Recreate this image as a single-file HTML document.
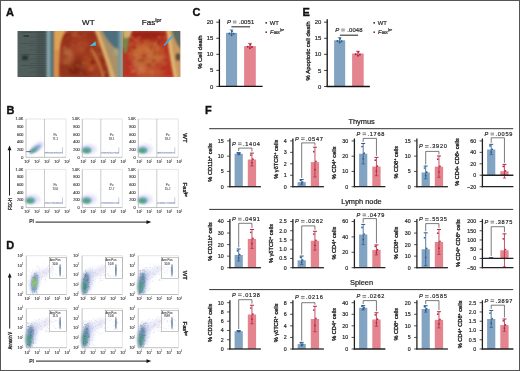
<!DOCTYPE html>
<html><head><meta charset="utf-8"><style>
html,body{margin:0;padding:0;background:#fff;}
body{width:520px;height:371px;overflow:hidden;position:relative;font-family:"Liberation Sans",sans-serif;}
svg{display:block;position:absolute;left:0;top:0;will-change:transform;}
.frame{position:absolute;left:0;top:0;width:518px;height:369px;border:1px solid #555;pointer-events:none;}
</style></head><body>
<svg width="520" height="371" viewBox="0 0 520 371" font-family="Liberation Sans, sans-serif">
<defs>
<filter id="b1" x="-50%" y="-50%" width="200%" height="200%"><feGaussianBlur stdDeviation="0.8"/></filter>
<filter id="b2" x="-50%" y="-50%" width="200%" height="200%"><feGaussianBlur stdDeviation="1.6"/></filter>
<filter id="bp" x="-20%" y="-20%" width="140%" height="140%"><feGaussianBlur stdDeviation="1.2"/></filter>
<filter id="bph" filterUnits="userSpaceOnUse" x="0" y="20" width="200" height="70"><feGaussianBlur stdDeviation="1.3"/></filter>
<filter id="bqq" filterUnits="userSpaceOnUse" x="0" y="20" width="200" height="70"><feGaussianBlur stdDeviation="2.6"/></filter>
<filter id="b1q" filterUnits="userSpaceOnUse" x="0" y="20" width="200" height="70"><feGaussianBlur stdDeviation="0.8"/></filter>
<filter id="b05" x="-50%" y="-50%" width="200%" height="200%"><feGaussianBlur stdDeviation="0.4"/></filter>
<filter id="bq" x="-20%" y="-20%" width="140%" height="140%"><feGaussianBlur stdDeviation="2.5"/></filter>
<clipPath id="ph1"><rect x="17.5" y="31" width="103.7" height="46"/></clipPath>
<clipPath id="ph2"><rect x="122.6" y="31" width="57.6" height="46"/></clipPath>
</defs>
<rect x="0" y="0" width="520" height="371" fill="#fff" />
<text x="6" y="15.6" font-size="11" text-anchor="start" fill="#111" font-weight="bold" stroke="#111" stroke-width="0.35">A</text>
<text x="6.6" y="113.9" font-size="11" text-anchor="start" fill="#111" font-weight="bold" stroke="#111" stroke-width="0.35">B</text>
<text x="192.6" y="15.8" font-size="11" text-anchor="start" fill="#111" font-weight="bold" stroke="#111" stroke-width="0.35">C</text>
<text x="6.3" y="248.9" font-size="11" text-anchor="start" fill="#111" font-weight="bold" stroke="#111" stroke-width="0.35">D</text>
<text x="302.4" y="15.9" font-size="11" text-anchor="start" fill="#111" font-weight="bold" stroke="#111" stroke-width="0.35">E</text>
<text x="205.1" y="113.9" font-size="11" text-anchor="start" fill="#111" font-weight="bold" stroke="#111" stroke-width="0.35">F</text>
<text x="88.3" y="25.2" font-size="8" text-anchor="middle" fill="#111" stroke="#111" stroke-width="0.2">WT</text>
<text x="141.8" y="25.2" font-size="8" fill="#111" stroke="#111" stroke-width="0.2">Fas<tspan font-size="5.6" dy="-3">lpr</tspan></text>
<g clip-path="url(#ph1)">
<g filter="url(#bph)">
<rect x="14" y="28" width="36" height="52" fill="#515e5c" />
<rect x="37" y="28" width="10" height="52" fill="#4a5654" />
<rect x="46.5" y="28" width="3.5" height="52" fill="#86a4aa" />
<rect x="50" y="28" width="5" height="52" fill="#527e88" />
</g><g filter="url(#bqq)">
<rect x="55" y="28" width="70" height="52" fill="#96301a" />
<ellipse cx="76" cy="68" rx="12" ry="7" fill="#7a2010"/>
<ellipse cx="80" cy="45" rx="10" ry="9" fill="#a43c20"/>
<ellipse cx="90" cy="62" rx="7" ry="9" fill="#ac4622"/>
<ellipse cx="67.1" cy="52.6" rx="3.7" ry="2.6" fill="#dca068" opacity="0.67"/>
<ellipse cx="81.7" cy="46.7" rx="3.6" ry="2.0" fill="#c87848" opacity="0.41"/>
<ellipse cx="67.9" cy="50.4" rx="2.9" ry="2.0" fill="#c87848" opacity="0.36"/>
<ellipse cx="62.8" cy="60.7" rx="2.4" ry="1.7" fill="#dca068" opacity="0.47"/>
<ellipse cx="70.3" cy="55.3" rx="3.1" ry="3.0" fill="#d08850" opacity="0.60"/>
<ellipse cx="74.3" cy="33.9" rx="2.5" ry="2.8" fill="#b86038" opacity="0.47"/>
<ellipse cx="91.8" cy="56.6" rx="3.2" ry="1.7" fill="#b86038" opacity="0.54"/>
<ellipse cx="81.6" cy="66.9" rx="1.7" ry="2.5" fill="#dca068" opacity="0.44"/>
<ellipse cx="96.0" cy="64.9" rx="2.5" ry="1.5" fill="#d08850" opacity="0.36"/>
<ellipse cx="95.9" cy="72.9" rx="2.1" ry="2.8" fill="#b86038" opacity="0.53"/>
<ellipse cx="97.8" cy="43.2" rx="1.8" ry="2.1" fill="#c87848" opacity="0.52"/>
<ellipse cx="67.8" cy="69.9" rx="2.2" ry="1.3" fill="#d08850" opacity="0.63"/>
<ellipse cx="99.8" cy="53.6" rx="3.0" ry="1.8" fill="#dca068" opacity="0.46"/>
<ellipse cx="69.2" cy="61.7" rx="3.7" ry="2.9" fill="#d08850" opacity="0.65"/>
<ellipse cx="74.4" cy="45.1" rx="2.1" ry="2.4" fill="#c87848" opacity="0.46"/>
<ellipse cx="81.0" cy="45.7" rx="2.5" ry="1.2" fill="#b86038" opacity="0.67"/>
<ellipse cx="97.5" cy="44.4" rx="3.2" ry="1.3" fill="#dca068" opacity="0.37"/>
<ellipse cx="79.8" cy="51.6" rx="3.5" ry="2.4" fill="#b86038" opacity="0.47"/>
</g><g filter="url(#b1q)">
<ellipse cx="73.3" cy="70.6" rx="2.4" ry="1.0" fill="#942a16" opacity="0.37"/>
<ellipse cx="98.2" cy="73.9" rx="1.2" ry="1.0" fill="#a8502a" opacity="0.49"/>
<ellipse cx="82.5" cy="46.3" rx="1.5" ry="0.8" fill="#8a2614" opacity="0.55"/>
<ellipse cx="79.7" cy="36.6" rx="1.6" ry="0.9" fill="#c88050" opacity="0.37"/>
<ellipse cx="105.4" cy="47.1" rx="2.2" ry="1.1" fill="#a45030" opacity="0.47"/>
<ellipse cx="89.3" cy="43.5" rx="2.0" ry="1.8" fill="#b0341f" opacity="0.57"/>
<ellipse cx="109.9" cy="48.7" rx="1.5" ry="1.2" fill="#b0482a" opacity="0.32"/>
<ellipse cx="62.2" cy="42.8" rx="2.3" ry="1.5" fill="#b0341f" opacity="0.44"/>
<ellipse cx="72.3" cy="52.9" rx="2.3" ry="1.7" fill="#a8502a" opacity="0.39"/>
<ellipse cx="66.3" cy="56.0" rx="2.3" ry="1.0" fill="#741c10" opacity="0.33"/>
<ellipse cx="64.5" cy="48.1" rx="1.6" ry="2.0" fill="#b86a3a" opacity="0.59"/>
<ellipse cx="72.6" cy="31.1" rx="1.6" ry="1.8" fill="#b0341f" opacity="0.60"/>
<ellipse cx="106.1" cy="75.9" rx="1.3" ry="1.8" fill="#681a0e" opacity="0.53"/>
<ellipse cx="85.5" cy="44.0" rx="1.7" ry="1.8" fill="#a45030" opacity="0.31"/>
<ellipse cx="105.8" cy="35.3" rx="2.2" ry="1.3" fill="#c88050" opacity="0.35"/>
<ellipse cx="104.7" cy="72.3" rx="1.0" ry="1.6" fill="#c88050" opacity="0.62"/>
<ellipse cx="95.9" cy="60.2" rx="0.9" ry="1.0" fill="#8a2614" opacity="0.51"/>
<ellipse cx="81.1" cy="73.2" rx="1.0" ry="1.2" fill="#c88050" opacity="0.47"/>
<ellipse cx="107.9" cy="46.5" rx="1.5" ry="1.5" fill="#942a16" opacity="0.44"/>
<ellipse cx="67.1" cy="53.0" rx="0.9" ry="1.5" fill="#a45030" opacity="0.50"/>
<ellipse cx="98.2" cy="38.4" rx="2.1" ry="0.9" fill="#8a2614" opacity="0.52"/>
<ellipse cx="73.8" cy="70.9" rx="1.8" ry="0.9" fill="#8a2614" opacity="0.46"/>
<ellipse cx="90.6" cy="68.6" rx="1.7" ry="1.2" fill="#c88050" opacity="0.51"/>
<ellipse cx="108.4" cy="54.3" rx="1.9" ry="1.1" fill="#b0482a" opacity="0.56"/>
<ellipse cx="102.3" cy="43.9" rx="1.3" ry="1.4" fill="#741c10" opacity="0.49"/>
<ellipse cx="64.7" cy="61.5" rx="0.9" ry="1.1" fill="#a45030" opacity="0.37"/>
<ellipse cx="72.9" cy="67.7" rx="1.8" ry="1.4" fill="#b0341f" opacity="0.69"/>
<ellipse cx="91.2" cy="63.2" rx="1.4" ry="1.5" fill="#b0341f" opacity="0.43"/>
<ellipse cx="77.6" cy="35.5" rx="1.6" ry="0.8" fill="#a8502a" opacity="0.51"/>
<ellipse cx="85.6" cy="61.0" rx="1.4" ry="1.8" fill="#942a16" opacity="0.45"/>
<ellipse cx="103.8" cy="57.1" rx="1.5" ry="1.8" fill="#b0341f" opacity="0.48"/>
<ellipse cx="91.2" cy="57.8" rx="1.5" ry="1.8" fill="#681a0e" opacity="0.52"/>
<ellipse cx="65.1" cy="62.6" rx="1.0" ry="1.6" fill="#b86a3a" opacity="0.70"/>
<ellipse cx="76.1" cy="47.2" rx="1.7" ry="1.2" fill="#942a16" opacity="0.37"/>
<ellipse cx="104.8" cy="65.1" rx="2.3" ry="0.9" fill="#a45030" opacity="0.55"/>
<ellipse cx="74.5" cy="34.9" rx="2.4" ry="1.3" fill="#c88050" opacity="0.42"/>
<ellipse cx="91.2" cy="33.4" rx="1.8" ry="1.9" fill="#942a16" opacity="0.59"/>
<ellipse cx="107.5" cy="41.9" rx="2.0" ry="2.0" fill="#b86a3a" opacity="0.63"/>
<ellipse cx="76.3" cy="44.0" rx="1.4" ry="1.2" fill="#9a3420" opacity="0.47"/>
<ellipse cx="82.9" cy="52.8" rx="1.9" ry="1.1" fill="#b0482a" opacity="0.36"/>
<ellipse cx="106.6" cy="54.9" rx="2.3" ry="1.8" fill="#8a2614" opacity="0.32"/>
<ellipse cx="109.3" cy="41.9" rx="1.9" ry="1.6" fill="#741c10" opacity="0.66"/>
<ellipse cx="72.0" cy="61.7" rx="1.5" ry="1.1" fill="#a8502a" opacity="0.44"/>
<ellipse cx="86.2" cy="75.0" rx="2.1" ry="0.8" fill="#741c10" opacity="0.33"/>
<ellipse cx="93.2" cy="62.7" rx="1.0" ry="1.8" fill="#b0341f" opacity="0.68"/>
<ellipse cx="70.7" cy="70.6" rx="1.2" ry="1.5" fill="#681a0e" opacity="0.65"/>
<ellipse cx="98.7" cy="32.7" rx="1.1" ry="1.2" fill="#741c10" opacity="0.30"/>
<ellipse cx="81.8" cy="49.8" rx="1.2" ry="1.6" fill="#a8502a" opacity="0.56"/>
<ellipse cx="94.8" cy="66.5" rx="1.6" ry="1.0" fill="#a8502a" opacity="0.37"/>
<ellipse cx="70.4" cy="41.0" rx="1.3" ry="0.9" fill="#942a16" opacity="0.66"/>
<ellipse cx="63.3" cy="31.4" rx="1.1" ry="1.8" fill="#b0341f" opacity="0.45"/>
<ellipse cx="76.2" cy="31.5" rx="1.4" ry="1.1" fill="#b86a3a" opacity="0.67"/>
<ellipse cx="67.7" cy="37.6" rx="1.4" ry="0.9" fill="#a45030" opacity="0.62"/>
<ellipse cx="91.4" cy="49.6" rx="1.3" ry="2.0" fill="#c88050" opacity="0.49"/>
<ellipse cx="89.0" cy="58.3" rx="2.3" ry="1.2" fill="#b0482a" opacity="0.54"/>
<ellipse cx="93.0" cy="62.4" rx="2.3" ry="1.6" fill="#681a0e" opacity="0.59"/>
<ellipse cx="66.2" cy="36.2" rx="2.0" ry="1.2" fill="#681a0e" opacity="0.39"/>
<ellipse cx="104.5" cy="60.5" rx="1.0" ry="1.0" fill="#741c10" opacity="0.61"/>
<ellipse cx="103.8" cy="45.2" rx="1.2" ry="1.9" fill="#a45030" opacity="0.70"/>
<ellipse cx="92.0" cy="61.1" rx="1.9" ry="1.8" fill="#681a0e" opacity="0.40"/>
<ellipse cx="107.1" cy="37.1" rx="1.5" ry="1.8" fill="#9a3420" opacity="0.55"/>
<ellipse cx="67.7" cy="75.7" rx="1.0" ry="1.5" fill="#9a3420" opacity="0.32"/>
<ellipse cx="84.2" cy="57.1" rx="1.5" ry="0.8" fill="#b0482a" opacity="0.51"/>
<ellipse cx="101.3" cy="50.9" rx="2.4" ry="1.4" fill="#741c10" opacity="0.37"/>
<ellipse cx="105.9" cy="44.7" rx="1.4" ry="1.8" fill="#b0482a" opacity="0.38"/>
<ellipse cx="68.8" cy="45.1" rx="1.1" ry="1.7" fill="#8a2614" opacity="0.33"/>
<ellipse cx="85.0" cy="35.3" rx="1.7" ry="0.9" fill="#b0482a" opacity="0.65"/>
<ellipse cx="61.3" cy="31.3" rx="1.6" ry="1.6" fill="#a8502a" opacity="0.35"/>
<ellipse cx="83.8" cy="62.8" rx="1.0" ry="0.9" fill="#c88050" opacity="0.68"/>
<ellipse cx="105.8" cy="74.9" rx="1.1" ry="1.9" fill="#741c10" opacity="0.44"/>
<ellipse cx="104.6" cy="44.4" rx="1.6" ry="1.5" fill="#b0341f" opacity="0.57"/>
<ellipse cx="91.6" cy="69.3" rx="2.2" ry="1.7" fill="#c88050" opacity="0.37"/>
<ellipse cx="72.7" cy="61.9" rx="2.0" ry="1.0" fill="#8a2614" opacity="0.45"/>
<ellipse cx="107.5" cy="55.9" rx="1.8" ry="1.4" fill="#741c10" opacity="0.55"/>
<ellipse cx="91.7" cy="45.2" rx="2.3" ry="1.4" fill="#681a0e" opacity="0.31"/>
<ellipse cx="98.1" cy="61.7" rx="2.3" ry="1.2" fill="#9a3420" opacity="0.36"/>
<ellipse cx="91.2" cy="45.4" rx="0.9" ry="1.5" fill="#a45030" opacity="0.48"/>
<ellipse cx="91.1" cy="69.8" rx="2.0" ry="1.6" fill="#a8502a" opacity="0.56"/>
<ellipse cx="75.4" cy="42.8" rx="0.8" ry="1.9" fill="#8a2614" opacity="0.64"/>
<ellipse cx="102.0" cy="58.5" rx="1.0" ry="1.4" fill="#8a2614" opacity="0.59"/>
<ellipse cx="77.4" cy="65.5" rx="2.1" ry="1.7" fill="#a8502a" opacity="0.54"/>
<ellipse cx="87.8" cy="55.6" rx="0.9" ry="1.9" fill="#681a0e" opacity="0.34"/>
<ellipse cx="69.7" cy="63.9" rx="0.8" ry="1.0" fill="#9a3420" opacity="0.37"/>
<ellipse cx="87.7" cy="58.3" rx="1.6" ry="1.3" fill="#b0341f" opacity="0.46"/>
<ellipse cx="97.1" cy="67.9" rx="0.8" ry="1.1" fill="#a8502a" opacity="0.50"/>
<ellipse cx="84.6" cy="34.5" rx="2.1" ry="1.2" fill="#a45030" opacity="0.46"/>
<ellipse cx="85.0" cy="53.6" rx="1.6" ry="1.4" fill="#9a3420" opacity="0.55"/>
<ellipse cx="88.1" cy="47.9" rx="1.8" ry="2.0" fill="#8a2614" opacity="0.68"/>
<ellipse cx="87.8" cy="47.1" rx="1.4" ry="1.7" fill="#a45030" opacity="0.51"/>
<ellipse cx="77.6" cy="38.4" rx="1.9" ry="1.1" fill="#9a3420" opacity="0.64"/>
</g><g filter="url(#bph)">
<path d="M54 28 L70 28 Q61 34 60 50 Q58.5 65 59 80 L54 80 Z" fill="#d49048"/>
<path d="M55 28 L66 28 Q60 36 59 50 L55 50 Z" fill="#dca458"/>
<path d="M94 28 L128 28 L128 80 L110 80 Q106 55 94 28 Z" fill="#a89068"/>
<path d="M99 28 L128 28 L128 54 Q110 50 101 28 Z" fill="#4e6e7e"/>
<path d="M96 28 Q104 50 114 80" stroke="#dcae68" stroke-width="4" fill="none"/>
<path d="M92 50 Q100 62 104 80" stroke="#c87a40" stroke-width="3" fill="none" opacity="0.8"/>
<ellipse cx="116" cy="52" rx="3" ry="4" fill="#a8a880" opacity="0.7"/>
<rect x="118.5" y="28" width="4" height="52" fill="#6f9aa2" />
</g>
<line x1="21" y1="32.5" x2="46.5" y2="32.5" stroke="#3a4543" stroke-width="0.55"/>
<line x1="35" y1="34.7" x2="46.5" y2="34.7" stroke="#414c4a" stroke-width="0.5"/>
<line x1="30" y1="36.9" x2="46.5" y2="36.9" stroke="#3e4947" stroke-width="0.5"/>
<line x1="35" y1="39.1" x2="46.5" y2="39.1" stroke="#414c4a" stroke-width="0.5"/>
<line x1="30" y1="41.3" x2="46.5" y2="41.3" stroke="#3e4947" stroke-width="0.5"/>
<line x1="21" y1="43.5" x2="46.5" y2="43.5" stroke="#3a4543" stroke-width="0.55"/>
<line x1="30" y1="45.7" x2="46.5" y2="45.7" stroke="#3e4947" stroke-width="0.5"/>
<line x1="35" y1="47.9" x2="46.5" y2="47.9" stroke="#414c4a" stroke-width="0.5"/>
<line x1="30" y1="50.1" x2="46.5" y2="50.1" stroke="#3e4947" stroke-width="0.5"/>
<line x1="35" y1="52.3" x2="46.5" y2="52.3" stroke="#414c4a" stroke-width="0.5"/>
<line x1="21" y1="54.5" x2="46.5" y2="54.5" stroke="#3a4543" stroke-width="0.55"/>
<line x1="35" y1="56.7" x2="46.5" y2="56.7" stroke="#414c4a" stroke-width="0.5"/>
<line x1="30" y1="58.9" x2="46.5" y2="58.9" stroke="#3e4947" stroke-width="0.5"/>
<line x1="35" y1="61.1" x2="46.5" y2="61.1" stroke="#414c4a" stroke-width="0.5"/>
<line x1="30" y1="63.3" x2="46.5" y2="63.3" stroke="#3e4947" stroke-width="0.5"/>
<line x1="21" y1="65.5" x2="46.5" y2="65.5" stroke="#3a4543" stroke-width="0.55"/>
<line x1="30" y1="67.7" x2="46.5" y2="67.7" stroke="#3e4947" stroke-width="0.5"/>
<line x1="35" y1="69.9" x2="46.5" y2="69.9" stroke="#414c4a" stroke-width="0.5"/>
<line x1="30" y1="72.1" x2="46.5" y2="72.1" stroke="#3e4947" stroke-width="0.5"/>
<line x1="35" y1="74.3" x2="46.5" y2="74.3" stroke="#414c4a" stroke-width="0.5"/>
<line x1="21" y1="76.5" x2="46.5" y2="76.5" stroke="#3a4543" stroke-width="0.55"/>
<rect x="23.5" y="35.2" width="5.5" height="1.6" fill="#303838" filter="url(#b05)"/>
<rect x="22" y="55.5" width="6" height="4.5" fill="#283032" filter="url(#b1)"/>
<path d="M89.5 46 L95.5 41.5 L96 45.5 Z" fill="#3fc6e6" filter="url(#b05)"/>
</g>
<rect x="120.2" y="31" width="2" height="46" fill="#8aa09c" />
<g clip-path="url(#ph2)">
<g filter="url(#bph)">
</g><g filter="url(#bqq)">
<rect x="118" y="28" width="66" height="52" fill="#b83222" />
<ellipse cx="146" cy="35" rx="20" ry="6" fill="#9a2418"/>
<ellipse cx="147" cy="54" rx="16" ry="13" fill="#bc5c2c"/>
<ellipse cx="141" cy="50" rx="8" ry="6" fill="#c46a34"/>
<ellipse cx="150" cy="72" rx="14" ry="4" fill="#c05a30"/>
<ellipse cx="150.3" cy="62.4" rx="1.5" ry="2.6" fill="#dca068" opacity="0.63"/>
<ellipse cx="147.0" cy="59.8" rx="3.0" ry="1.7" fill="#b86038" opacity="0.55"/>
<ellipse cx="148.7" cy="55.8" rx="2.9" ry="2.7" fill="#b86038" opacity="0.53"/>
<ellipse cx="141.2" cy="69.5" rx="3.3" ry="2.8" fill="#dca068" opacity="0.68"/>
<ellipse cx="136.3" cy="64.9" rx="3.8" ry="2.4" fill="#dca068" opacity="0.57"/>
<ellipse cx="138.7" cy="66.7" rx="2.1" ry="1.6" fill="#b86038" opacity="0.61"/>
<ellipse cx="159.2" cy="62.1" rx="3.9" ry="2.1" fill="#c87848" opacity="0.44"/>
<ellipse cx="137.6" cy="60.0" rx="2.2" ry="1.2" fill="#c87848" opacity="0.67"/>
<ellipse cx="154.0" cy="57.0" rx="4.0" ry="1.5" fill="#dca068" opacity="0.43"/>
<ellipse cx="135.8" cy="57.5" rx="3.0" ry="2.3" fill="#dca068" opacity="0.48"/>
<ellipse cx="155.4" cy="63.7" rx="1.9" ry="2.6" fill="#b86038" opacity="0.51"/>
<ellipse cx="144.1" cy="64.5" rx="3.8" ry="1.7" fill="#dca068" opacity="0.39"/>
<ellipse cx="162.2" cy="58.5" rx="3.6" ry="2.2" fill="#dca068" opacity="0.56"/>
<ellipse cx="138.3" cy="56.6" rx="1.6" ry="1.4" fill="#dca068" opacity="0.36"/>
</g><g filter="url(#b1q)">
<ellipse cx="145.3" cy="54.5" rx="2.1" ry="1.5" fill="#c87040" opacity="0.50"/>
<ellipse cx="151.0" cy="36.2" rx="0.8" ry="1.2" fill="#b03a22" opacity="0.67"/>
<ellipse cx="146.5" cy="49.4" rx="0.9" ry="1.6" fill="#d89060" opacity="0.43"/>
<ellipse cx="128.9" cy="45.3" rx="1.2" ry="1.9" fill="#c8502e" opacity="0.52"/>
<ellipse cx="149.6" cy="65.0" rx="1.9" ry="1.8" fill="#741c10" opacity="0.57"/>
<ellipse cx="131.0" cy="44.6" rx="1.9" ry="1.4" fill="#b85c34" opacity="0.66"/>
<ellipse cx="142.3" cy="41.8" rx="0.9" ry="1.8" fill="#862012" opacity="0.63"/>
<ellipse cx="134.1" cy="38.9" rx="1.9" ry="1.7" fill="#c87040" opacity="0.30"/>
<ellipse cx="129.2" cy="58.1" rx="0.8" ry="2.0" fill="#c87040" opacity="0.34"/>
<ellipse cx="162.1" cy="64.5" rx="0.9" ry="1.9" fill="#c87040" opacity="0.53"/>
<ellipse cx="139.0" cy="37.5" rx="2.1" ry="1.5" fill="#c87040" opacity="0.48"/>
<ellipse cx="128.9" cy="53.7" rx="1.9" ry="0.8" fill="#d89060" opacity="0.43"/>
<ellipse cx="142.7" cy="60.1" rx="1.8" ry="1.7" fill="#741c10" opacity="0.34"/>
<ellipse cx="132.6" cy="71.2" rx="2.1" ry="1.7" fill="#d89060" opacity="0.42"/>
<ellipse cx="136.5" cy="54.8" rx="1.0" ry="0.9" fill="#c87040" opacity="0.47"/>
<ellipse cx="145.7" cy="58.9" rx="1.1" ry="0.8" fill="#b85c34" opacity="0.36"/>
<ellipse cx="136.7" cy="40.4" rx="2.3" ry="1.6" fill="#d89060" opacity="0.37"/>
<ellipse cx="162.4" cy="63.5" rx="2.4" ry="1.7" fill="#c05a30" opacity="0.41"/>
<ellipse cx="160.6" cy="52.2" rx="1.9" ry="1.5" fill="#c8502e" opacity="0.49"/>
<ellipse cx="152.4" cy="71.3" rx="0.9" ry="1.1" fill="#d89060" opacity="0.62"/>
<ellipse cx="149.0" cy="55.8" rx="1.7" ry="0.9" fill="#d89060" opacity="0.70"/>
<ellipse cx="130.8" cy="37.0" rx="2.3" ry="1.1" fill="#b85c34" opacity="0.47"/>
<ellipse cx="153.2" cy="52.3" rx="1.0" ry="1.3" fill="#b85c34" opacity="0.49"/>
<ellipse cx="153.4" cy="40.0" rx="1.2" ry="1.1" fill="#9a2a16" opacity="0.47"/>
<ellipse cx="156.9" cy="43.1" rx="0.8" ry="1.8" fill="#b85c34" opacity="0.58"/>
<ellipse cx="139.0" cy="56.4" rx="2.1" ry="0.9" fill="#b85c34" opacity="0.65"/>
<ellipse cx="159.4" cy="36.8" rx="2.3" ry="1.5" fill="#9a2a16" opacity="0.66"/>
<ellipse cx="159.3" cy="52.9" rx="0.9" ry="2.0" fill="#b03a22" opacity="0.57"/>
<ellipse cx="165.4" cy="63.9" rx="1.3" ry="1.9" fill="#c87040" opacity="0.33"/>
<ellipse cx="138.8" cy="60.0" rx="1.0" ry="1.1" fill="#9a2a16" opacity="0.35"/>
<ellipse cx="151.8" cy="73.5" rx="2.2" ry="1.3" fill="#c87040" opacity="0.62"/>
<ellipse cx="150.8" cy="58.5" rx="1.2" ry="1.3" fill="#b85c34" opacity="0.44"/>
<ellipse cx="155.4" cy="40.5" rx="1.6" ry="2.0" fill="#b03a22" opacity="0.52"/>
<ellipse cx="140.5" cy="43.9" rx="2.3" ry="1.2" fill="#c83a24" opacity="0.53"/>
<ellipse cx="162.6" cy="68.9" rx="1.4" ry="1.3" fill="#862012" opacity="0.43"/>
<ellipse cx="129.0" cy="63.9" rx="2.0" ry="1.2" fill="#9a2a16" opacity="0.50"/>
<ellipse cx="131.8" cy="37.2" rx="2.0" ry="1.9" fill="#b85c34" opacity="0.56"/>
<ellipse cx="138.1" cy="46.7" rx="1.9" ry="1.2" fill="#c83a24" opacity="0.32"/>
<ellipse cx="146.8" cy="59.4" rx="1.3" ry="0.9" fill="#c83a24" opacity="0.45"/>
<ellipse cx="162.7" cy="49.2" rx="0.9" ry="1.0" fill="#c87040" opacity="0.46"/>
<ellipse cx="161.7" cy="72.9" rx="1.1" ry="1.9" fill="#c8502e" opacity="0.35"/>
<ellipse cx="161.4" cy="59.9" rx="1.2" ry="1.2" fill="#c83a24" opacity="0.62"/>
<ellipse cx="134.3" cy="47.4" rx="1.7" ry="1.8" fill="#862012" opacity="0.60"/>
<ellipse cx="146.4" cy="41.8" rx="2.3" ry="1.6" fill="#c87040" opacity="0.57"/>
<ellipse cx="143.1" cy="42.0" rx="2.0" ry="1.3" fill="#c83a24" opacity="0.55"/>
<ellipse cx="129.1" cy="42.2" rx="2.0" ry="1.2" fill="#a83018" opacity="0.32"/>
<ellipse cx="138.4" cy="73.4" rx="0.8" ry="1.5" fill="#d89060" opacity="0.56"/>
<ellipse cx="151.8" cy="64.3" rx="2.1" ry="1.2" fill="#c05a30" opacity="0.65"/>
<ellipse cx="139.4" cy="60.8" rx="2.2" ry="1.3" fill="#9a2a16" opacity="0.41"/>
<ellipse cx="160.6" cy="37.4" rx="0.9" ry="1.3" fill="#c87040" opacity="0.35"/>
<ellipse cx="141.5" cy="55.5" rx="1.0" ry="1.7" fill="#c83a24" opacity="0.31"/>
<ellipse cx="146.8" cy="41.9" rx="1.1" ry="1.1" fill="#a83018" opacity="0.67"/>
<ellipse cx="165.4" cy="42.3" rx="1.4" ry="1.0" fill="#c83a24" opacity="0.49"/>
<ellipse cx="131.2" cy="42.8" rx="1.7" ry="0.9" fill="#c87040" opacity="0.59"/>
<ellipse cx="149.8" cy="44.9" rx="2.4" ry="1.0" fill="#b85c34" opacity="0.48"/>
<ellipse cx="148.6" cy="51.3" rx="1.3" ry="1.9" fill="#d89060" opacity="0.39"/>
<ellipse cx="155.8" cy="43.8" rx="1.3" ry="1.6" fill="#d89060" opacity="0.63"/>
<ellipse cx="134.0" cy="38.1" rx="1.2" ry="1.8" fill="#c83a24" opacity="0.33"/>
<ellipse cx="130.3" cy="67.2" rx="1.2" ry="1.6" fill="#c87040" opacity="0.39"/>
<ellipse cx="137.8" cy="73.2" rx="2.0" ry="1.1" fill="#b85c34" opacity="0.44"/>
<ellipse cx="144.1" cy="55.2" rx="2.2" ry="1.2" fill="#9a2a16" opacity="0.58"/>
<ellipse cx="144.4" cy="56.0" rx="1.7" ry="2.0" fill="#9a2a16" opacity="0.33"/>
<ellipse cx="134.1" cy="57.7" rx="1.9" ry="0.8" fill="#862012" opacity="0.61"/>
<ellipse cx="134.6" cy="70.6" rx="1.4" ry="1.0" fill="#d89060" opacity="0.47"/>
<ellipse cx="148.9" cy="64.5" rx="1.3" ry="1.6" fill="#b03a22" opacity="0.45"/>
<ellipse cx="132.4" cy="42.2" rx="1.5" ry="1.8" fill="#b03a22" opacity="0.33"/>
<ellipse cx="149.3" cy="72.2" rx="1.2" ry="0.9" fill="#c87040" opacity="0.63"/>
<ellipse cx="159.0" cy="37.3" rx="1.6" ry="1.4" fill="#c87040" opacity="0.61"/>
<ellipse cx="143.4" cy="51.5" rx="1.4" ry="1.5" fill="#c8502e" opacity="0.37"/>
<ellipse cx="147.8" cy="66.2" rx="1.4" ry="0.9" fill="#c83a24" opacity="0.37"/>
<ellipse cx="163.4" cy="53.2" rx="1.8" ry="0.8" fill="#c05a30" opacity="0.30"/>
<ellipse cx="146.5" cy="65.8" rx="1.3" ry="1.4" fill="#c8502e" opacity="0.37"/>
<ellipse cx="141.3" cy="62.6" rx="1.8" ry="1.9" fill="#b85c34" opacity="0.36"/>
<ellipse cx="130.8" cy="73.9" rx="1.8" ry="0.9" fill="#c83a24" opacity="0.56"/>
<ellipse cx="147.5" cy="53.9" rx="1.1" ry="1.3" fill="#c8502e" opacity="0.41"/>
<ellipse cx="157.6" cy="43.4" rx="1.3" ry="1.1" fill="#741c10" opacity="0.59"/>
<ellipse cx="143.4" cy="54.8" rx="1.0" ry="1.8" fill="#c05a30" opacity="0.54"/>
<ellipse cx="159.5" cy="53.4" rx="1.2" ry="1.4" fill="#c83a24" opacity="0.61"/>
<ellipse cx="161.4" cy="64.5" rx="1.6" ry="0.9" fill="#a83018" opacity="0.49"/>
<ellipse cx="153.4" cy="61.0" rx="1.6" ry="1.8" fill="#9a2a16" opacity="0.61"/>
<ellipse cx="157.9" cy="47.8" rx="1.4" ry="1.1" fill="#d89060" opacity="0.42"/>
<ellipse cx="151.2" cy="47.0" rx="1.6" ry="2.0" fill="#b03a22" opacity="0.61"/>
<ellipse cx="146.2" cy="64.7" rx="1.1" ry="1.4" fill="#a83018" opacity="0.35"/>
<ellipse cx="154.6" cy="53.1" rx="1.2" ry="1.4" fill="#862012" opacity="0.54"/>
<ellipse cx="164.7" cy="37.5" rx="1.5" ry="1.9" fill="#c05a30" opacity="0.58"/>
<ellipse cx="164.8" cy="60.0" rx="1.8" ry="1.3" fill="#9a2a16" opacity="0.56"/>
<ellipse cx="158.5" cy="43.1" rx="1.0" ry="1.8" fill="#862012" opacity="0.56"/>
<ellipse cx="157.6" cy="64.3" rx="1.1" ry="0.8" fill="#9a2a16" opacity="0.52"/>
<ellipse cx="151.6" cy="52.7" rx="1.4" ry="1.6" fill="#d89060" opacity="0.40"/>
<ellipse cx="163.1" cy="71.6" rx="1.6" ry="0.9" fill="#b85c34" opacity="0.43"/>
</g><g filter="url(#bph)">
<path d="M118 28 L131 28 L129 40 L127 52 L118 56 Z" fill="#7a8448"/>
<path d="M123 28 L133 28 L130 37 L124 38 Z" fill="#d4b070"/>
<rect x="118" y="48" width="6" height="32" fill="#8a5030" />
<path d="M166 28 L186 28 L186 80 L176 80 Q173 55 166 28 Z" fill="#c89860"/>
<path d="M170 28 L186 28 L186 54 Q176 48 171 28 Z" fill="#5a6c64"/>
<path d="M168 28 Q170 50 176 80" stroke="#e0b870" stroke-width="3.5" fill="none"/>
<ellipse cx="178" cy="57" rx="2.5" ry="4" fill="#3a3a30" opacity="0.8"/>
</g>
<path d="M172.5 36 L164 45.5" stroke="#3fa8e8" stroke-width="1.8" filter="url(#b05)"/>
</g>
<ellipse cx="37" cy="147.3" rx="8" ry="3.6" fill="#c8c4ee" opacity="0.65" transform="rotate(-35 37 147.3)" filter="url(#b2)"/>
<ellipse cx="35" cy="149.3" rx="7" ry="2.5" fill="#6f9fcc" opacity="0.85" transform="rotate(-35 35 149.3)" filter="url(#b1)"/>
<ellipse cx="33.5" cy="150.5" rx="3.6" ry="1.2" fill="#4f9f5f" opacity="0.95" transform="rotate(-25 33.5 150.5)" filter="url(#b1)"/>
<line x1="26" y1="151.6" x2="31" y2="151.6" stroke="#555" stroke-width="0.8"/>
<g fill="#8090c8" opacity="0.55"><circle cx="50.7" cy="152.2" r="0.35"/><circle cx="56.4" cy="152.1" r="0.35"/><circle cx="54.4" cy="152.5" r="0.35"/><circle cx="46.0" cy="152.8" r="0.35"/><circle cx="45.7" cy="152.7" r="0.35"/><circle cx="46.2" cy="152.1" r="0.35"/><circle cx="52.4" cy="153.2" r="0.35"/><circle cx="47.2" cy="152.3" r="0.35"/><circle cx="56.0" cy="153.4" r="0.35"/><circle cx="55.1" cy="152.6" r="0.35"/><circle cx="62.1" cy="152.1" r="0.35"/><circle cx="60.0" cy="152.4" r="0.35"/><circle cx="47.5" cy="152.2" r="0.35"/><circle cx="50.4" cy="153.2" r="0.35"/><circle cx="48.2" cy="152.9" r="0.35"/><circle cx="56.2" cy="152.6" r="0.35"/><circle cx="54.6" cy="152.1" r="0.35"/><circle cx="46.0" cy="152.3" r="0.35"/><circle cx="56.9" cy="152.6" r="0.35"/><circle cx="50.5" cy="152.9" r="0.35"/><circle cx="52.9" cy="152.4" r="0.35"/><circle cx="58.9" cy="153.0" r="0.35"/><circle cx="49.3" cy="152.9" r="0.35"/><circle cx="54.2" cy="153.3" r="0.35"/><circle cx="57.8" cy="152.4" r="0.35"/><circle cx="62.2" cy="152.2" r="0.35"/><circle cx="52.3" cy="153.1" r="0.35"/><circle cx="47.7" cy="152.7" r="0.35"/><circle cx="45.7" cy="153.0" r="0.35"/><circle cx="58.4" cy="152.9" r="0.35"/><circle cx="60.3" cy="152.5" r="0.35"/><circle cx="57.2" cy="152.9" r="0.35"/><circle cx="55.1" cy="152.7" r="0.35"/><circle cx="59.7" cy="153.4" r="0.35"/><circle cx="53.3" cy="153.0" r="0.35"/><circle cx="46.1" cy="153.1" r="0.35"/><circle cx="56.3" cy="153.5" r="0.35"/><circle cx="59.4" cy="152.4" r="0.35"/><circle cx="51.8" cy="153.0" r="0.35"/><circle cx="45.4" cy="152.7" r="0.35"/><circle cx="47.9" cy="152.2" r="0.35"/><circle cx="46.0" cy="153.2" r="0.35"/><circle cx="47.3" cy="152.4" r="0.35"/><circle cx="51.8" cy="153.3" r="0.35"/><circle cx="46.4" cy="152.7" r="0.35"/><circle cx="54.6" cy="153.3" r="0.35"/><circle cx="59.3" cy="153.3" r="0.35"/><circle cx="49.9" cy="152.6" r="0.35"/><circle cx="51.3" cy="153.3" r="0.35"/><circle cx="61.8" cy="152.2" r="0.35"/><circle cx="48.1" cy="152.3" r="0.35"/><circle cx="49.1" cy="152.7" r="0.35"/><circle cx="55.3" cy="152.4" r="0.35"/><circle cx="45.1" cy="152.6" r="0.35"/><circle cx="51.5" cy="152.8" r="0.35"/></g>
<g fill="#b0b8e8" opacity="0.35"><circle cx="61.4" cy="148.4" r="0.35"/><circle cx="46.5" cy="147.0" r="0.35"/><circle cx="52.0" cy="136.3" r="0.35"/><circle cx="59.6" cy="150.1" r="0.35"/><circle cx="58.7" cy="150.5" r="0.35"/><circle cx="42.3" cy="142.9" r="0.35"/><circle cx="32.5" cy="147.4" r="0.35"/><circle cx="31.1" cy="136.6" r="0.35"/><circle cx="36.1" cy="138.4" r="0.35"/><circle cx="40.6" cy="136.3" r="0.35"/><circle cx="29.0" cy="138.2" r="0.35"/><circle cx="32.4" cy="142.2" r="0.35"/><circle cx="29.9" cy="151.9" r="0.35"/><circle cx="49.9" cy="138.1" r="0.35"/><circle cx="37.6" cy="141.9" r="0.35"/><circle cx="41.4" cy="137.6" r="0.35"/><circle cx="57.9" cy="154.2" r="0.35"/><circle cx="44.8" cy="144.5" r="0.35"/></g>
<line x1="44.5" y1="152.8" x2="62.5" y2="152.8" stroke="#7884a8" stroke-width="0.6"/>
<line x1="62.5" y1="147.3" x2="62.5" y2="153.8" stroke="#8a98c8" stroke-width="0.5"/>
<path d="M26 119 H66 V157.3" fill="none" stroke="#d4d4d4" stroke-width="0.6"/>
<path d="M26 119 V157.3 H66" fill="none" stroke="#a6a6a6" stroke-width="0.7"/>
<text x="23.4" y="120.35" font-size="3.8" text-anchor="end" fill="#383838"  stroke="#383838" stroke-width="0.12">1.0K</text>
<text x="23.4" y="128.01" font-size="3.8" text-anchor="end" fill="#383838"  stroke="#383838" stroke-width="0.12">800</text>
<text x="23.4" y="135.67" font-size="3.8" text-anchor="end" fill="#383838"  stroke="#383838" stroke-width="0.12">600</text>
<text x="23.4" y="143.33" font-size="3.8" text-anchor="end" fill="#383838"  stroke="#383838" stroke-width="0.12">400</text>
<text x="23.4" y="150.99" font-size="3.8" text-anchor="end" fill="#383838"  stroke="#383838" stroke-width="0.12">200</text>
<text x="23.4" y="158.65" font-size="3.8" text-anchor="end" fill="#383838"  stroke="#383838" stroke-width="0.12">0</text>
<text x="26.4" y="163.1" font-size="3.9" fill="#383838" text-anchor="middle" stroke="#383838" stroke-width="0.12">10</text>
<text x="28.5" y="161.6" font-size="2.6" fill="#383838">0</text>
<text x="36.4" y="163.1" font-size="3.9" fill="#383838" text-anchor="middle" stroke="#383838" stroke-width="0.12">10</text>
<text x="38.5" y="161.6" font-size="2.6" fill="#383838">1</text>
<text x="46.4" y="163.1" font-size="3.9" fill="#383838" text-anchor="middle" stroke="#383838" stroke-width="0.12">10</text>
<text x="48.5" y="161.6" font-size="2.6" fill="#383838">2</text>
<text x="56.4" y="163.1" font-size="3.9" fill="#383838" text-anchor="middle" stroke="#383838" stroke-width="0.12">10</text>
<text x="58.5" y="161.6" font-size="2.6" fill="#383838">3</text>
<text x="66.4" y="163.1" font-size="3.9" fill="#383838" text-anchor="middle" stroke="#383838" stroke-width="0.12">10</text>
<text x="68.5" y="161.6" font-size="2.6" fill="#383838">4</text>
<line x1="44.5" y1="119" x2="44.5" y2="157.3" stroke="#a8a8a8" stroke-width="0.6"/>
<text x="55.3" y="135.9" font-size="3.0" text-anchor="middle" fill="#666"  stroke="#666" stroke-width="0.12">Pu</text>
<text x="55.3" y="139.8" font-size="3.0" text-anchor="middle" fill="#666"  stroke="#666" stroke-width="0.12">71.1</text>
<ellipse cx="88.8" cy="149.3" rx="8" ry="5" fill="#cfd0f2" opacity="0.6" transform="rotate(0 88.8 149.3)" filter="url(#b2)"/>
<ellipse cx="86.8" cy="150.1" rx="4.8" ry="3.4" fill="#6f9fcc" opacity="0.9" transform="rotate(0 86.8 150.1)" filter="url(#b1)"/>
<ellipse cx="86.3" cy="150.7" rx="3.8" ry="1.6" fill="#40a850" opacity="0.95" transform="rotate(0 86.3 150.7)" filter="url(#b1)"/>
<g fill="#8090c8" opacity="0.55"><circle cx="102.8" cy="152.2" r="0.35"/><circle cx="107.3" cy="152.4" r="0.35"/><circle cx="115.8" cy="152.2" r="0.35"/><circle cx="101.7" cy="153.4" r="0.35"/><circle cx="110.5" cy="152.2" r="0.35"/><circle cx="110.8" cy="152.0" r="0.35"/><circle cx="110.5" cy="153.5" r="0.35"/><circle cx="116.4" cy="153.0" r="0.35"/><circle cx="105.9" cy="152.6" r="0.35"/><circle cx="104.2" cy="153.2" r="0.35"/><circle cx="110.6" cy="153.2" r="0.35"/><circle cx="107.1" cy="152.3" r="0.35"/><circle cx="115.5" cy="153.5" r="0.35"/><circle cx="116.2" cy="153.2" r="0.35"/><circle cx="115.6" cy="153.1" r="0.35"/><circle cx="105.3" cy="152.8" r="0.35"/><circle cx="107.5" cy="152.0" r="0.35"/><circle cx="101.8" cy="152.4" r="0.35"/><circle cx="105.8" cy="153.0" r="0.35"/><circle cx="118.0" cy="152.7" r="0.35"/><circle cx="117.7" cy="153.5" r="0.35"/><circle cx="118.0" cy="152.5" r="0.35"/><circle cx="105.2" cy="152.3" r="0.35"/><circle cx="104.7" cy="152.3" r="0.35"/><circle cx="112.2" cy="153.4" r="0.35"/><circle cx="116.0" cy="152.7" r="0.35"/><circle cx="112.7" cy="153.2" r="0.35"/><circle cx="102.8" cy="153.0" r="0.35"/><circle cx="117.2" cy="153.2" r="0.35"/><circle cx="114.4" cy="152.7" r="0.35"/><circle cx="104.4" cy="153.2" r="0.35"/><circle cx="107.1" cy="153.2" r="0.35"/><circle cx="118.3" cy="152.6" r="0.35"/><circle cx="108.3" cy="153.4" r="0.35"/><circle cx="114.0" cy="152.3" r="0.35"/><circle cx="103.5" cy="152.2" r="0.35"/><circle cx="117.1" cy="153.2" r="0.35"/><circle cx="103.9" cy="153.2" r="0.35"/><circle cx="118.5" cy="153.0" r="0.35"/><circle cx="107.4" cy="152.8" r="0.35"/><circle cx="103.6" cy="152.0" r="0.35"/><circle cx="118.3" cy="153.0" r="0.35"/><circle cx="110.5" cy="153.4" r="0.35"/><circle cx="108.9" cy="153.3" r="0.35"/><circle cx="115.8" cy="152.3" r="0.35"/><circle cx="105.7" cy="152.4" r="0.35"/><circle cx="105.5" cy="152.9" r="0.35"/><circle cx="105.8" cy="152.6" r="0.35"/><circle cx="103.6" cy="153.4" r="0.35"/><circle cx="107.5" cy="152.7" r="0.35"/><circle cx="111.5" cy="153.4" r="0.35"/><circle cx="108.7" cy="153.4" r="0.35"/><circle cx="110.1" cy="152.8" r="0.35"/><circle cx="110.5" cy="152.0" r="0.35"/><circle cx="109.0" cy="152.3" r="0.35"/></g>
<g fill="#b0b8e8" opacity="0.35"><circle cx="85.4" cy="150.5" r="0.35"/><circle cx="91.2" cy="144.3" r="0.35"/><circle cx="110.0" cy="145.9" r="0.35"/><circle cx="96.4" cy="145.1" r="0.35"/><circle cx="104.2" cy="150.2" r="0.35"/><circle cx="88.9" cy="145.9" r="0.35"/><circle cx="93.7" cy="140.6" r="0.35"/><circle cx="111.6" cy="144.9" r="0.35"/><circle cx="104.4" cy="149.7" r="0.35"/><circle cx="116.3" cy="143.7" r="0.35"/><circle cx="106.1" cy="144.9" r="0.35"/><circle cx="102.7" cy="148.5" r="0.35"/><circle cx="100.7" cy="145.4" r="0.35"/><circle cx="101.6" cy="153.2" r="0.35"/><circle cx="109.1" cy="152.0" r="0.35"/><circle cx="117.3" cy="140.2" r="0.35"/><circle cx="104.3" cy="153.2" r="0.35"/><circle cx="113.9" cy="137.9" r="0.35"/></g>
<line x1="100.8" y1="152.8" x2="118.8" y2="152.8" stroke="#7884a8" stroke-width="0.6"/>
<line x1="118.8" y1="147.3" x2="118.8" y2="153.8" stroke="#8a98c8" stroke-width="0.5"/>
<path d="M82.3 119 H122.3 V157.3" fill="none" stroke="#d4d4d4" stroke-width="0.6"/>
<path d="M82.3 119 V157.3 H122.3" fill="none" stroke="#a6a6a6" stroke-width="0.7"/>
<text x="79.7" y="120.35" font-size="3.8" text-anchor="end" fill="#383838"  stroke="#383838" stroke-width="0.12">1.0K</text>
<text x="79.7" y="128.01" font-size="3.8" text-anchor="end" fill="#383838"  stroke="#383838" stroke-width="0.12">800</text>
<text x="79.7" y="135.67" font-size="3.8" text-anchor="end" fill="#383838"  stroke="#383838" stroke-width="0.12">600</text>
<text x="79.7" y="143.33" font-size="3.8" text-anchor="end" fill="#383838"  stroke="#383838" stroke-width="0.12">400</text>
<text x="79.7" y="150.99" font-size="3.8" text-anchor="end" fill="#383838"  stroke="#383838" stroke-width="0.12">200</text>
<text x="79.7" y="158.65" font-size="3.8" text-anchor="end" fill="#383838"  stroke="#383838" stroke-width="0.12">0</text>
<text x="82.7" y="163.1" font-size="3.9" fill="#383838" text-anchor="middle" stroke="#383838" stroke-width="0.12">10</text>
<text x="84.8" y="161.6" font-size="2.6" fill="#383838">0</text>
<text x="92.7" y="163.1" font-size="3.9" fill="#383838" text-anchor="middle" stroke="#383838" stroke-width="0.12">10</text>
<text x="94.8" y="161.6" font-size="2.6" fill="#383838">1</text>
<text x="102.7" y="163.1" font-size="3.9" fill="#383838" text-anchor="middle" stroke="#383838" stroke-width="0.12">10</text>
<text x="104.8" y="161.6" font-size="2.6" fill="#383838">2</text>
<text x="112.7" y="163.1" font-size="3.9" fill="#383838" text-anchor="middle" stroke="#383838" stroke-width="0.12">10</text>
<text x="114.8" y="161.6" font-size="2.6" fill="#383838">3</text>
<text x="122.7" y="163.1" font-size="3.9" fill="#383838" text-anchor="middle" stroke="#383838" stroke-width="0.12">10</text>
<text x="124.8" y="161.6" font-size="2.6" fill="#383838">4</text>
<line x1="100.8" y1="119" x2="100.8" y2="157.3" stroke="#a8a8a8" stroke-width="0.6"/>
<text x="111.6" y="135.9" font-size="3.0" text-anchor="middle" fill="#666"  stroke="#666" stroke-width="0.12">Pu</text>
<text x="111.6" y="139.8" font-size="3.0" text-anchor="middle" fill="#666"  stroke="#666" stroke-width="0.12">19.1</text>
<ellipse cx="144.8" cy="149.3" rx="8" ry="5" fill="#cfd0f2" opacity="0.6" transform="rotate(0 144.8 149.3)" filter="url(#b2)"/>
<ellipse cx="142.8" cy="150.1" rx="4.8" ry="3.4" fill="#6f9fcc" opacity="0.9" transform="rotate(0 142.8 150.1)" filter="url(#b1)"/>
<ellipse cx="142.3" cy="150.7" rx="3.8" ry="1.6" fill="#40a850" opacity="0.95" transform="rotate(0 142.3 150.7)" filter="url(#b1)"/>
<g fill="#8090c8" opacity="0.55"><circle cx="159.4" cy="152.7" r="0.35"/><circle cx="158.6" cy="152.4" r="0.35"/><circle cx="158.6" cy="153.0" r="0.35"/><circle cx="171.0" cy="153.3" r="0.35"/><circle cx="160.0" cy="153.1" r="0.35"/><circle cx="168.9" cy="152.2" r="0.35"/><circle cx="172.7" cy="153.5" r="0.35"/><circle cx="161.1" cy="153.4" r="0.35"/><circle cx="164.3" cy="152.7" r="0.35"/><circle cx="174.6" cy="153.2" r="0.35"/><circle cx="160.1" cy="152.6" r="0.35"/><circle cx="166.3" cy="152.5" r="0.35"/><circle cx="160.7" cy="152.5" r="0.35"/><circle cx="169.9" cy="152.0" r="0.35"/><circle cx="167.0" cy="152.7" r="0.35"/><circle cx="157.6" cy="152.5" r="0.35"/><circle cx="168.2" cy="152.8" r="0.35"/><circle cx="158.4" cy="153.5" r="0.35"/><circle cx="171.1" cy="153.5" r="0.35"/><circle cx="159.1" cy="152.4" r="0.35"/><circle cx="158.0" cy="153.2" r="0.35"/><circle cx="162.0" cy="152.2" r="0.35"/><circle cx="164.7" cy="153.4" r="0.35"/><circle cx="171.6" cy="152.4" r="0.35"/><circle cx="159.9" cy="153.4" r="0.35"/><circle cx="167.3" cy="153.1" r="0.35"/><circle cx="158.9" cy="152.1" r="0.35"/><circle cx="169.3" cy="152.6" r="0.35"/><circle cx="158.6" cy="153.4" r="0.35"/><circle cx="168.4" cy="153.2" r="0.35"/><circle cx="158.8" cy="153.3" r="0.35"/><circle cx="158.5" cy="153.3" r="0.35"/><circle cx="165.2" cy="152.5" r="0.35"/><circle cx="167.0" cy="153.4" r="0.35"/><circle cx="162.0" cy="152.2" r="0.35"/><circle cx="166.5" cy="152.4" r="0.35"/><circle cx="159.2" cy="152.2" r="0.35"/><circle cx="158.2" cy="152.3" r="0.35"/><circle cx="162.8" cy="152.5" r="0.35"/><circle cx="170.6" cy="152.4" r="0.35"/><circle cx="166.1" cy="152.3" r="0.35"/><circle cx="163.4" cy="152.0" r="0.35"/><circle cx="161.7" cy="152.0" r="0.35"/><circle cx="170.1" cy="152.8" r="0.35"/><circle cx="160.6" cy="152.7" r="0.35"/><circle cx="173.7" cy="152.2" r="0.35"/><circle cx="171.6" cy="152.6" r="0.35"/><circle cx="166.0" cy="153.3" r="0.35"/><circle cx="164.2" cy="152.8" r="0.35"/><circle cx="169.3" cy="153.5" r="0.35"/><circle cx="163.3" cy="153.2" r="0.35"/><circle cx="169.7" cy="153.0" r="0.35"/><circle cx="164.4" cy="152.5" r="0.35"/><circle cx="158.3" cy="152.2" r="0.35"/><circle cx="158.5" cy="153.1" r="0.35"/></g>
<g fill="#b0b8e8" opacity="0.35"><circle cx="150.0" cy="138.4" r="0.35"/><circle cx="144.2" cy="151.3" r="0.35"/><circle cx="170.9" cy="148.0" r="0.35"/><circle cx="150.9" cy="139.9" r="0.35"/><circle cx="151.3" cy="144.0" r="0.35"/><circle cx="146.7" cy="143.8" r="0.35"/><circle cx="150.3" cy="153.6" r="0.35"/><circle cx="174.4" cy="145.7" r="0.35"/><circle cx="149.6" cy="153.6" r="0.35"/><circle cx="151.8" cy="142.1" r="0.35"/><circle cx="141.3" cy="142.6" r="0.35"/><circle cx="157.4" cy="144.9" r="0.35"/><circle cx="148.1" cy="144.9" r="0.35"/><circle cx="141.5" cy="140.3" r="0.35"/><circle cx="144.4" cy="142.9" r="0.35"/><circle cx="142.7" cy="135.7" r="0.35"/><circle cx="151.6" cy="139.7" r="0.35"/><circle cx="161.2" cy="145.4" r="0.35"/></g>
<line x1="156.8" y1="152.8" x2="174.8" y2="152.8" stroke="#7884a8" stroke-width="0.6"/>
<line x1="174.8" y1="147.3" x2="174.8" y2="153.8" stroke="#8a98c8" stroke-width="0.5"/>
<path d="M138.3 119 H178.3 V157.3" fill="none" stroke="#d4d4d4" stroke-width="0.6"/>
<path d="M138.3 119 V157.3 H178.3" fill="none" stroke="#a6a6a6" stroke-width="0.7"/>
<text x="135.7" y="120.35" font-size="3.8" text-anchor="end" fill="#383838"  stroke="#383838" stroke-width="0.12">1.0K</text>
<text x="135.7" y="128.01" font-size="3.8" text-anchor="end" fill="#383838"  stroke="#383838" stroke-width="0.12">800</text>
<text x="135.7" y="135.67" font-size="3.8" text-anchor="end" fill="#383838"  stroke="#383838" stroke-width="0.12">600</text>
<text x="135.7" y="143.33" font-size="3.8" text-anchor="end" fill="#383838"  stroke="#383838" stroke-width="0.12">400</text>
<text x="135.7" y="150.99" font-size="3.8" text-anchor="end" fill="#383838"  stroke="#383838" stroke-width="0.12">200</text>
<text x="135.7" y="158.65" font-size="3.8" text-anchor="end" fill="#383838"  stroke="#383838" stroke-width="0.12">0</text>
<text x="138.7" y="163.1" font-size="3.9" fill="#383838" text-anchor="middle" stroke="#383838" stroke-width="0.12">10</text>
<text x="140.8" y="161.6" font-size="2.6" fill="#383838">0</text>
<text x="148.7" y="163.1" font-size="3.9" fill="#383838" text-anchor="middle" stroke="#383838" stroke-width="0.12">10</text>
<text x="150.8" y="161.6" font-size="2.6" fill="#383838">1</text>
<text x="158.7" y="163.1" font-size="3.9" fill="#383838" text-anchor="middle" stroke="#383838" stroke-width="0.12">10</text>
<text x="160.8" y="161.6" font-size="2.6" fill="#383838">2</text>
<text x="168.7" y="163.1" font-size="3.9" fill="#383838" text-anchor="middle" stroke="#383838" stroke-width="0.12">10</text>
<text x="170.8" y="161.6" font-size="2.6" fill="#383838">3</text>
<text x="178.7" y="163.1" font-size="3.9" fill="#383838" text-anchor="middle" stroke="#383838" stroke-width="0.12">10</text>
<text x="180.8" y="161.6" font-size="2.6" fill="#383838">4</text>
<line x1="156.8" y1="119" x2="156.8" y2="157.3" stroke="#a8a8a8" stroke-width="0.6"/>
<text x="167.6" y="135.9" font-size="3.0" text-anchor="middle" fill="#666"  stroke="#666" stroke-width="0.12">Pu</text>
<text x="167.6" y="139.8" font-size="3.0" text-anchor="middle" fill="#666"  stroke="#666" stroke-width="0.12">19.2</text>
<ellipse cx="32.5" cy="199.5" rx="8" ry="5" fill="#cfd0f2" opacity="0.6" transform="rotate(0 32.5 199.5)" filter="url(#b2)"/>
<ellipse cx="30.5" cy="200.3" rx="4.8" ry="3.4" fill="#6f9fcc" opacity="0.9" transform="rotate(0 30.5 200.3)" filter="url(#b1)"/>
<ellipse cx="30" cy="200.9" rx="3.8" ry="1.6" fill="#40a850" opacity="0.95" transform="rotate(0 30 200.9)" filter="url(#b1)"/>
<g fill="#8090c8" opacity="0.55"><circle cx="58.1" cy="203.2" r="0.35"/><circle cx="57.5" cy="203.5" r="0.35"/><circle cx="51.8" cy="202.7" r="0.35"/><circle cx="62.2" cy="202.4" r="0.35"/><circle cx="57.7" cy="203.2" r="0.35"/><circle cx="45.8" cy="203.5" r="0.35"/><circle cx="60.6" cy="203.1" r="0.35"/><circle cx="57.8" cy="203.4" r="0.35"/><circle cx="47.4" cy="203.0" r="0.35"/><circle cx="53.8" cy="203.5" r="0.35"/><circle cx="59.1" cy="203.4" r="0.35"/><circle cx="55.2" cy="203.5" r="0.35"/><circle cx="57.0" cy="203.2" r="0.35"/><circle cx="49.0" cy="202.2" r="0.35"/><circle cx="47.3" cy="202.7" r="0.35"/><circle cx="46.8" cy="203.5" r="0.35"/><circle cx="54.8" cy="203.1" r="0.35"/><circle cx="56.0" cy="203.2" r="0.35"/><circle cx="53.6" cy="202.2" r="0.35"/><circle cx="59.0" cy="203.3" r="0.35"/><circle cx="53.8" cy="203.0" r="0.35"/><circle cx="56.5" cy="202.3" r="0.35"/><circle cx="57.9" cy="202.6" r="0.35"/><circle cx="46.3" cy="202.6" r="0.35"/><circle cx="57.8" cy="202.5" r="0.35"/><circle cx="57.9" cy="203.7" r="0.35"/><circle cx="53.6" cy="202.8" r="0.35"/><circle cx="53.4" cy="203.2" r="0.35"/><circle cx="58.4" cy="203.1" r="0.35"/><circle cx="56.2" cy="202.3" r="0.35"/><circle cx="47.6" cy="202.6" r="0.35"/><circle cx="58.0" cy="202.7" r="0.35"/><circle cx="54.9" cy="202.2" r="0.35"/><circle cx="46.1" cy="202.6" r="0.35"/><circle cx="56.8" cy="203.2" r="0.35"/><circle cx="56.8" cy="202.6" r="0.35"/><circle cx="54.0" cy="202.9" r="0.35"/><circle cx="53.2" cy="202.4" r="0.35"/><circle cx="60.6" cy="202.5" r="0.35"/><circle cx="62.1" cy="203.6" r="0.35"/><circle cx="45.3" cy="202.9" r="0.35"/><circle cx="59.3" cy="203.7" r="0.35"/><circle cx="52.9" cy="202.6" r="0.35"/><circle cx="48.7" cy="203.6" r="0.35"/><circle cx="48.7" cy="203.1" r="0.35"/><circle cx="47.5" cy="203.0" r="0.35"/><circle cx="61.7" cy="202.4" r="0.35"/><circle cx="59.4" cy="203.0" r="0.35"/><circle cx="60.5" cy="203.3" r="0.35"/><circle cx="49.0" cy="203.5" r="0.35"/><circle cx="53.5" cy="202.2" r="0.35"/><circle cx="45.1" cy="202.9" r="0.35"/><circle cx="52.9" cy="202.7" r="0.35"/><circle cx="47.5" cy="202.7" r="0.35"/><circle cx="50.5" cy="203.5" r="0.35"/></g>
<g fill="#b0b8e8" opacity="0.35"><circle cx="29.1" cy="199.8" r="0.35"/><circle cx="57.5" cy="187.8" r="0.35"/><circle cx="60.5" cy="199.0" r="0.35"/><circle cx="59.7" cy="191.0" r="0.35"/><circle cx="41.7" cy="193.0" r="0.35"/><circle cx="63.0" cy="196.7" r="0.35"/><circle cx="41.3" cy="193.6" r="0.35"/><circle cx="38.4" cy="186.4" r="0.35"/><circle cx="32.5" cy="201.4" r="0.35"/><circle cx="38.7" cy="203.3" r="0.35"/><circle cx="37.5" cy="190.5" r="0.35"/><circle cx="46.4" cy="189.1" r="0.35"/><circle cx="41.7" cy="203.7" r="0.35"/><circle cx="59.1" cy="200.9" r="0.35"/><circle cx="50.5" cy="202.9" r="0.35"/><circle cx="61.0" cy="195.9" r="0.35"/><circle cx="53.5" cy="186.4" r="0.35"/><circle cx="53.9" cy="194.1" r="0.35"/></g>
<line x1="44.5" y1="203" x2="62.5" y2="203" stroke="#7884a8" stroke-width="0.6"/>
<line x1="62.5" y1="197.5" x2="62.5" y2="204" stroke="#8a98c8" stroke-width="0.5"/>
<path d="M26 169.4 H66 V207.5" fill="none" stroke="#d4d4d4" stroke-width="0.6"/>
<path d="M26 169.4 V207.5 H66" fill="none" stroke="#a6a6a6" stroke-width="0.7"/>
<text x="23.4" y="170.75" font-size="3.8" text-anchor="end" fill="#383838"  stroke="#383838" stroke-width="0.12">1.0K</text>
<text x="23.4" y="178.37" font-size="3.8" text-anchor="end" fill="#383838"  stroke="#383838" stroke-width="0.12">800</text>
<text x="23.4" y="185.99" font-size="3.8" text-anchor="end" fill="#383838"  stroke="#383838" stroke-width="0.12">600</text>
<text x="23.4" y="193.61" font-size="3.8" text-anchor="end" fill="#383838"  stroke="#383838" stroke-width="0.12">400</text>
<text x="23.4" y="201.23" font-size="3.8" text-anchor="end" fill="#383838"  stroke="#383838" stroke-width="0.12">200</text>
<text x="23.4" y="208.85" font-size="3.8" text-anchor="end" fill="#383838"  stroke="#383838" stroke-width="0.12">0</text>
<text x="26.4" y="213.3" font-size="3.9" fill="#383838" text-anchor="middle" stroke="#383838" stroke-width="0.12">10</text>
<text x="28.5" y="211.8" font-size="2.6" fill="#383838">0</text>
<text x="36.4" y="213.3" font-size="3.9" fill="#383838" text-anchor="middle" stroke="#383838" stroke-width="0.12">10</text>
<text x="38.5" y="211.8" font-size="2.6" fill="#383838">1</text>
<text x="46.4" y="213.3" font-size="3.9" fill="#383838" text-anchor="middle" stroke="#383838" stroke-width="0.12">10</text>
<text x="48.5" y="211.8" font-size="2.6" fill="#383838">2</text>
<text x="56.4" y="213.3" font-size="3.9" fill="#383838" text-anchor="middle" stroke="#383838" stroke-width="0.12">10</text>
<text x="58.5" y="211.8" font-size="2.6" fill="#383838">3</text>
<text x="66.4" y="213.3" font-size="3.9" fill="#383838" text-anchor="middle" stroke="#383838" stroke-width="0.12">10</text>
<text x="68.5" y="211.8" font-size="2.6" fill="#383838">4</text>
<line x1="44.5" y1="169.4" x2="44.5" y2="207.5" stroke="#a8a8a8" stroke-width="0.6"/>
<text x="55.3" y="186.3" font-size="3.0" text-anchor="middle" fill="#666"  stroke="#666" stroke-width="0.12">Pu</text>
<text x="55.3" y="190.2" font-size="3.0" text-anchor="middle" fill="#666"  stroke="#666" stroke-width="0.12">13.0</text>
<ellipse cx="88.8" cy="199.5" rx="8" ry="5" fill="#cfd0f2" opacity="0.6" transform="rotate(0 88.8 199.5)" filter="url(#b2)"/>
<ellipse cx="86.8" cy="200.3" rx="4.8" ry="3.4" fill="#6f9fcc" opacity="0.9" transform="rotate(0 86.8 200.3)" filter="url(#b1)"/>
<ellipse cx="86.3" cy="200.9" rx="3.8" ry="1.6" fill="#40a850" opacity="0.95" transform="rotate(0 86.3 200.9)" filter="url(#b1)"/>
<g fill="#8090c8" opacity="0.55"><circle cx="114.5" cy="203.2" r="0.35"/><circle cx="106.3" cy="202.3" r="0.35"/><circle cx="117.5" cy="202.4" r="0.35"/><circle cx="109.6" cy="202.7" r="0.35"/><circle cx="106.5" cy="203.3" r="0.35"/><circle cx="118.4" cy="202.6" r="0.35"/><circle cx="112.8" cy="202.7" r="0.35"/><circle cx="111.1" cy="202.8" r="0.35"/><circle cx="104.2" cy="202.4" r="0.35"/><circle cx="104.9" cy="203.6" r="0.35"/><circle cx="110.0" cy="202.5" r="0.35"/><circle cx="117.2" cy="203.7" r="0.35"/><circle cx="109.2" cy="202.4" r="0.35"/><circle cx="104.7" cy="202.3" r="0.35"/><circle cx="107.3" cy="202.3" r="0.35"/><circle cx="105.5" cy="202.6" r="0.35"/><circle cx="111.3" cy="203.5" r="0.35"/><circle cx="114.4" cy="202.8" r="0.35"/><circle cx="108.5" cy="203.0" r="0.35"/><circle cx="107.9" cy="202.7" r="0.35"/><circle cx="102.4" cy="202.6" r="0.35"/><circle cx="118.2" cy="202.4" r="0.35"/><circle cx="110.1" cy="203.1" r="0.35"/><circle cx="116.4" cy="202.5" r="0.35"/><circle cx="106.0" cy="202.6" r="0.35"/><circle cx="108.3" cy="202.9" r="0.35"/><circle cx="118.0" cy="203.5" r="0.35"/><circle cx="116.6" cy="202.2" r="0.35"/><circle cx="101.9" cy="203.3" r="0.35"/><circle cx="117.0" cy="202.9" r="0.35"/><circle cx="111.6" cy="202.2" r="0.35"/><circle cx="108.2" cy="203.6" r="0.35"/><circle cx="115.7" cy="203.5" r="0.35"/><circle cx="118.3" cy="202.6" r="0.35"/><circle cx="103.2" cy="202.4" r="0.35"/><circle cx="110.4" cy="203.2" r="0.35"/><circle cx="117.8" cy="203.3" r="0.35"/><circle cx="112.6" cy="203.3" r="0.35"/><circle cx="109.3" cy="203.0" r="0.35"/><circle cx="102.0" cy="203.4" r="0.35"/><circle cx="105.4" cy="203.6" r="0.35"/><circle cx="112.6" cy="202.7" r="0.35"/><circle cx="103.5" cy="202.6" r="0.35"/><circle cx="112.4" cy="203.2" r="0.35"/><circle cx="103.3" cy="202.3" r="0.35"/><circle cx="110.5" cy="203.1" r="0.35"/><circle cx="108.1" cy="202.5" r="0.35"/><circle cx="111.8" cy="202.2" r="0.35"/><circle cx="106.6" cy="202.9" r="0.35"/><circle cx="118.1" cy="203.2" r="0.35"/><circle cx="116.8" cy="202.9" r="0.35"/><circle cx="105.4" cy="202.6" r="0.35"/><circle cx="118.1" cy="203.3" r="0.35"/><circle cx="106.7" cy="202.2" r="0.35"/><circle cx="110.0" cy="203.2" r="0.35"/></g>
<g fill="#b0b8e8" opacity="0.35"><circle cx="99.6" cy="190.4" r="0.35"/><circle cx="108.0" cy="203.1" r="0.35"/><circle cx="93.0" cy="186.1" r="0.35"/><circle cx="96.8" cy="193.5" r="0.35"/><circle cx="108.5" cy="189.3" r="0.35"/><circle cx="112.4" cy="199.5" r="0.35"/><circle cx="102.5" cy="189.4" r="0.35"/><circle cx="118.3" cy="191.4" r="0.35"/><circle cx="113.2" cy="189.9" r="0.35"/><circle cx="92.8" cy="199.9" r="0.35"/><circle cx="95.3" cy="203.6" r="0.35"/><circle cx="102.2" cy="189.1" r="0.35"/><circle cx="92.9" cy="193.4" r="0.35"/><circle cx="107.9" cy="203.5" r="0.35"/><circle cx="90.3" cy="193.0" r="0.35"/><circle cx="92.5" cy="204.0" r="0.35"/><circle cx="90.1" cy="186.5" r="0.35"/><circle cx="87.3" cy="193.0" r="0.35"/></g>
<line x1="100.8" y1="203" x2="118.8" y2="203" stroke="#7884a8" stroke-width="0.6"/>
<line x1="118.8" y1="197.5" x2="118.8" y2="204" stroke="#8a98c8" stroke-width="0.5"/>
<path d="M82.3 169.4 H122.3 V207.5" fill="none" stroke="#d4d4d4" stroke-width="0.6"/>
<path d="M82.3 169.4 V207.5 H122.3" fill="none" stroke="#a6a6a6" stroke-width="0.7"/>
<text x="79.7" y="170.75" font-size="3.8" text-anchor="end" fill="#383838"  stroke="#383838" stroke-width="0.12">1.0K</text>
<text x="79.7" y="178.37" font-size="3.8" text-anchor="end" fill="#383838"  stroke="#383838" stroke-width="0.12">800</text>
<text x="79.7" y="185.99" font-size="3.8" text-anchor="end" fill="#383838"  stroke="#383838" stroke-width="0.12">600</text>
<text x="79.7" y="193.61" font-size="3.8" text-anchor="end" fill="#383838"  stroke="#383838" stroke-width="0.12">400</text>
<text x="79.7" y="201.23" font-size="3.8" text-anchor="end" fill="#383838"  stroke="#383838" stroke-width="0.12">200</text>
<text x="79.7" y="208.85" font-size="3.8" text-anchor="end" fill="#383838"  stroke="#383838" stroke-width="0.12">0</text>
<text x="82.7" y="213.3" font-size="3.9" fill="#383838" text-anchor="middle" stroke="#383838" stroke-width="0.12">10</text>
<text x="84.8" y="211.8" font-size="2.6" fill="#383838">0</text>
<text x="92.7" y="213.3" font-size="3.9" fill="#383838" text-anchor="middle" stroke="#383838" stroke-width="0.12">10</text>
<text x="94.8" y="211.8" font-size="2.6" fill="#383838">1</text>
<text x="102.7" y="213.3" font-size="3.9" fill="#383838" text-anchor="middle" stroke="#383838" stroke-width="0.12">10</text>
<text x="104.8" y="211.8" font-size="2.6" fill="#383838">2</text>
<text x="112.7" y="213.3" font-size="3.9" fill="#383838" text-anchor="middle" stroke="#383838" stroke-width="0.12">10</text>
<text x="114.8" y="211.8" font-size="2.6" fill="#383838">3</text>
<text x="122.7" y="213.3" font-size="3.9" fill="#383838" text-anchor="middle" stroke="#383838" stroke-width="0.12">10</text>
<text x="124.8" y="211.8" font-size="2.6" fill="#383838">4</text>
<line x1="100.8" y1="169.4" x2="100.8" y2="207.5" stroke="#a8a8a8" stroke-width="0.6"/>
<text x="111.6" y="186.3" font-size="3.0" text-anchor="middle" fill="#666"  stroke="#666" stroke-width="0.12">Pu</text>
<text x="111.6" y="190.2" font-size="3.0" text-anchor="middle" fill="#666"  stroke="#666" stroke-width="0.12">12.7</text>
<ellipse cx="144.8" cy="199.5" rx="8" ry="5" fill="#cfd0f2" opacity="0.6" transform="rotate(0 144.8 199.5)" filter="url(#b2)"/>
<ellipse cx="142.8" cy="200.3" rx="4.8" ry="3.4" fill="#6f9fcc" opacity="0.9" transform="rotate(0 142.8 200.3)" filter="url(#b1)"/>
<ellipse cx="142.3" cy="200.9" rx="3.8" ry="1.6" fill="#40a850" opacity="0.95" transform="rotate(0 142.3 200.9)" filter="url(#b1)"/>
<g fill="#8090c8" opacity="0.55"><circle cx="173.0" cy="203.5" r="0.35"/><circle cx="170.1" cy="203.7" r="0.35"/><circle cx="173.6" cy="202.7" r="0.35"/><circle cx="160.5" cy="203.6" r="0.35"/><circle cx="170.4" cy="202.2" r="0.35"/><circle cx="168.9" cy="202.8" r="0.35"/><circle cx="163.8" cy="202.7" r="0.35"/><circle cx="160.3" cy="202.2" r="0.35"/><circle cx="162.2" cy="202.7" r="0.35"/><circle cx="174.0" cy="202.4" r="0.35"/><circle cx="174.2" cy="202.5" r="0.35"/><circle cx="163.5" cy="203.4" r="0.35"/><circle cx="171.7" cy="202.8" r="0.35"/><circle cx="158.2" cy="202.9" r="0.35"/><circle cx="163.8" cy="203.6" r="0.35"/><circle cx="160.7" cy="202.7" r="0.35"/><circle cx="173.0" cy="202.2" r="0.35"/><circle cx="164.5" cy="203.4" r="0.35"/><circle cx="170.7" cy="202.3" r="0.35"/><circle cx="157.9" cy="202.3" r="0.35"/><circle cx="173.4" cy="202.6" r="0.35"/><circle cx="170.4" cy="203.5" r="0.35"/><circle cx="163.2" cy="202.6" r="0.35"/><circle cx="174.1" cy="203.1" r="0.35"/><circle cx="161.9" cy="203.3" r="0.35"/><circle cx="162.8" cy="202.6" r="0.35"/><circle cx="157.4" cy="203.3" r="0.35"/><circle cx="173.3" cy="203.2" r="0.35"/><circle cx="173.8" cy="202.2" r="0.35"/><circle cx="161.4" cy="202.9" r="0.35"/><circle cx="174.0" cy="203.6" r="0.35"/><circle cx="164.1" cy="202.6" r="0.35"/><circle cx="164.8" cy="202.9" r="0.35"/><circle cx="173.5" cy="202.5" r="0.35"/><circle cx="171.3" cy="203.3" r="0.35"/><circle cx="171.7" cy="203.4" r="0.35"/><circle cx="167.9" cy="202.7" r="0.35"/><circle cx="162.9" cy="202.7" r="0.35"/><circle cx="171.0" cy="202.3" r="0.35"/><circle cx="160.8" cy="203.3" r="0.35"/><circle cx="161.6" cy="202.3" r="0.35"/><circle cx="157.9" cy="203.0" r="0.35"/><circle cx="163.0" cy="203.7" r="0.35"/><circle cx="172.8" cy="203.7" r="0.35"/><circle cx="161.9" cy="202.3" r="0.35"/><circle cx="159.0" cy="202.9" r="0.35"/><circle cx="169.7" cy="202.9" r="0.35"/><circle cx="161.4" cy="202.8" r="0.35"/><circle cx="168.2" cy="203.2" r="0.35"/><circle cx="170.4" cy="203.5" r="0.35"/><circle cx="168.9" cy="202.4" r="0.35"/><circle cx="172.0" cy="202.6" r="0.35"/><circle cx="167.2" cy="202.8" r="0.35"/><circle cx="170.2" cy="202.5" r="0.35"/><circle cx="161.6" cy="202.6" r="0.35"/></g>
<g fill="#b0b8e8" opacity="0.35"><circle cx="146.5" cy="202.3" r="0.35"/><circle cx="161.0" cy="191.7" r="0.35"/><circle cx="154.8" cy="204.4" r="0.35"/><circle cx="158.5" cy="189.9" r="0.35"/><circle cx="168.8" cy="197.9" r="0.35"/><circle cx="175.0" cy="187.4" r="0.35"/><circle cx="157.4" cy="201.1" r="0.35"/><circle cx="169.9" cy="202.9" r="0.35"/><circle cx="142.7" cy="191.1" r="0.35"/><circle cx="145.4" cy="189.1" r="0.35"/><circle cx="174.4" cy="196.6" r="0.35"/><circle cx="172.9" cy="192.6" r="0.35"/><circle cx="170.7" cy="194.0" r="0.35"/><circle cx="150.1" cy="200.3" r="0.35"/><circle cx="173.5" cy="187.5" r="0.35"/><circle cx="161.6" cy="197.3" r="0.35"/><circle cx="148.7" cy="192.5" r="0.35"/><circle cx="146.1" cy="189.4" r="0.35"/></g>
<line x1="156.8" y1="203" x2="174.8" y2="203" stroke="#7884a8" stroke-width="0.6"/>
<line x1="174.8" y1="197.5" x2="174.8" y2="204" stroke="#8a98c8" stroke-width="0.5"/>
<path d="M138.3 169.4 H178.3 V207.5" fill="none" stroke="#d4d4d4" stroke-width="0.6"/>
<path d="M138.3 169.4 V207.5 H178.3" fill="none" stroke="#a6a6a6" stroke-width="0.7"/>
<text x="135.7" y="170.75" font-size="3.8" text-anchor="end" fill="#383838"  stroke="#383838" stroke-width="0.12">1.0K</text>
<text x="135.7" y="178.37" font-size="3.8" text-anchor="end" fill="#383838"  stroke="#383838" stroke-width="0.12">800</text>
<text x="135.7" y="185.99" font-size="3.8" text-anchor="end" fill="#383838"  stroke="#383838" stroke-width="0.12">600</text>
<text x="135.7" y="193.61" font-size="3.8" text-anchor="end" fill="#383838"  stroke="#383838" stroke-width="0.12">400</text>
<text x="135.7" y="201.23" font-size="3.8" text-anchor="end" fill="#383838"  stroke="#383838" stroke-width="0.12">200</text>
<text x="135.7" y="208.85" font-size="3.8" text-anchor="end" fill="#383838"  stroke="#383838" stroke-width="0.12">0</text>
<text x="138.7" y="213.3" font-size="3.9" fill="#383838" text-anchor="middle" stroke="#383838" stroke-width="0.12">10</text>
<text x="140.8" y="211.8" font-size="2.6" fill="#383838">0</text>
<text x="148.7" y="213.3" font-size="3.9" fill="#383838" text-anchor="middle" stroke="#383838" stroke-width="0.12">10</text>
<text x="150.8" y="211.8" font-size="2.6" fill="#383838">1</text>
<text x="158.7" y="213.3" font-size="3.9" fill="#383838" text-anchor="middle" stroke="#383838" stroke-width="0.12">10</text>
<text x="160.8" y="211.8" font-size="2.6" fill="#383838">2</text>
<text x="168.7" y="213.3" font-size="3.9" fill="#383838" text-anchor="middle" stroke="#383838" stroke-width="0.12">10</text>
<text x="170.8" y="211.8" font-size="2.6" fill="#383838">3</text>
<text x="178.7" y="213.3" font-size="3.9" fill="#383838" text-anchor="middle" stroke="#383838" stroke-width="0.12">10</text>
<text x="180.8" y="211.8" font-size="2.6" fill="#383838">4</text>
<line x1="156.8" y1="169.4" x2="156.8" y2="207.5" stroke="#a8a8a8" stroke-width="0.6"/>
<text x="167.6" y="186.3" font-size="3.0" text-anchor="middle" fill="#666"  stroke="#666" stroke-width="0.12">Pu</text>
<text x="167.6" y="190.2" font-size="3.0" text-anchor="middle" fill="#666"  stroke="#666" stroke-width="0.12">15.2</text>
<path d="M9.5 195.5 V149" stroke="#111" stroke-width="0.95"/>
<path d="M7.6 150.2 L9.5 145.6 L11.4 150.2 Z" fill="#111"/>
<text transform="translate(11.6,204) rotate(-90)" font-size="5" text-anchor="middle" fill="#222" textLength="11.3" lengthAdjust="spacingAndGlyphs" stroke="#222" stroke-width="0.32">FSC-H</text>
<text x="29.2" y="223.4" font-size="5" text-anchor="start" fill="#222"  stroke="#222" stroke-width="0.20">PI</text>
<path d="M35.6 222.1 H148" stroke="#111" stroke-width="0.95"/>
<path d="M146.5 220.2 L151.3 222.1 L146.5 224 Z" fill="#111"/>
<text transform="translate(182.5,137.9) rotate(90)" font-size="6" text-anchor="middle" fill="#222" stroke="#222" stroke-width="0.32">WT</text>
<text transform="translate(182.5,182.4) rotate(90)" font-size="6" fill="#222" stroke="#222" stroke-width="0.32">Fas<tspan font-size="4" dy="-2.2">lpr</tspan></text>
<ellipse cx="42.3" cy="273.7" rx="11" ry="4" fill="#dcdcf4" opacity="0.6" transform="rotate(-25 42.3 273.7)" filter="url(#b2)"/>
<ellipse cx="34.8" cy="282.5" rx="5" ry="11" fill="#c4cbee" opacity="0.6" transform="rotate(10 34.8 282.5)" filter="url(#b2)"/>
<ellipse cx="34.6" cy="283.5" rx="3.2" ry="9" fill="#5f8fbf" opacity="0.85" transform="rotate(6 34.6 283.5)" filter="url(#b1)"/>
<ellipse cx="34.8" cy="282.5" rx="1.6" ry="5" fill="#a8d838" opacity="0.95" transform="rotate(6 34.8 282.5)" filter="url(#b1)"/>
<g fill="#6f86b8" opacity="0.5"><circle cx="30.1" cy="283.2" r="0.35"/><circle cx="34.5" cy="272.9" r="0.35"/><circle cx="27.4" cy="276.1" r="0.35"/><circle cx="34.8" cy="272.5" r="0.35"/><circle cx="30.7" cy="272.9" r="0.35"/><circle cx="36.0" cy="281.8" r="0.35"/><circle cx="28.0" cy="270.3" r="0.35"/><circle cx="31.6" cy="281.9" r="0.35"/><circle cx="34.3" cy="270.1" r="0.35"/><circle cx="29.1" cy="285.6" r="0.35"/><circle cx="31.8" cy="275.0" r="0.35"/><circle cx="30.7" cy="292.3" r="0.35"/><circle cx="30.7" cy="282.3" r="0.35"/><circle cx="31.2" cy="278.4" r="0.35"/><circle cx="36.8" cy="293.4" r="0.35"/><circle cx="31.3" cy="272.8" r="0.35"/><circle cx="35.3" cy="273.0" r="0.35"/><circle cx="27.4" cy="291.0" r="0.35"/><circle cx="32.0" cy="288.9" r="0.35"/><circle cx="31.8" cy="290.5" r="0.35"/><circle cx="32.4" cy="271.9" r="0.35"/><circle cx="27.5" cy="281.9" r="0.35"/><circle cx="34.3" cy="291.2" r="0.35"/><circle cx="28.3" cy="283.8" r="0.35"/><circle cx="31.4" cy="280.7" r="0.35"/><circle cx="28.9" cy="275.0" r="0.35"/><circle cx="33.0" cy="291.6" r="0.35"/><circle cx="28.5" cy="280.4" r="0.35"/><circle cx="36.2" cy="292.6" r="0.35"/><circle cx="29.5" cy="271.0" r="0.35"/><circle cx="37.7" cy="292.9" r="0.35"/><circle cx="32.6" cy="269.1" r="0.35"/><circle cx="37.5" cy="277.7" r="0.35"/><circle cx="37.2" cy="283.7" r="0.35"/><circle cx="36.4" cy="271.8" r="0.35"/><circle cx="35.9" cy="273.4" r="0.35"/><circle cx="31.7" cy="289.5" r="0.35"/><circle cx="36.4" cy="272.4" r="0.35"/><circle cx="29.7" cy="278.0" r="0.35"/><circle cx="33.0" cy="277.6" r="0.35"/></g>
<g fill="#2f4f6f" opacity="0.45"><circle cx="32.2" cy="277.7" r="0.4"/><circle cx="36.4" cy="291.3" r="0.4"/><circle cx="31.6" cy="284.3" r="0.4"/><circle cx="36.6" cy="273.3" r="0.4"/><circle cx="37.2" cy="275.0" r="0.4"/><circle cx="35.5" cy="284.1" r="0.4"/><circle cx="35.7" cy="278.9" r="0.4"/><circle cx="34.2" cy="284.7" r="0.4"/><circle cx="34.3" cy="286.3" r="0.4"/><circle cx="34.4" cy="281.7" r="0.4"/><circle cx="31.5" cy="285.5" r="0.4"/><circle cx="34.7" cy="277.4" r="0.4"/><circle cx="36.6" cy="288.9" r="0.4"/><circle cx="34.5" cy="276.3" r="0.4"/><circle cx="34.6" cy="274.7" r="0.4"/><circle cx="32.2" cy="281.5" r="0.4"/><circle cx="31.9" cy="281.8" r="0.4"/><circle cx="34.9" cy="273.4" r="0.4"/><circle cx="35.8" cy="274.2" r="0.4"/><circle cx="36.4" cy="288.8" r="0.4"/><circle cx="34.9" cy="273.6" r="0.4"/><circle cx="34.8" cy="280.4" r="0.4"/><circle cx="38.0" cy="275.4" r="0.4"/><circle cx="37.3" cy="293.4" r="0.4"/><circle cx="36.4" cy="289.6" r="0.4"/><circle cx="32.7" cy="293.1" r="0.4"/><circle cx="34.7" cy="292.6" r="0.4"/><circle cx="37.7" cy="276.0" r="0.4"/><circle cx="36.8" cy="292.0" r="0.4"/><circle cx="31.8" cy="279.9" r="0.4"/><circle cx="36.6" cy="275.8" r="0.4"/><circle cx="37.6" cy="278.3" r="0.4"/><circle cx="37.0" cy="275.5" r="0.4"/><circle cx="34.8" cy="291.8" r="0.4"/><circle cx="32.8" cy="278.0" r="0.4"/><circle cx="34.8" cy="279.2" r="0.4"/><circle cx="31.6" cy="276.3" r="0.4"/><circle cx="32.4" cy="292.2" r="0.4"/><circle cx="36.1" cy="291.3" r="0.4"/><circle cx="32.5" cy="289.0" r="0.4"/></g>
<g fill="#a8b0e0" opacity="0.45"><circle cx="39.4" cy="271.1" r="0.35"/><circle cx="53.7" cy="268.7" r="0.35"/><circle cx="60.1" cy="271.5" r="0.35"/><circle cx="52.1" cy="276.1" r="0.35"/><circle cx="39.2" cy="277.6" r="0.35"/><circle cx="53.5" cy="269.2" r="0.35"/><circle cx="58.1" cy="267.4" r="0.35"/><circle cx="63.3" cy="271.8" r="0.35"/><circle cx="46.1" cy="274.4" r="0.35"/><circle cx="48.4" cy="266.2" r="0.35"/><circle cx="56.6" cy="264.4" r="0.35"/><circle cx="58.7" cy="267.3" r="0.35"/><circle cx="53.8" cy="277.5" r="0.35"/><circle cx="52.3" cy="273.0" r="0.35"/><circle cx="44.8" cy="263.7" r="0.35"/><circle cx="37.2" cy="265.8" r="0.35"/><circle cx="53.1" cy="269.8" r="0.35"/><circle cx="50.3" cy="276.2" r="0.35"/><circle cx="39.9" cy="266.9" r="0.35"/><circle cx="54.1" cy="264.0" r="0.35"/><circle cx="36.4" cy="268.7" r="0.35"/><circle cx="39.2" cy="268.7" r="0.35"/><circle cx="42.4" cy="271.9" r="0.35"/><circle cx="52.4" cy="266.6" r="0.35"/><circle cx="53.3" cy="270.3" r="0.35"/><circle cx="40.0" cy="276.8" r="0.35"/><circle cx="42.9" cy="265.8" r="0.35"/><circle cx="38.9" cy="272.6" r="0.35"/><circle cx="60.1" cy="274.7" r="0.35"/><circle cx="47.3" cy="267.4" r="0.35"/></g>
<g fill="#8890b0" opacity="0.5"><circle cx="34.5" cy="276.0" r="0.35"/><circle cx="43.3" cy="271.3" r="0.35"/><circle cx="44.6" cy="272.8" r="0.35"/><circle cx="49.3" cy="277.4" r="0.35"/><circle cx="38.3" cy="280.2" r="0.35"/><circle cx="35.0" cy="274.2" r="0.35"/><circle cx="40.8" cy="269.5" r="0.35"/><circle cx="35.2" cy="278.2" r="0.35"/><circle cx="34.5" cy="274.5" r="0.35"/><circle cx="49.4" cy="268.0" r="0.35"/><circle cx="37.5" cy="275.4" r="0.35"/><circle cx="42.4" cy="276.0" r="0.35"/><circle cx="47.3" cy="268.5" r="0.35"/><circle cx="39.3" cy="270.5" r="0.35"/><circle cx="35.1" cy="279.9" r="0.35"/><circle cx="46.8" cy="277.1" r="0.35"/><circle cx="34.4" cy="279.2" r="0.35"/><circle cx="46.2" cy="273.1" r="0.35"/><circle cx="46.2" cy="272.9" r="0.35"/><circle cx="37.9" cy="267.4" r="0.35"/><circle cx="38.0" cy="266.3" r="0.35"/><circle cx="39.7" cy="277.7" r="0.35"/><circle cx="45.4" cy="279.2" r="0.35"/><circle cx="45.7" cy="270.0" r="0.35"/><circle cx="43.2" cy="272.7" r="0.35"/><circle cx="46.9" cy="274.1" r="0.35"/><circle cx="38.5" cy="276.0" r="0.35"/><circle cx="49.7" cy="269.2" r="0.35"/><circle cx="48.4" cy="265.9" r="0.35"/><circle cx="38.5" cy="269.5" r="0.35"/><circle cx="46.2" cy="280.8" r="0.35"/><circle cx="46.2" cy="270.9" r="0.35"/><circle cx="48.4" cy="271.0" r="0.35"/><circle cx="38.1" cy="280.2" r="0.35"/><circle cx="44.4" cy="276.8" r="0.35"/><circle cx="44.9" cy="281.4" r="0.35"/><circle cx="41.8" cy="279.1" r="0.35"/><circle cx="45.5" cy="279.4" r="0.35"/><circle cx="41.3" cy="277.3" r="0.35"/><circle cx="43.4" cy="270.6" r="0.35"/><circle cx="37.7" cy="275.7" r="0.35"/><circle cx="35.5" cy="280.3" r="0.35"/><circle cx="36.6" cy="266.1" r="0.35"/><circle cx="36.0" cy="280.6" r="0.35"/><circle cx="39.8" cy="268.0" r="0.35"/></g>
<path d="M26.3 255.7 H66.6 V294.5" fill="none" stroke="#d4d4d4" stroke-width="0.6"/>
<path d="M26.3 255.7 V294.5 H66.6" fill="none" stroke="#a6a6a6" stroke-width="0.7"/>
<text x="19.7" y="257" font-size="3.9" fill="#383838" text-anchor="middle" stroke="#383838" stroke-width="0.12">10</text>
<text x="21.8" y="255.5" font-size="2.6" fill="#383838">4</text>
<text x="19.7" y="266.7" font-size="3.9" fill="#383838" text-anchor="middle" stroke="#383838" stroke-width="0.12">10</text>
<text x="21.8" y="265.2" font-size="2.6" fill="#383838">3</text>
<text x="19.7" y="276.4" font-size="3.9" fill="#383838" text-anchor="middle" stroke="#383838" stroke-width="0.12">10</text>
<text x="21.8" y="274.9" font-size="2.6" fill="#383838">2</text>
<text x="19.7" y="286.1" font-size="3.9" fill="#383838" text-anchor="middle" stroke="#383838" stroke-width="0.12">10</text>
<text x="21.8" y="284.6" font-size="2.6" fill="#383838">1</text>
<text x="19.7" y="295.8" font-size="3.9" fill="#383838" text-anchor="middle" stroke="#383838" stroke-width="0.12">10</text>
<text x="21.8" y="294.3" font-size="2.6" fill="#383838">0</text>
<text x="26.7" y="300.3" font-size="3.9" fill="#383838" text-anchor="middle" stroke="#383838" stroke-width="0.12">10</text>
<text x="28.8" y="298.8" font-size="2.6" fill="#383838">0</text>
<text x="36.7" y="300.3" font-size="3.9" fill="#383838" text-anchor="middle" stroke="#383838" stroke-width="0.12">10</text>
<text x="38.8" y="298.8" font-size="2.6" fill="#383838">1</text>
<text x="46.7" y="300.3" font-size="3.9" fill="#383838" text-anchor="middle" stroke="#383838" stroke-width="0.12">10</text>
<text x="48.8" y="298.8" font-size="2.6" fill="#383838">2</text>
<text x="56.7" y="300.3" font-size="3.9" fill="#383838" text-anchor="middle" stroke="#383838" stroke-width="0.12">10</text>
<text x="58.8" y="298.8" font-size="2.6" fill="#383838">3</text>
<text x="66.7" y="300.3" font-size="3.9" fill="#383838" text-anchor="middle" stroke="#383838" stroke-width="0.12">10</text>
<text x="68.8" y="298.8" font-size="2.6" fill="#383838">4</text>
<rect x="49.5" y="257.7" width="17.1" height="21" fill="none" stroke="#858585" stroke-width="0.45"/>
<text x="55.1" y="261.3" font-size="2.9" text-anchor="middle" fill="#555"  stroke="#555" stroke-width="0.12">Ann Pos</text>
<text x="55.1" y="264.5" font-size="2.9" text-anchor="middle" fill="#555"  stroke="#555" stroke-width="0.12">10.6</text>
<ellipse cx="60.1" cy="270.2" rx="0.8" ry="6.5" fill="#4f6f98" opacity="0.85" transform="rotate(0 60.1 270.2)" filter="url(#b05)"/>
<g fill="#8090c8" opacity="0.5"><circle cx="51.9" cy="266.2" r="0.35"/><circle cx="60.6" cy="273.0" r="0.35"/><circle cx="60.6" cy="274.2" r="0.35"/><circle cx="52.4" cy="272.5" r="0.35"/><circle cx="56.3" cy="275.1" r="0.35"/><circle cx="62.2" cy="275.9" r="0.35"/><circle cx="52.4" cy="275.7" r="0.35"/><circle cx="63.5" cy="276.6" r="0.35"/><circle cx="52.9" cy="268.1" r="0.35"/><circle cx="53.0" cy="266.1" r="0.35"/><circle cx="62.6" cy="275.0" r="0.35"/><circle cx="59.8" cy="275.2" r="0.35"/><circle cx="59.8" cy="269.0" r="0.35"/><circle cx="52.8" cy="266.8" r="0.35"/><circle cx="61.4" cy="268.1" r="0.35"/><circle cx="55.7" cy="270.6" r="0.35"/><circle cx="51.8" cy="268.7" r="0.35"/><circle cx="55.2" cy="273.9" r="0.35"/></g>
<ellipse cx="96.1" cy="272.7" rx="12" ry="4" fill="#dcdcf4" opacity="0.6" transform="rotate(-30 96.1 272.7)" filter="url(#b2)"/>
<ellipse cx="87.1" cy="281.5" rx="6" ry="13" fill="#c4cbee" opacity="0.6" transform="rotate(12 87.1 281.5)" filter="url(#b2)"/>
<ellipse cx="85.6" cy="283.5" rx="3.5" ry="11" fill="#5f86a8" opacity="0.85" transform="rotate(8 85.6 283.5)" filter="url(#b1)"/>
<ellipse cx="84.3" cy="286.5" rx="1.8" ry="5" fill="#48a878" opacity="0.9" transform="rotate(0 84.3 286.5)" filter="url(#b1)"/>
<g fill="#6f86b8" opacity="0.5"><circle cx="87.1" cy="276.0" r="0.35"/><circle cx="93.7" cy="280.7" r="0.35"/><circle cx="92.5" cy="283.7" r="0.35"/><circle cx="83.4" cy="278.4" r="0.35"/><circle cx="87.9" cy="287.6" r="0.35"/><circle cx="86.9" cy="285.9" r="0.35"/><circle cx="89.0" cy="273.3" r="0.35"/><circle cx="92.6" cy="270.0" r="0.35"/><circle cx="92.1" cy="272.1" r="0.35"/><circle cx="83.1" cy="272.9" r="0.35"/><circle cx="91.5" cy="292.9" r="0.35"/><circle cx="83.1" cy="280.4" r="0.35"/><circle cx="88.5" cy="288.3" r="0.35"/><circle cx="85.1" cy="280.5" r="0.35"/><circle cx="86.9" cy="289.2" r="0.35"/><circle cx="86.0" cy="292.1" r="0.35"/><circle cx="86.2" cy="273.2" r="0.35"/><circle cx="90.8" cy="280.6" r="0.35"/><circle cx="84.3" cy="284.1" r="0.35"/><circle cx="84.0" cy="288.0" r="0.35"/><circle cx="90.8" cy="288.0" r="0.35"/><circle cx="90.0" cy="276.9" r="0.35"/><circle cx="87.5" cy="277.9" r="0.35"/><circle cx="92.9" cy="269.9" r="0.35"/><circle cx="92.9" cy="268.3" r="0.35"/><circle cx="85.4" cy="274.5" r="0.35"/><circle cx="93.0" cy="280.6" r="0.35"/><circle cx="87.3" cy="290.5" r="0.35"/><circle cx="85.7" cy="279.6" r="0.35"/><circle cx="88.9" cy="287.2" r="0.35"/><circle cx="91.4" cy="284.4" r="0.35"/><circle cx="86.9" cy="276.1" r="0.35"/><circle cx="84.8" cy="289.5" r="0.35"/><circle cx="90.4" cy="286.8" r="0.35"/><circle cx="85.0" cy="279.0" r="0.35"/><circle cx="91.6" cy="282.6" r="0.35"/><circle cx="84.5" cy="279.6" r="0.35"/><circle cx="92.8" cy="273.8" r="0.35"/><circle cx="85.2" cy="275.5" r="0.35"/><circle cx="90.8" cy="289.5" r="0.35"/></g>
<g fill="#2f4f6f" opacity="0.55"><circle cx="83.9" cy="273.4" r="0.4"/><circle cx="84.6" cy="277.5" r="0.4"/><circle cx="86.4" cy="273.6" r="0.4"/><circle cx="85.1" cy="274.2" r="0.4"/><circle cx="89.4" cy="287.2" r="0.4"/><circle cx="83.6" cy="292.8" r="0.4"/><circle cx="83.6" cy="278.9" r="0.4"/><circle cx="89.5" cy="288.8" r="0.4"/><circle cx="87.8" cy="280.1" r="0.4"/><circle cx="84.2" cy="285.0" r="0.4"/><circle cx="83.6" cy="274.7" r="0.4"/><circle cx="85.5" cy="270.5" r="0.4"/><circle cx="85.6" cy="288.7" r="0.4"/><circle cx="87.5" cy="281.7" r="0.4"/><circle cx="87.1" cy="280.8" r="0.4"/><circle cx="83.9" cy="284.2" r="0.4"/><circle cx="85.6" cy="287.5" r="0.4"/><circle cx="89.0" cy="280.0" r="0.4"/><circle cx="86.7" cy="287.7" r="0.4"/><circle cx="85.7" cy="275.2" r="0.4"/><circle cx="87.7" cy="290.8" r="0.4"/><circle cx="88.1" cy="286.5" r="0.4"/><circle cx="88.6" cy="286.0" r="0.4"/><circle cx="87.2" cy="280.6" r="0.4"/><circle cx="85.0" cy="284.8" r="0.4"/><circle cx="83.6" cy="279.8" r="0.4"/><circle cx="88.1" cy="286.8" r="0.4"/><circle cx="87.1" cy="275.7" r="0.4"/><circle cx="85.7" cy="280.6" r="0.4"/><circle cx="87.1" cy="279.5" r="0.4"/><circle cx="87.4" cy="292.0" r="0.4"/><circle cx="84.1" cy="285.4" r="0.4"/><circle cx="88.1" cy="279.0" r="0.4"/><circle cx="86.2" cy="293.1" r="0.4"/><circle cx="83.2" cy="282.7" r="0.4"/><circle cx="84.0" cy="288.5" r="0.4"/><circle cx="89.2" cy="282.2" r="0.4"/><circle cx="83.6" cy="283.5" r="0.4"/><circle cx="86.5" cy="286.9" r="0.4"/><circle cx="86.3" cy="285.0" r="0.4"/><circle cx="88.5" cy="282.2" r="0.4"/><circle cx="85.6" cy="292.5" r="0.4"/><circle cx="84.3" cy="286.1" r="0.4"/><circle cx="85.5" cy="288.0" r="0.4"/><circle cx="83.7" cy="293.3" r="0.4"/><circle cx="85.3" cy="271.1" r="0.4"/><circle cx="84.7" cy="279.3" r="0.4"/><circle cx="83.0" cy="279.7" r="0.4"/><circle cx="85.7" cy="286.5" r="0.4"/><circle cx="85.3" cy="276.1" r="0.4"/><circle cx="84.4" cy="287.5" r="0.4"/><circle cx="89.2" cy="282.3" r="0.4"/><circle cx="84.4" cy="288.9" r="0.4"/><circle cx="85.5" cy="274.8" r="0.4"/><circle cx="83.8" cy="288.3" r="0.4"/><circle cx="88.3" cy="284.9" r="0.4"/><circle cx="86.0" cy="283.2" r="0.4"/><circle cx="84.4" cy="292.8" r="0.4"/><circle cx="85.3" cy="285.0" r="0.4"/><circle cx="88.4" cy="289.3" r="0.4"/><circle cx="86.0" cy="276.8" r="0.4"/><circle cx="86.6" cy="272.7" r="0.4"/><circle cx="88.5" cy="278.2" r="0.4"/><circle cx="88.6" cy="276.1" r="0.4"/><circle cx="85.4" cy="275.8" r="0.4"/><circle cx="85.8" cy="274.2" r="0.4"/><circle cx="82.9" cy="287.0" r="0.4"/><circle cx="84.8" cy="275.6" r="0.4"/><circle cx="84.9" cy="281.2" r="0.4"/><circle cx="85.8" cy="285.0" r="0.4"/></g>
<g fill="#a8b0e0" opacity="0.45"><circle cx="110.1" cy="268.8" r="0.35"/><circle cx="117.5" cy="275.7" r="0.35"/><circle cx="93.7" cy="275.3" r="0.35"/><circle cx="116.8" cy="274.7" r="0.35"/><circle cx="95.9" cy="275.3" r="0.35"/><circle cx="109.4" cy="263.9" r="0.35"/><circle cx="92.4" cy="277.0" r="0.35"/><circle cx="110.0" cy="267.2" r="0.35"/><circle cx="94.9" cy="265.7" r="0.35"/><circle cx="98.5" cy="274.6" r="0.35"/><circle cx="101.6" cy="265.8" r="0.35"/><circle cx="116.8" cy="274.8" r="0.35"/><circle cx="96.7" cy="276.2" r="0.35"/><circle cx="108.7" cy="274.6" r="0.35"/><circle cx="110.3" cy="276.2" r="0.35"/><circle cx="113.6" cy="275.4" r="0.35"/><circle cx="97.5" cy="273.4" r="0.35"/><circle cx="106.6" cy="274.1" r="0.35"/><circle cx="104.1" cy="276.1" r="0.35"/><circle cx="107.3" cy="267.4" r="0.35"/><circle cx="98.5" cy="265.7" r="0.35"/><circle cx="105.6" cy="264.5" r="0.35"/><circle cx="104.9" cy="265.7" r="0.35"/><circle cx="105.5" cy="270.7" r="0.35"/><circle cx="106.8" cy="275.8" r="0.35"/><circle cx="92.3" cy="275.5" r="0.35"/><circle cx="104.9" cy="271.6" r="0.35"/><circle cx="110.3" cy="275.5" r="0.35"/><circle cx="102.3" cy="269.6" r="0.35"/><circle cx="118.3" cy="264.8" r="0.35"/></g>
<g fill="#8890b0" opacity="0.5"><circle cx="100.3" cy="275.9" r="0.35"/><circle cx="90.6" cy="275.5" r="0.35"/><circle cx="101.0" cy="280.6" r="0.35"/><circle cx="95.4" cy="281.4" r="0.35"/><circle cx="98.3" cy="273.5" r="0.35"/><circle cx="104.5" cy="266.2" r="0.35"/><circle cx="101.6" cy="275.7" r="0.35"/><circle cx="95.5" cy="279.5" r="0.35"/><circle cx="96.0" cy="273.3" r="0.35"/><circle cx="98.5" cy="278.0" r="0.35"/><circle cx="93.5" cy="272.7" r="0.35"/><circle cx="96.9" cy="274.6" r="0.35"/><circle cx="103.3" cy="270.4" r="0.35"/><circle cx="103.3" cy="272.2" r="0.35"/><circle cx="98.2" cy="270.0" r="0.35"/><circle cx="98.2" cy="281.3" r="0.35"/><circle cx="100.6" cy="278.4" r="0.35"/><circle cx="95.4" cy="270.8" r="0.35"/><circle cx="94.9" cy="275.1" r="0.35"/><circle cx="100.3" cy="278.2" r="0.35"/><circle cx="90.7" cy="277.3" r="0.35"/><circle cx="104.3" cy="274.4" r="0.35"/><circle cx="90.9" cy="270.5" r="0.35"/><circle cx="90.2" cy="268.7" r="0.35"/><circle cx="104.8" cy="275.4" r="0.35"/><circle cx="100.6" cy="278.3" r="0.35"/><circle cx="104.7" cy="275.5" r="0.35"/><circle cx="100.0" cy="275.7" r="0.35"/><circle cx="101.2" cy="275.2" r="0.35"/><circle cx="101.0" cy="269.1" r="0.35"/><circle cx="100.8" cy="273.0" r="0.35"/><circle cx="102.3" cy="267.3" r="0.35"/><circle cx="93.0" cy="266.3" r="0.35"/><circle cx="102.5" cy="280.3" r="0.35"/><circle cx="100.6" cy="271.6" r="0.35"/><circle cx="103.3" cy="278.3" r="0.35"/><circle cx="99.1" cy="269.8" r="0.35"/><circle cx="94.9" cy="272.4" r="0.35"/><circle cx="95.2" cy="272.6" r="0.35"/><circle cx="100.4" cy="280.6" r="0.35"/><circle cx="91.0" cy="274.8" r="0.35"/><circle cx="90.7" cy="267.6" r="0.35"/><circle cx="103.1" cy="274.9" r="0.35"/><circle cx="104.8" cy="272.8" r="0.35"/><circle cx="90.3" cy="271.9" r="0.35"/></g>
<path d="M82.1 255.7 H122.4 V294.5" fill="none" stroke="#d4d4d4" stroke-width="0.6"/>
<path d="M82.1 255.7 V294.5 H122.4" fill="none" stroke="#a6a6a6" stroke-width="0.7"/>
<text x="75.5" y="257" font-size="3.9" fill="#383838" text-anchor="middle" stroke="#383838" stroke-width="0.12">10</text>
<text x="77.6" y="255.5" font-size="2.6" fill="#383838">4</text>
<text x="75.5" y="266.7" font-size="3.9" fill="#383838" text-anchor="middle" stroke="#383838" stroke-width="0.12">10</text>
<text x="77.6" y="265.2" font-size="2.6" fill="#383838">3</text>
<text x="75.5" y="276.4" font-size="3.9" fill="#383838" text-anchor="middle" stroke="#383838" stroke-width="0.12">10</text>
<text x="77.6" y="274.9" font-size="2.6" fill="#383838">2</text>
<text x="75.5" y="286.1" font-size="3.9" fill="#383838" text-anchor="middle" stroke="#383838" stroke-width="0.12">10</text>
<text x="77.6" y="284.6" font-size="2.6" fill="#383838">1</text>
<text x="75.5" y="295.8" font-size="3.9" fill="#383838" text-anchor="middle" stroke="#383838" stroke-width="0.12">10</text>
<text x="77.6" y="294.3" font-size="2.6" fill="#383838">0</text>
<text x="82.5" y="300.3" font-size="3.9" fill="#383838" text-anchor="middle" stroke="#383838" stroke-width="0.12">10</text>
<text x="84.6" y="298.8" font-size="2.6" fill="#383838">0</text>
<text x="92.5" y="300.3" font-size="3.9" fill="#383838" text-anchor="middle" stroke="#383838" stroke-width="0.12">10</text>
<text x="94.6" y="298.8" font-size="2.6" fill="#383838">1</text>
<text x="102.5" y="300.3" font-size="3.9" fill="#383838" text-anchor="middle" stroke="#383838" stroke-width="0.12">10</text>
<text x="104.6" y="298.8" font-size="2.6" fill="#383838">2</text>
<text x="112.5" y="300.3" font-size="3.9" fill="#383838" text-anchor="middle" stroke="#383838" stroke-width="0.12">10</text>
<text x="114.6" y="298.8" font-size="2.6" fill="#383838">3</text>
<text x="122.5" y="300.3" font-size="3.9" fill="#383838" text-anchor="middle" stroke="#383838" stroke-width="0.12">10</text>
<text x="124.6" y="298.8" font-size="2.6" fill="#383838">4</text>
<rect x="105.3" y="257.7" width="17.1" height="21" fill="none" stroke="#858585" stroke-width="0.45"/>
<text x="110.9" y="261.3" font-size="2.9" text-anchor="middle" fill="#555"  stroke="#555" stroke-width="0.12">Ann Pos</text>
<text x="110.9" y="264.5" font-size="2.9" text-anchor="middle" fill="#555"  stroke="#555" stroke-width="0.12">10.8</text>
<ellipse cx="115.9" cy="270.2" rx="0.8" ry="6.5" fill="#4f6f98" opacity="0.85" transform="rotate(0 115.9 270.2)" filter="url(#b05)"/>
<g fill="#8090c8" opacity="0.5"><circle cx="115.1" cy="276.5" r="0.35"/><circle cx="120.1" cy="271.2" r="0.35"/><circle cx="112.7" cy="266.9" r="0.35"/><circle cx="115.7" cy="268.1" r="0.35"/><circle cx="109.3" cy="265.9" r="0.35"/><circle cx="107.4" cy="273.6" r="0.35"/><circle cx="108.9" cy="276.8" r="0.35"/><circle cx="108.5" cy="275.7" r="0.35"/><circle cx="109.0" cy="265.9" r="0.35"/><circle cx="116.7" cy="268.5" r="0.35"/><circle cx="116.9" cy="267.9" r="0.35"/><circle cx="108.0" cy="274.6" r="0.35"/><circle cx="116.6" cy="275.5" r="0.35"/><circle cx="116.9" cy="266.7" r="0.35"/><circle cx="115.5" cy="273.9" r="0.35"/><circle cx="113.3" cy="276.4" r="0.35"/><circle cx="110.6" cy="276.8" r="0.35"/><circle cx="116.7" cy="265.8" r="0.35"/></g>
<ellipse cx="152.2" cy="272.7" rx="12" ry="4" fill="#dcdcf4" opacity="0.6" transform="rotate(-30 152.2 272.7)" filter="url(#b2)"/>
<ellipse cx="143.2" cy="281.5" rx="6" ry="13" fill="#c4cbee" opacity="0.6" transform="rotate(12 143.2 281.5)" filter="url(#b2)"/>
<ellipse cx="141.7" cy="283.5" rx="3.5" ry="11" fill="#5f86a8" opacity="0.85" transform="rotate(8 141.7 283.5)" filter="url(#b1)"/>
<ellipse cx="140.4" cy="286.5" rx="1.8" ry="5" fill="#48a878" opacity="0.9" transform="rotate(0 140.4 286.5)" filter="url(#b1)"/>
<g fill="#6f86b8" opacity="0.5"><circle cx="139.4" cy="284.5" r="0.35"/><circle cx="148.2" cy="269.8" r="0.35"/><circle cx="142.6" cy="286.5" r="0.35"/><circle cx="141.0" cy="289.9" r="0.35"/><circle cx="144.5" cy="269.2" r="0.35"/><circle cx="143.2" cy="282.5" r="0.35"/><circle cx="144.0" cy="285.2" r="0.35"/><circle cx="140.8" cy="288.3" r="0.35"/><circle cx="143.2" cy="284.3" r="0.35"/><circle cx="146.1" cy="278.5" r="0.35"/><circle cx="143.4" cy="288.0" r="0.35"/><circle cx="149.6" cy="287.9" r="0.35"/><circle cx="145.4" cy="275.2" r="0.35"/><circle cx="139.9" cy="292.8" r="0.35"/><circle cx="146.9" cy="289.0" r="0.35"/><circle cx="142.9" cy="283.3" r="0.35"/><circle cx="150.0" cy="289.1" r="0.35"/><circle cx="145.8" cy="275.7" r="0.35"/><circle cx="143.9" cy="290.6" r="0.35"/><circle cx="143.3" cy="285.4" r="0.35"/><circle cx="145.8" cy="290.8" r="0.35"/><circle cx="148.1" cy="275.0" r="0.35"/><circle cx="139.2" cy="274.5" r="0.35"/><circle cx="143.8" cy="282.8" r="0.35"/><circle cx="148.2" cy="290.6" r="0.35"/><circle cx="139.7" cy="289.2" r="0.35"/><circle cx="148.1" cy="290.1" r="0.35"/><circle cx="145.5" cy="274.8" r="0.35"/><circle cx="148.6" cy="288.5" r="0.35"/><circle cx="146.7" cy="291.3" r="0.35"/><circle cx="143.0" cy="269.9" r="0.35"/><circle cx="145.3" cy="288.3" r="0.35"/><circle cx="141.4" cy="287.1" r="0.35"/><circle cx="149.4" cy="273.7" r="0.35"/><circle cx="145.9" cy="285.2" r="0.35"/><circle cx="144.3" cy="273.0" r="0.35"/><circle cx="142.0" cy="287.1" r="0.35"/><circle cx="147.9" cy="279.6" r="0.35"/><circle cx="140.2" cy="288.5" r="0.35"/><circle cx="147.7" cy="273.7" r="0.35"/></g>
<g fill="#2f4f6f" opacity="0.55"><circle cx="142.9" cy="291.2" r="0.4"/><circle cx="144.9" cy="282.2" r="0.4"/><circle cx="142.2" cy="283.8" r="0.4"/><circle cx="140.3" cy="274.3" r="0.4"/><circle cx="140.2" cy="286.5" r="0.4"/><circle cx="141.4" cy="283.2" r="0.4"/><circle cx="141.7" cy="282.1" r="0.4"/><circle cx="140.0" cy="270.8" r="0.4"/><circle cx="145.7" cy="278.7" r="0.4"/><circle cx="139.7" cy="284.9" r="0.4"/><circle cx="144.3" cy="273.4" r="0.4"/><circle cx="143.0" cy="278.0" r="0.4"/><circle cx="142.5" cy="270.2" r="0.4"/><circle cx="139.2" cy="293.5" r="0.4"/><circle cx="144.8" cy="281.4" r="0.4"/><circle cx="142.8" cy="276.0" r="0.4"/><circle cx="144.2" cy="279.9" r="0.4"/><circle cx="145.3" cy="288.1" r="0.4"/><circle cx="144.5" cy="292.8" r="0.4"/><circle cx="140.7" cy="270.6" r="0.4"/><circle cx="140.3" cy="274.0" r="0.4"/><circle cx="139.6" cy="270.9" r="0.4"/><circle cx="142.7" cy="290.6" r="0.4"/><circle cx="142.1" cy="292.4" r="0.4"/><circle cx="145.1" cy="271.2" r="0.4"/><circle cx="143.0" cy="279.2" r="0.4"/><circle cx="139.8" cy="292.7" r="0.4"/><circle cx="140.7" cy="283.2" r="0.4"/><circle cx="143.3" cy="292.7" r="0.4"/><circle cx="143.5" cy="279.1" r="0.4"/><circle cx="142.0" cy="273.5" r="0.4"/><circle cx="145.5" cy="293.5" r="0.4"/><circle cx="140.5" cy="270.6" r="0.4"/><circle cx="140.7" cy="278.1" r="0.4"/><circle cx="145.0" cy="291.4" r="0.4"/><circle cx="144.6" cy="270.8" r="0.4"/><circle cx="144.3" cy="286.7" r="0.4"/><circle cx="143.3" cy="293.4" r="0.4"/><circle cx="139.4" cy="273.2" r="0.4"/><circle cx="144.1" cy="292.2" r="0.4"/><circle cx="143.5" cy="276.9" r="0.4"/><circle cx="143.0" cy="287.9" r="0.4"/><circle cx="139.7" cy="277.5" r="0.4"/><circle cx="140.7" cy="272.7" r="0.4"/><circle cx="142.2" cy="273.7" r="0.4"/><circle cx="140.6" cy="273.1" r="0.4"/><circle cx="143.5" cy="270.0" r="0.4"/><circle cx="143.8" cy="274.4" r="0.4"/><circle cx="139.2" cy="292.0" r="0.4"/><circle cx="140.5" cy="292.1" r="0.4"/><circle cx="144.8" cy="291.0" r="0.4"/><circle cx="139.9" cy="280.4" r="0.4"/><circle cx="139.6" cy="292.0" r="0.4"/><circle cx="144.6" cy="284.8" r="0.4"/><circle cx="142.0" cy="277.9" r="0.4"/><circle cx="144.5" cy="281.2" r="0.4"/><circle cx="143.2" cy="273.1" r="0.4"/><circle cx="140.5" cy="271.1" r="0.4"/><circle cx="143.8" cy="283.0" r="0.4"/><circle cx="140.0" cy="290.6" r="0.4"/><circle cx="140.8" cy="279.6" r="0.4"/><circle cx="140.0" cy="276.2" r="0.4"/><circle cx="144.6" cy="277.7" r="0.4"/><circle cx="140.1" cy="281.5" r="0.4"/><circle cx="141.1" cy="291.4" r="0.4"/><circle cx="139.8" cy="293.2" r="0.4"/><circle cx="139.4" cy="291.2" r="0.4"/><circle cx="143.5" cy="274.8" r="0.4"/><circle cx="142.2" cy="276.6" r="0.4"/><circle cx="140.7" cy="274.5" r="0.4"/></g>
<g fill="#a8b0e0" opacity="0.45"><circle cx="158.1" cy="277.6" r="0.35"/><circle cx="175.4" cy="276.7" r="0.35"/><circle cx="150.9" cy="267.8" r="0.35"/><circle cx="172.7" cy="264.5" r="0.35"/><circle cx="168.0" cy="267.8" r="0.35"/><circle cx="174.9" cy="263.9" r="0.35"/><circle cx="170.2" cy="268.5" r="0.35"/><circle cx="152.0" cy="263.7" r="0.35"/><circle cx="170.9" cy="271.1" r="0.35"/><circle cx="153.3" cy="269.8" r="0.35"/><circle cx="173.1" cy="266.8" r="0.35"/><circle cx="163.8" cy="265.6" r="0.35"/><circle cx="153.1" cy="274.5" r="0.35"/><circle cx="167.6" cy="266.5" r="0.35"/><circle cx="150.4" cy="264.9" r="0.35"/><circle cx="164.8" cy="270.6" r="0.35"/><circle cx="155.7" cy="266.6" r="0.35"/><circle cx="164.9" cy="273.6" r="0.35"/><circle cx="170.4" cy="271.9" r="0.35"/><circle cx="153.7" cy="264.6" r="0.35"/><circle cx="168.2" cy="269.4" r="0.35"/><circle cx="167.9" cy="264.5" r="0.35"/><circle cx="170.3" cy="268.4" r="0.35"/><circle cx="171.2" cy="275.8" r="0.35"/><circle cx="161.7" cy="263.9" r="0.35"/><circle cx="173.0" cy="270.4" r="0.35"/><circle cx="172.0" cy="267.4" r="0.35"/><circle cx="153.3" cy="275.3" r="0.35"/><circle cx="158.2" cy="266.0" r="0.35"/><circle cx="158.3" cy="272.0" r="0.35"/></g>
<g fill="#8890b0" opacity="0.5"><circle cx="146.3" cy="274.0" r="0.35"/><circle cx="153.3" cy="274.0" r="0.35"/><circle cx="148.1" cy="277.1" r="0.35"/><circle cx="159.3" cy="279.5" r="0.35"/><circle cx="151.3" cy="277.1" r="0.35"/><circle cx="152.3" cy="277.7" r="0.35"/><circle cx="147.2" cy="279.7" r="0.35"/><circle cx="161.5" cy="273.6" r="0.35"/><circle cx="154.4" cy="274.2" r="0.35"/><circle cx="154.8" cy="266.0" r="0.35"/><circle cx="161.7" cy="269.3" r="0.35"/><circle cx="149.1" cy="267.3" r="0.35"/><circle cx="150.2" cy="278.8" r="0.35"/><circle cx="146.7" cy="267.2" r="0.35"/><circle cx="157.4" cy="268.8" r="0.35"/><circle cx="146.5" cy="275.3" r="0.35"/><circle cx="155.4" cy="274.1" r="0.35"/><circle cx="157.4" cy="267.3" r="0.35"/><circle cx="160.1" cy="277.2" r="0.35"/><circle cx="146.9" cy="267.7" r="0.35"/><circle cx="154.1" cy="273.7" r="0.35"/><circle cx="150.7" cy="267.7" r="0.35"/><circle cx="152.7" cy="267.9" r="0.35"/><circle cx="155.7" cy="279.5" r="0.35"/><circle cx="148.6" cy="274.9" r="0.35"/><circle cx="158.1" cy="268.3" r="0.35"/><circle cx="159.4" cy="280.7" r="0.35"/><circle cx="152.4" cy="272.4" r="0.35"/><circle cx="159.6" cy="274.1" r="0.35"/><circle cx="152.5" cy="280.8" r="0.35"/><circle cx="158.6" cy="271.1" r="0.35"/><circle cx="150.0" cy="271.1" r="0.35"/><circle cx="153.2" cy="281.4" r="0.35"/><circle cx="159.1" cy="280.3" r="0.35"/><circle cx="159.2" cy="279.3" r="0.35"/><circle cx="147.1" cy="274.0" r="0.35"/><circle cx="161.5" cy="280.6" r="0.35"/><circle cx="150.2" cy="272.5" r="0.35"/><circle cx="156.3" cy="271.5" r="0.35"/><circle cx="154.7" cy="266.8" r="0.35"/><circle cx="153.1" cy="273.8" r="0.35"/><circle cx="146.5" cy="267.9" r="0.35"/><circle cx="161.7" cy="278.1" r="0.35"/><circle cx="161.2" cy="275.8" r="0.35"/><circle cx="159.1" cy="279.8" r="0.35"/></g>
<path d="M138.2 255.7 H178.5 V294.5" fill="none" stroke="#d4d4d4" stroke-width="0.6"/>
<path d="M138.2 255.7 V294.5 H178.5" fill="none" stroke="#a6a6a6" stroke-width="0.7"/>
<text x="131.6" y="257" font-size="3.9" fill="#383838" text-anchor="middle" stroke="#383838" stroke-width="0.12">10</text>
<text x="133.7" y="255.5" font-size="2.6" fill="#383838">4</text>
<text x="131.6" y="266.7" font-size="3.9" fill="#383838" text-anchor="middle" stroke="#383838" stroke-width="0.12">10</text>
<text x="133.7" y="265.2" font-size="2.6" fill="#383838">3</text>
<text x="131.6" y="276.4" font-size="3.9" fill="#383838" text-anchor="middle" stroke="#383838" stroke-width="0.12">10</text>
<text x="133.7" y="274.9" font-size="2.6" fill="#383838">2</text>
<text x="131.6" y="286.1" font-size="3.9" fill="#383838" text-anchor="middle" stroke="#383838" stroke-width="0.12">10</text>
<text x="133.7" y="284.6" font-size="2.6" fill="#383838">1</text>
<text x="131.6" y="295.8" font-size="3.9" fill="#383838" text-anchor="middle" stroke="#383838" stroke-width="0.12">10</text>
<text x="133.7" y="294.3" font-size="2.6" fill="#383838">0</text>
<text x="138.6" y="300.3" font-size="3.9" fill="#383838" text-anchor="middle" stroke="#383838" stroke-width="0.12">10</text>
<text x="140.7" y="298.8" font-size="2.6" fill="#383838">0</text>
<text x="148.6" y="300.3" font-size="3.9" fill="#383838" text-anchor="middle" stroke="#383838" stroke-width="0.12">10</text>
<text x="150.7" y="298.8" font-size="2.6" fill="#383838">1</text>
<text x="158.6" y="300.3" font-size="3.9" fill="#383838" text-anchor="middle" stroke="#383838" stroke-width="0.12">10</text>
<text x="160.7" y="298.8" font-size="2.6" fill="#383838">2</text>
<text x="168.6" y="300.3" font-size="3.9" fill="#383838" text-anchor="middle" stroke="#383838" stroke-width="0.12">10</text>
<text x="170.7" y="298.8" font-size="2.6" fill="#383838">3</text>
<text x="178.6" y="300.3" font-size="3.9" fill="#383838" text-anchor="middle" stroke="#383838" stroke-width="0.12">10</text>
<text x="180.7" y="298.8" font-size="2.6" fill="#383838">4</text>
<rect x="161.4" y="257.7" width="17.1" height="21" fill="none" stroke="#858585" stroke-width="0.45"/>
<text x="167" y="261.3" font-size="2.9" text-anchor="middle" fill="#555"  stroke="#555" stroke-width="0.12">Ann Pos</text>
<text x="167" y="264.5" font-size="2.9" text-anchor="middle" fill="#555"  stroke="#555" stroke-width="0.12">10.8</text>
<ellipse cx="172" cy="270.2" rx="0.8" ry="6.5" fill="#4f6f98" opacity="0.85" transform="rotate(0 172 270.2)" filter="url(#b05)"/>
<g fill="#8090c8" opacity="0.5"><circle cx="175.0" cy="266.1" r="0.35"/><circle cx="171.8" cy="268.8" r="0.35"/><circle cx="172.3" cy="268.8" r="0.35"/><circle cx="170.5" cy="276.3" r="0.35"/><circle cx="171.5" cy="268.6" r="0.35"/><circle cx="170.2" cy="270.7" r="0.35"/><circle cx="175.9" cy="269.0" r="0.35"/><circle cx="167.4" cy="273.1" r="0.35"/><circle cx="165.0" cy="272.5" r="0.35"/><circle cx="175.9" cy="271.6" r="0.35"/><circle cx="166.9" cy="271.1" r="0.35"/><circle cx="170.4" cy="267.4" r="0.35"/><circle cx="165.0" cy="267.2" r="0.35"/><circle cx="167.2" cy="270.4" r="0.35"/><circle cx="167.2" cy="268.5" r="0.35"/><circle cx="164.6" cy="272.0" r="0.35"/><circle cx="174.4" cy="272.7" r="0.35"/><circle cx="170.9" cy="273.2" r="0.35"/></g>
<ellipse cx="40.3" cy="325.5" rx="12" ry="4" fill="#dcdcf4" opacity="0.6" transform="rotate(-30 40.3 325.5)" filter="url(#b2)"/>
<ellipse cx="31.3" cy="334.7" rx="6" ry="13" fill="#c4cbee" opacity="0.6" transform="rotate(12 31.3 334.7)" filter="url(#b2)"/>
<ellipse cx="29.8" cy="336.7" rx="3.5" ry="11" fill="#5f86a8" opacity="0.85" transform="rotate(8 29.8 336.7)" filter="url(#b1)"/>
<ellipse cx="28.5" cy="339.7" rx="1.8" ry="5" fill="#48a878" opacity="0.9" transform="rotate(0 28.5 339.7)" filter="url(#b1)"/>
<g fill="#6f86b8" opacity="0.5"><circle cx="29.5" cy="339.1" r="0.35"/><circle cx="32.4" cy="334.9" r="0.35"/><circle cx="34.0" cy="332.8" r="0.35"/><circle cx="30.7" cy="326.8" r="0.35"/><circle cx="29.7" cy="333.9" r="0.35"/><circle cx="31.5" cy="335.8" r="0.35"/><circle cx="27.4" cy="329.7" r="0.35"/><circle cx="36.8" cy="326.7" r="0.35"/><circle cx="33.4" cy="333.4" r="0.35"/><circle cx="30.4" cy="346.4" r="0.35"/><circle cx="30.6" cy="340.7" r="0.35"/><circle cx="29.0" cy="322.3" r="0.35"/><circle cx="36.9" cy="332.0" r="0.35"/><circle cx="28.0" cy="330.7" r="0.35"/><circle cx="32.1" cy="339.8" r="0.35"/><circle cx="28.5" cy="326.4" r="0.35"/><circle cx="37.9" cy="339.9" r="0.35"/><circle cx="29.0" cy="329.3" r="0.35"/><circle cx="31.2" cy="338.2" r="0.35"/><circle cx="34.1" cy="342.8" r="0.35"/><circle cx="36.3" cy="334.1" r="0.35"/><circle cx="35.4" cy="340.0" r="0.35"/><circle cx="35.7" cy="333.0" r="0.35"/><circle cx="35.9" cy="339.1" r="0.35"/><circle cx="37.4" cy="323.8" r="0.35"/><circle cx="36.9" cy="320.6" r="0.35"/><circle cx="35.7" cy="335.8" r="0.35"/><circle cx="32.8" cy="345.7" r="0.35"/><circle cx="33.6" cy="331.4" r="0.35"/><circle cx="35.9" cy="343.4" r="0.35"/><circle cx="34.0" cy="330.4" r="0.35"/><circle cx="32.3" cy="332.5" r="0.35"/><circle cx="35.3" cy="328.2" r="0.35"/><circle cx="31.6" cy="335.1" r="0.35"/><circle cx="31.5" cy="328.9" r="0.35"/><circle cx="36.0" cy="342.8" r="0.35"/><circle cx="32.8" cy="332.1" r="0.35"/><circle cx="29.3" cy="328.5" r="0.35"/><circle cx="28.9" cy="335.6" r="0.35"/><circle cx="33.7" cy="322.8" r="0.35"/></g>
<g fill="#2f4f6f" opacity="0.55"><circle cx="33.3" cy="330.4" r="0.4"/><circle cx="32.8" cy="343.0" r="0.4"/><circle cx="33.5" cy="327.5" r="0.4"/><circle cx="30.0" cy="344.7" r="0.4"/><circle cx="27.2" cy="323.7" r="0.4"/><circle cx="30.9" cy="334.6" r="0.4"/><circle cx="33.3" cy="341.4" r="0.4"/><circle cx="30.7" cy="346.9" r="0.4"/><circle cx="30.6" cy="335.1" r="0.4"/><circle cx="31.7" cy="332.0" r="0.4"/><circle cx="29.5" cy="337.0" r="0.4"/><circle cx="29.5" cy="345.6" r="0.4"/><circle cx="31.6" cy="335.3" r="0.4"/><circle cx="27.8" cy="331.6" r="0.4"/><circle cx="29.8" cy="336.2" r="0.4"/><circle cx="30.9" cy="344.0" r="0.4"/><circle cx="33.6" cy="334.4" r="0.4"/><circle cx="30.0" cy="337.7" r="0.4"/><circle cx="33.8" cy="330.9" r="0.4"/><circle cx="30.7" cy="342.4" r="0.4"/><circle cx="28.2" cy="330.3" r="0.4"/><circle cx="33.7" cy="342.7" r="0.4"/><circle cx="30.5" cy="325.2" r="0.4"/><circle cx="33.1" cy="339.3" r="0.4"/><circle cx="32.6" cy="346.7" r="0.4"/><circle cx="33.1" cy="332.8" r="0.4"/><circle cx="28.1" cy="329.6" r="0.4"/><circle cx="30.5" cy="334.8" r="0.4"/><circle cx="28.4" cy="327.0" r="0.4"/><circle cx="31.3" cy="337.2" r="0.4"/><circle cx="29.5" cy="346.7" r="0.4"/><circle cx="31.4" cy="323.5" r="0.4"/><circle cx="29.9" cy="341.7" r="0.4"/><circle cx="29.2" cy="339.4" r="0.4"/><circle cx="27.1" cy="329.9" r="0.4"/><circle cx="32.7" cy="336.8" r="0.4"/><circle cx="31.6" cy="327.3" r="0.4"/><circle cx="30.4" cy="336.0" r="0.4"/><circle cx="28.9" cy="338.3" r="0.4"/><circle cx="30.7" cy="346.8" r="0.4"/><circle cx="30.9" cy="332.5" r="0.4"/><circle cx="27.9" cy="326.3" r="0.4"/><circle cx="32.2" cy="325.1" r="0.4"/><circle cx="27.8" cy="326.7" r="0.4"/><circle cx="30.6" cy="342.6" r="0.4"/><circle cx="31.2" cy="342.2" r="0.4"/><circle cx="27.5" cy="322.8" r="0.4"/><circle cx="32.3" cy="330.4" r="0.4"/><circle cx="31.9" cy="331.1" r="0.4"/><circle cx="28.2" cy="329.0" r="0.4"/><circle cx="27.8" cy="344.6" r="0.4"/><circle cx="31.0" cy="331.0" r="0.4"/><circle cx="30.1" cy="331.9" r="0.4"/><circle cx="27.5" cy="344.2" r="0.4"/><circle cx="31.0" cy="345.9" r="0.4"/><circle cx="30.0" cy="337.6" r="0.4"/><circle cx="28.8" cy="323.6" r="0.4"/><circle cx="33.3" cy="343.4" r="0.4"/><circle cx="29.2" cy="344.4" r="0.4"/><circle cx="32.6" cy="329.9" r="0.4"/><circle cx="31.1" cy="345.9" r="0.4"/><circle cx="30.4" cy="345.7" r="0.4"/><circle cx="28.7" cy="332.0" r="0.4"/><circle cx="31.9" cy="327.9" r="0.4"/><circle cx="29.2" cy="343.9" r="0.4"/><circle cx="30.3" cy="341.8" r="0.4"/><circle cx="28.7" cy="326.7" r="0.4"/><circle cx="29.5" cy="327.1" r="0.4"/><circle cx="33.6" cy="329.6" r="0.4"/><circle cx="30.9" cy="325.3" r="0.4"/></g>
<g fill="#a8b0e0" opacity="0.45"><circle cx="50.9" cy="321.9" r="0.35"/><circle cx="47.3" cy="317.4" r="0.35"/><circle cx="39.7" cy="328.1" r="0.35"/><circle cx="45.9" cy="319.9" r="0.35"/><circle cx="41.5" cy="320.5" r="0.35"/><circle cx="42.8" cy="317.0" r="0.35"/><circle cx="54.4" cy="321.3" r="0.35"/><circle cx="40.6" cy="326.4" r="0.35"/><circle cx="38.8" cy="320.3" r="0.35"/><circle cx="59.1" cy="318.3" r="0.35"/><circle cx="48.4" cy="328.2" r="0.35"/><circle cx="58.3" cy="318.7" r="0.35"/><circle cx="45.9" cy="326.6" r="0.35"/><circle cx="46.6" cy="329.9" r="0.35"/><circle cx="42.0" cy="329.8" r="0.35"/><circle cx="50.1" cy="319.7" r="0.35"/><circle cx="48.7" cy="318.3" r="0.35"/><circle cx="55.6" cy="320.2" r="0.35"/><circle cx="60.9" cy="324.7" r="0.35"/><circle cx="46.3" cy="319.9" r="0.35"/><circle cx="52.9" cy="319.5" r="0.35"/><circle cx="60.1" cy="318.2" r="0.35"/><circle cx="50.3" cy="324.1" r="0.35"/><circle cx="43.7" cy="327.3" r="0.35"/><circle cx="46.8" cy="325.7" r="0.35"/><circle cx="51.8" cy="320.9" r="0.35"/><circle cx="46.9" cy="317.7" r="0.35"/><circle cx="41.1" cy="328.4" r="0.35"/><circle cx="45.1" cy="325.8" r="0.35"/><circle cx="39.3" cy="324.4" r="0.35"/></g>
<g fill="#8890b0" opacity="0.5"><circle cx="40.1" cy="326.5" r="0.35"/><circle cx="39.1" cy="319.6" r="0.35"/><circle cx="39.3" cy="322.1" r="0.35"/><circle cx="36.3" cy="330.0" r="0.35"/><circle cx="38.8" cy="325.0" r="0.35"/><circle cx="48.8" cy="330.9" r="0.35"/><circle cx="48.4" cy="332.3" r="0.35"/><circle cx="36.4" cy="322.9" r="0.35"/><circle cx="34.8" cy="329.4" r="0.35"/><circle cx="44.9" cy="324.1" r="0.35"/><circle cx="40.9" cy="329.0" r="0.35"/><circle cx="45.5" cy="322.5" r="0.35"/><circle cx="47.8" cy="324.1" r="0.35"/><circle cx="44.4" cy="321.4" r="0.35"/><circle cx="36.1" cy="333.1" r="0.35"/><circle cx="46.0" cy="329.9" r="0.35"/><circle cx="34.9" cy="319.1" r="0.35"/><circle cx="36.9" cy="321.7" r="0.35"/><circle cx="39.1" cy="324.6" r="0.35"/><circle cx="34.9" cy="323.5" r="0.35"/><circle cx="44.5" cy="321.4" r="0.35"/><circle cx="47.7" cy="327.6" r="0.35"/><circle cx="45.8" cy="322.6" r="0.35"/><circle cx="41.3" cy="329.4" r="0.35"/><circle cx="39.9" cy="318.5" r="0.35"/><circle cx="47.6" cy="330.9" r="0.35"/><circle cx="38.9" cy="319.2" r="0.35"/><circle cx="48.0" cy="328.2" r="0.35"/><circle cx="35.1" cy="322.4" r="0.35"/><circle cx="36.1" cy="331.2" r="0.35"/><circle cx="37.7" cy="333.1" r="0.35"/><circle cx="46.3" cy="319.9" r="0.35"/><circle cx="45.4" cy="324.8" r="0.35"/><circle cx="46.3" cy="331.8" r="0.35"/><circle cx="38.8" cy="319.9" r="0.35"/><circle cx="49.4" cy="325.3" r="0.35"/><circle cx="49.2" cy="329.6" r="0.35"/><circle cx="46.1" cy="331.8" r="0.35"/><circle cx="44.3" cy="325.7" r="0.35"/><circle cx="35.2" cy="329.7" r="0.35"/><circle cx="41.2" cy="326.7" r="0.35"/><circle cx="49.2" cy="320.5" r="0.35"/><circle cx="46.5" cy="319.2" r="0.35"/><circle cx="45.5" cy="331.4" r="0.35"/><circle cx="38.5" cy="327.2" r="0.35"/></g>
<path d="M26.3 308.5 H66.6 V347.7" fill="none" stroke="#d4d4d4" stroke-width="0.6"/>
<path d="M26.3 308.5 V347.7 H66.6" fill="none" stroke="#a6a6a6" stroke-width="0.7"/>
<text x="19.7" y="309.8" font-size="3.9" fill="#383838" text-anchor="middle" stroke="#383838" stroke-width="0.12">10</text>
<text x="21.8" y="308.3" font-size="2.6" fill="#383838">4</text>
<text x="19.7" y="319.6" font-size="3.9" fill="#383838" text-anchor="middle" stroke="#383838" stroke-width="0.12">10</text>
<text x="21.8" y="318.1" font-size="2.6" fill="#383838">3</text>
<text x="19.7" y="329.4" font-size="3.9" fill="#383838" text-anchor="middle" stroke="#383838" stroke-width="0.12">10</text>
<text x="21.8" y="327.9" font-size="2.6" fill="#383838">2</text>
<text x="19.7" y="339.2" font-size="3.9" fill="#383838" text-anchor="middle" stroke="#383838" stroke-width="0.12">10</text>
<text x="21.8" y="337.7" font-size="2.6" fill="#383838">1</text>
<text x="19.7" y="349" font-size="3.9" fill="#383838" text-anchor="middle" stroke="#383838" stroke-width="0.12">10</text>
<text x="21.8" y="347.5" font-size="2.6" fill="#383838">0</text>
<text x="26.7" y="353.5" font-size="3.9" fill="#383838" text-anchor="middle" stroke="#383838" stroke-width="0.12">10</text>
<text x="28.8" y="352" font-size="2.6" fill="#383838">0</text>
<text x="36.7" y="353.5" font-size="3.9" fill="#383838" text-anchor="middle" stroke="#383838" stroke-width="0.12">10</text>
<text x="38.8" y="352" font-size="2.6" fill="#383838">1</text>
<text x="46.7" y="353.5" font-size="3.9" fill="#383838" text-anchor="middle" stroke="#383838" stroke-width="0.12">10</text>
<text x="48.8" y="352" font-size="2.6" fill="#383838">2</text>
<text x="56.7" y="353.5" font-size="3.9" fill="#383838" text-anchor="middle" stroke="#383838" stroke-width="0.12">10</text>
<text x="58.8" y="352" font-size="2.6" fill="#383838">3</text>
<text x="66.7" y="353.5" font-size="3.9" fill="#383838" text-anchor="middle" stroke="#383838" stroke-width="0.12">10</text>
<text x="68.8" y="352" font-size="2.6" fill="#383838">4</text>
<rect x="49.5" y="310.5" width="17.1" height="21" fill="none" stroke="#858585" stroke-width="0.45"/>
<text x="55.1" y="314.1" font-size="2.9" text-anchor="middle" fill="#555"  stroke="#555" stroke-width="0.12">Ann Pos</text>
<text x="55.1" y="317.3" font-size="2.9" text-anchor="middle" fill="#555"  stroke="#555" stroke-width="0.12">11.5</text>
<ellipse cx="60.1" cy="323" rx="0.8" ry="6.5" fill="#4f6f98" opacity="0.85" transform="rotate(0 60.1 323)" filter="url(#b05)"/>
<g fill="#8090c8" opacity="0.5"><circle cx="64.2" cy="325.8" r="0.35"/><circle cx="58.6" cy="321.4" r="0.35"/><circle cx="52.3" cy="322.6" r="0.35"/><circle cx="56.9" cy="320.8" r="0.35"/><circle cx="55.6" cy="320.1" r="0.35"/><circle cx="60.8" cy="326.2" r="0.35"/><circle cx="54.6" cy="321.3" r="0.35"/><circle cx="58.3" cy="323.6" r="0.35"/><circle cx="63.8" cy="322.5" r="0.35"/><circle cx="55.4" cy="328.7" r="0.35"/><circle cx="53.4" cy="325.0" r="0.35"/><circle cx="55.9" cy="327.9" r="0.35"/><circle cx="58.7" cy="327.2" r="0.35"/><circle cx="53.7" cy="326.2" r="0.35"/><circle cx="59.3" cy="323.8" r="0.35"/><circle cx="61.5" cy="328.1" r="0.35"/><circle cx="53.0" cy="321.8" r="0.35"/><circle cx="56.2" cy="320.9" r="0.35"/></g>
<ellipse cx="96.1" cy="325.5" rx="12" ry="4" fill="#dcdcf4" opacity="0.6" transform="rotate(-30 96.1 325.5)" filter="url(#b2)"/>
<ellipse cx="87.1" cy="334.7" rx="6" ry="13" fill="#c4cbee" opacity="0.6" transform="rotate(12 87.1 334.7)" filter="url(#b2)"/>
<ellipse cx="85.6" cy="336.7" rx="3.5" ry="11" fill="#5f86a8" opacity="0.85" transform="rotate(8 85.6 336.7)" filter="url(#b1)"/>
<ellipse cx="84.3" cy="339.7" rx="1.8" ry="5" fill="#48a878" opacity="0.9" transform="rotate(0 84.3 339.7)" filter="url(#b1)"/>
<g fill="#6f86b8" opacity="0.5"><circle cx="83.8" cy="327.9" r="0.35"/><circle cx="85.3" cy="338.9" r="0.35"/><circle cx="88.0" cy="323.5" r="0.35"/><circle cx="86.7" cy="332.8" r="0.35"/><circle cx="87.1" cy="324.9" r="0.35"/><circle cx="83.9" cy="320.8" r="0.35"/><circle cx="94.0" cy="340.2" r="0.35"/><circle cx="84.0" cy="339.3" r="0.35"/><circle cx="93.9" cy="335.3" r="0.35"/><circle cx="84.3" cy="333.3" r="0.35"/><circle cx="87.9" cy="325.5" r="0.35"/><circle cx="89.1" cy="320.7" r="0.35"/><circle cx="93.2" cy="337.4" r="0.35"/><circle cx="90.0" cy="345.0" r="0.35"/><circle cx="90.3" cy="327.1" r="0.35"/><circle cx="85.8" cy="324.1" r="0.35"/><circle cx="83.4" cy="340.8" r="0.35"/><circle cx="92.3" cy="328.3" r="0.35"/><circle cx="85.1" cy="337.2" r="0.35"/><circle cx="92.4" cy="344.8" r="0.35"/><circle cx="85.0" cy="341.1" r="0.35"/><circle cx="92.2" cy="339.9" r="0.35"/><circle cx="86.7" cy="325.3" r="0.35"/><circle cx="92.2" cy="328.9" r="0.35"/><circle cx="87.2" cy="334.9" r="0.35"/><circle cx="87.2" cy="342.3" r="0.35"/><circle cx="85.7" cy="321.6" r="0.35"/><circle cx="89.3" cy="337.0" r="0.35"/><circle cx="92.1" cy="339.0" r="0.35"/><circle cx="93.1" cy="345.3" r="0.35"/><circle cx="88.5" cy="333.6" r="0.35"/><circle cx="84.8" cy="328.3" r="0.35"/><circle cx="89.5" cy="322.6" r="0.35"/><circle cx="90.7" cy="324.8" r="0.35"/><circle cx="88.0" cy="345.9" r="0.35"/><circle cx="84.1" cy="321.5" r="0.35"/><circle cx="87.9" cy="325.5" r="0.35"/><circle cx="91.1" cy="320.6" r="0.35"/><circle cx="92.3" cy="342.9" r="0.35"/><circle cx="91.8" cy="331.6" r="0.35"/></g>
<g fill="#2f4f6f" opacity="0.55"><circle cx="84.8" cy="338.6" r="0.4"/><circle cx="86.3" cy="332.8" r="0.4"/><circle cx="85.2" cy="333.2" r="0.4"/><circle cx="87.4" cy="342.7" r="0.4"/><circle cx="89.0" cy="326.5" r="0.4"/><circle cx="84.9" cy="333.3" r="0.4"/><circle cx="86.7" cy="331.0" r="0.4"/><circle cx="84.2" cy="324.6" r="0.4"/><circle cx="85.1" cy="333.7" r="0.4"/><circle cx="89.4" cy="344.7" r="0.4"/><circle cx="88.7" cy="346.3" r="0.4"/><circle cx="89.3" cy="337.6" r="0.4"/><circle cx="88.3" cy="324.0" r="0.4"/><circle cx="87.4" cy="337.4" r="0.4"/><circle cx="84.9" cy="336.4" r="0.4"/><circle cx="89.3" cy="334.2" r="0.4"/><circle cx="87.2" cy="329.8" r="0.4"/><circle cx="85.2" cy="344.1" r="0.4"/><circle cx="83.1" cy="327.1" r="0.4"/><circle cx="87.4" cy="333.4" r="0.4"/><circle cx="83.5" cy="338.6" r="0.4"/><circle cx="85.4" cy="336.7" r="0.4"/><circle cx="85.7" cy="335.4" r="0.4"/><circle cx="86.7" cy="332.2" r="0.4"/><circle cx="83.7" cy="326.9" r="0.4"/><circle cx="88.9" cy="335.9" r="0.4"/><circle cx="83.7" cy="343.5" r="0.4"/><circle cx="84.6" cy="324.8" r="0.4"/><circle cx="86.5" cy="328.6" r="0.4"/><circle cx="86.2" cy="336.0" r="0.4"/><circle cx="84.4" cy="336.5" r="0.4"/><circle cx="83.7" cy="335.0" r="0.4"/><circle cx="86.8" cy="324.5" r="0.4"/><circle cx="85.6" cy="324.3" r="0.4"/><circle cx="85.8" cy="343.6" r="0.4"/><circle cx="86.6" cy="339.9" r="0.4"/><circle cx="88.0" cy="325.3" r="0.4"/><circle cx="89.5" cy="340.1" r="0.4"/><circle cx="83.6" cy="342.8" r="0.4"/><circle cx="85.5" cy="326.7" r="0.4"/><circle cx="89.3" cy="336.2" r="0.4"/><circle cx="88.1" cy="325.8" r="0.4"/><circle cx="88.1" cy="323.9" r="0.4"/><circle cx="84.5" cy="331.6" r="0.4"/><circle cx="83.0" cy="337.0" r="0.4"/><circle cx="84.3" cy="329.8" r="0.4"/><circle cx="87.6" cy="332.9" r="0.4"/><circle cx="88.9" cy="337.7" r="0.4"/><circle cx="88.7" cy="336.2" r="0.4"/><circle cx="89.0" cy="343.7" r="0.4"/><circle cx="84.0" cy="340.7" r="0.4"/><circle cx="85.2" cy="341.1" r="0.4"/><circle cx="87.5" cy="342.6" r="0.4"/><circle cx="83.7" cy="331.6" r="0.4"/><circle cx="87.8" cy="345.6" r="0.4"/><circle cx="87.7" cy="323.6" r="0.4"/><circle cx="86.9" cy="324.9" r="0.4"/><circle cx="86.6" cy="342.1" r="0.4"/><circle cx="83.7" cy="345.1" r="0.4"/><circle cx="87.4" cy="328.7" r="0.4"/><circle cx="84.2" cy="333.4" r="0.4"/><circle cx="88.5" cy="336.7" r="0.4"/><circle cx="83.7" cy="323.0" r="0.4"/><circle cx="83.6" cy="342.0" r="0.4"/><circle cx="84.1" cy="336.0" r="0.4"/><circle cx="84.8" cy="339.3" r="0.4"/><circle cx="85.5" cy="326.0" r="0.4"/><circle cx="88.8" cy="335.6" r="0.4"/><circle cx="87.5" cy="342.2" r="0.4"/><circle cx="89.3" cy="322.8" r="0.4"/></g>
<g fill="#a8b0e0" opacity="0.45"><circle cx="101.4" cy="318.6" r="0.35"/><circle cx="105.8" cy="328.7" r="0.35"/><circle cx="114.0" cy="317.0" r="0.35"/><circle cx="97.1" cy="328.0" r="0.35"/><circle cx="110.7" cy="322.0" r="0.35"/><circle cx="105.1" cy="318.7" r="0.35"/><circle cx="115.2" cy="322.0" r="0.35"/><circle cx="115.9" cy="325.1" r="0.35"/><circle cx="94.2" cy="321.1" r="0.35"/><circle cx="98.0" cy="329.0" r="0.35"/><circle cx="108.2" cy="317.1" r="0.35"/><circle cx="96.7" cy="321.6" r="0.35"/><circle cx="104.9" cy="324.6" r="0.35"/><circle cx="102.7" cy="321.5" r="0.35"/><circle cx="92.3" cy="324.6" r="0.35"/><circle cx="101.2" cy="316.8" r="0.35"/><circle cx="104.6" cy="330.3" r="0.35"/><circle cx="93.3" cy="318.5" r="0.35"/><circle cx="110.4" cy="320.3" r="0.35"/><circle cx="99.6" cy="323.5" r="0.35"/><circle cx="99.3" cy="324.5" r="0.35"/><circle cx="106.5" cy="329.9" r="0.35"/><circle cx="119.2" cy="317.0" r="0.35"/><circle cx="107.4" cy="327.3" r="0.35"/><circle cx="115.9" cy="327.3" r="0.35"/><circle cx="109.4" cy="325.4" r="0.35"/><circle cx="102.0" cy="320.4" r="0.35"/><circle cx="113.8" cy="328.7" r="0.35"/><circle cx="117.7" cy="326.0" r="0.35"/><circle cx="100.4" cy="327.2" r="0.35"/></g>
<g fill="#8890b0" opacity="0.5"><circle cx="101.9" cy="326.6" r="0.35"/><circle cx="100.3" cy="324.1" r="0.35"/><circle cx="98.9" cy="325.0" r="0.35"/><circle cx="91.1" cy="323.9" r="0.35"/><circle cx="95.3" cy="334.3" r="0.35"/><circle cx="97.8" cy="324.4" r="0.35"/><circle cx="94.0" cy="322.3" r="0.35"/><circle cx="95.7" cy="320.7" r="0.35"/><circle cx="90.2" cy="332.4" r="0.35"/><circle cx="97.4" cy="325.6" r="0.35"/><circle cx="99.2" cy="323.3" r="0.35"/><circle cx="92.8" cy="319.6" r="0.35"/><circle cx="94.9" cy="323.4" r="0.35"/><circle cx="101.7" cy="327.3" r="0.35"/><circle cx="105.1" cy="323.9" r="0.35"/><circle cx="104.8" cy="327.8" r="0.35"/><circle cx="91.4" cy="321.4" r="0.35"/><circle cx="99.4" cy="334.3" r="0.35"/><circle cx="95.8" cy="330.9" r="0.35"/><circle cx="97.0" cy="332.4" r="0.35"/><circle cx="91.2" cy="326.3" r="0.35"/><circle cx="104.5" cy="322.9" r="0.35"/><circle cx="94.2" cy="318.9" r="0.35"/><circle cx="92.7" cy="322.8" r="0.35"/><circle cx="101.4" cy="322.0" r="0.35"/><circle cx="96.5" cy="321.7" r="0.35"/><circle cx="99.7" cy="332.3" r="0.35"/><circle cx="100.5" cy="321.6" r="0.35"/><circle cx="101.8" cy="333.9" r="0.35"/><circle cx="99.7" cy="319.8" r="0.35"/><circle cx="103.1" cy="332.5" r="0.35"/><circle cx="95.6" cy="320.7" r="0.35"/><circle cx="93.1" cy="327.1" r="0.35"/><circle cx="104.1" cy="328.7" r="0.35"/><circle cx="104.9" cy="321.9" r="0.35"/><circle cx="95.3" cy="330.5" r="0.35"/><circle cx="100.5" cy="325.0" r="0.35"/><circle cx="101.0" cy="323.9" r="0.35"/><circle cx="91.0" cy="325.1" r="0.35"/><circle cx="90.8" cy="328.5" r="0.35"/><circle cx="95.5" cy="326.4" r="0.35"/><circle cx="99.7" cy="322.6" r="0.35"/><circle cx="97.5" cy="318.7" r="0.35"/><circle cx="104.9" cy="327.5" r="0.35"/><circle cx="105.9" cy="319.4" r="0.35"/></g>
<path d="M82.1 308.5 H122.4 V347.7" fill="none" stroke="#d4d4d4" stroke-width="0.6"/>
<path d="M82.1 308.5 V347.7 H122.4" fill="none" stroke="#a6a6a6" stroke-width="0.7"/>
<text x="75.5" y="309.8" font-size="3.9" fill="#383838" text-anchor="middle" stroke="#383838" stroke-width="0.12">10</text>
<text x="77.6" y="308.3" font-size="2.6" fill="#383838">4</text>
<text x="75.5" y="319.6" font-size="3.9" fill="#383838" text-anchor="middle" stroke="#383838" stroke-width="0.12">10</text>
<text x="77.6" y="318.1" font-size="2.6" fill="#383838">3</text>
<text x="75.5" y="329.4" font-size="3.9" fill="#383838" text-anchor="middle" stroke="#383838" stroke-width="0.12">10</text>
<text x="77.6" y="327.9" font-size="2.6" fill="#383838">2</text>
<text x="75.5" y="339.2" font-size="3.9" fill="#383838" text-anchor="middle" stroke="#383838" stroke-width="0.12">10</text>
<text x="77.6" y="337.7" font-size="2.6" fill="#383838">1</text>
<text x="75.5" y="349" font-size="3.9" fill="#383838" text-anchor="middle" stroke="#383838" stroke-width="0.12">10</text>
<text x="77.6" y="347.5" font-size="2.6" fill="#383838">0</text>
<text x="82.5" y="353.5" font-size="3.9" fill="#383838" text-anchor="middle" stroke="#383838" stroke-width="0.12">10</text>
<text x="84.6" y="352" font-size="2.6" fill="#383838">0</text>
<text x="92.5" y="353.5" font-size="3.9" fill="#383838" text-anchor="middle" stroke="#383838" stroke-width="0.12">10</text>
<text x="94.6" y="352" font-size="2.6" fill="#383838">1</text>
<text x="102.5" y="353.5" font-size="3.9" fill="#383838" text-anchor="middle" stroke="#383838" stroke-width="0.12">10</text>
<text x="104.6" y="352" font-size="2.6" fill="#383838">2</text>
<text x="112.5" y="353.5" font-size="3.9" fill="#383838" text-anchor="middle" stroke="#383838" stroke-width="0.12">10</text>
<text x="114.6" y="352" font-size="2.6" fill="#383838">3</text>
<text x="122.5" y="353.5" font-size="3.9" fill="#383838" text-anchor="middle" stroke="#383838" stroke-width="0.12">10</text>
<text x="124.6" y="352" font-size="2.6" fill="#383838">4</text>
<rect x="105.3" y="310.5" width="17.1" height="21" fill="none" stroke="#858585" stroke-width="0.45"/>
<text x="110.9" y="314.1" font-size="2.9" text-anchor="middle" fill="#555"  stroke="#555" stroke-width="0.12">Ann Pos</text>
<text x="110.9" y="317.3" font-size="2.9" text-anchor="middle" fill="#555"  stroke="#555" stroke-width="0.12">10.6</text>
<ellipse cx="115.9" cy="323" rx="0.8" ry="6.5" fill="#4f6f98" opacity="0.85" transform="rotate(0 115.9 323)" filter="url(#b05)"/>
<g fill="#8090c8" opacity="0.5"><circle cx="115.3" cy="326.8" r="0.35"/><circle cx="111.6" cy="319.6" r="0.35"/><circle cx="109.3" cy="320.1" r="0.35"/><circle cx="117.4" cy="319.5" r="0.35"/><circle cx="118.0" cy="323.4" r="0.35"/><circle cx="114.4" cy="325.3" r="0.35"/><circle cx="114.6" cy="326.1" r="0.35"/><circle cx="115.2" cy="322.3" r="0.35"/><circle cx="117.0" cy="321.5" r="0.35"/><circle cx="116.6" cy="327.3" r="0.35"/><circle cx="117.5" cy="322.1" r="0.35"/><circle cx="117.4" cy="329.7" r="0.35"/><circle cx="113.2" cy="321.7" r="0.35"/><circle cx="114.2" cy="329.3" r="0.35"/><circle cx="109.0" cy="318.6" r="0.35"/><circle cx="113.5" cy="326.0" r="0.35"/><circle cx="117.4" cy="322.7" r="0.35"/><circle cx="120.3" cy="321.1" r="0.35"/></g>
<ellipse cx="152.2" cy="325.5" rx="12" ry="4" fill="#dcdcf4" opacity="0.6" transform="rotate(-30 152.2 325.5)" filter="url(#b2)"/>
<ellipse cx="143.2" cy="334.7" rx="6" ry="13" fill="#c4cbee" opacity="0.6" transform="rotate(12 143.2 334.7)" filter="url(#b2)"/>
<ellipse cx="141.7" cy="336.7" rx="3.5" ry="11" fill="#5f86a8" opacity="0.85" transform="rotate(8 141.7 336.7)" filter="url(#b1)"/>
<ellipse cx="140.4" cy="339.7" rx="1.8" ry="5" fill="#48a878" opacity="0.9" transform="rotate(0 140.4 339.7)" filter="url(#b1)"/>
<g fill="#6f86b8" opacity="0.5"><circle cx="147.5" cy="322.9" r="0.35"/><circle cx="139.5" cy="324.0" r="0.35"/><circle cx="139.9" cy="333.6" r="0.35"/><circle cx="145.3" cy="325.3" r="0.35"/><circle cx="149.5" cy="330.1" r="0.35"/><circle cx="140.8" cy="325.1" r="0.35"/><circle cx="147.3" cy="344.6" r="0.35"/><circle cx="141.0" cy="321.3" r="0.35"/><circle cx="147.8" cy="326.9" r="0.35"/><circle cx="150.0" cy="333.6" r="0.35"/><circle cx="146.2" cy="329.5" r="0.35"/><circle cx="148.0" cy="332.6" r="0.35"/><circle cx="142.8" cy="344.2" r="0.35"/><circle cx="140.4" cy="339.7" r="0.35"/><circle cx="139.9" cy="337.4" r="0.35"/><circle cx="143.6" cy="343.1" r="0.35"/><circle cx="139.9" cy="335.3" r="0.35"/><circle cx="143.7" cy="344.6" r="0.35"/><circle cx="149.6" cy="336.9" r="0.35"/><circle cx="141.7" cy="327.1" r="0.35"/><circle cx="142.1" cy="331.9" r="0.35"/><circle cx="141.7" cy="325.8" r="0.35"/><circle cx="147.6" cy="337.3" r="0.35"/><circle cx="142.5" cy="346.6" r="0.35"/><circle cx="141.6" cy="335.4" r="0.35"/><circle cx="140.9" cy="343.1" r="0.35"/><circle cx="148.8" cy="327.5" r="0.35"/><circle cx="147.5" cy="342.1" r="0.35"/><circle cx="142.3" cy="329.2" r="0.35"/><circle cx="144.5" cy="343.8" r="0.35"/><circle cx="141.0" cy="338.4" r="0.35"/><circle cx="145.8" cy="332.4" r="0.35"/><circle cx="145.6" cy="343.6" r="0.35"/><circle cx="141.5" cy="343.6" r="0.35"/><circle cx="143.2" cy="340.9" r="0.35"/><circle cx="148.7" cy="325.3" r="0.35"/><circle cx="148.7" cy="346.6" r="0.35"/><circle cx="142.5" cy="321.1" r="0.35"/><circle cx="140.4" cy="346.0" r="0.35"/><circle cx="139.3" cy="344.4" r="0.35"/></g>
<g fill="#2f4f6f" opacity="0.55"><circle cx="140.0" cy="340.5" r="0.4"/><circle cx="139.7" cy="326.6" r="0.4"/><circle cx="143.6" cy="324.7" r="0.4"/><circle cx="141.3" cy="344.9" r="0.4"/><circle cx="143.8" cy="344.0" r="0.4"/><circle cx="145.6" cy="323.3" r="0.4"/><circle cx="140.6" cy="341.8" r="0.4"/><circle cx="143.6" cy="323.4" r="0.4"/><circle cx="142.4" cy="328.2" r="0.4"/><circle cx="141.9" cy="325.1" r="0.4"/><circle cx="139.1" cy="346.7" r="0.4"/><circle cx="141.1" cy="343.9" r="0.4"/><circle cx="139.8" cy="334.4" r="0.4"/><circle cx="139.9" cy="333.0" r="0.4"/><circle cx="140.2" cy="339.2" r="0.4"/><circle cx="140.0" cy="340.5" r="0.4"/><circle cx="142.4" cy="325.2" r="0.4"/><circle cx="141.4" cy="334.6" r="0.4"/><circle cx="145.2" cy="331.0" r="0.4"/><circle cx="140.4" cy="346.1" r="0.4"/><circle cx="144.9" cy="340.3" r="0.4"/><circle cx="140.8" cy="326.8" r="0.4"/><circle cx="140.8" cy="324.2" r="0.4"/><circle cx="139.3" cy="334.9" r="0.4"/><circle cx="141.7" cy="336.1" r="0.4"/><circle cx="141.4" cy="322.8" r="0.4"/><circle cx="143.6" cy="338.4" r="0.4"/><circle cx="142.6" cy="335.9" r="0.4"/><circle cx="143.6" cy="346.5" r="0.4"/><circle cx="144.9" cy="340.0" r="0.4"/><circle cx="141.7" cy="330.3" r="0.4"/><circle cx="141.8" cy="346.2" r="0.4"/><circle cx="141.6" cy="331.9" r="0.4"/><circle cx="141.7" cy="326.0" r="0.4"/><circle cx="145.7" cy="322.6" r="0.4"/><circle cx="143.1" cy="345.1" r="0.4"/><circle cx="140.7" cy="337.4" r="0.4"/><circle cx="141.5" cy="328.4" r="0.4"/><circle cx="140.3" cy="325.3" r="0.4"/><circle cx="144.6" cy="341.6" r="0.4"/><circle cx="145.1" cy="323.7" r="0.4"/><circle cx="143.7" cy="330.4" r="0.4"/><circle cx="143.3" cy="335.9" r="0.4"/><circle cx="141.1" cy="346.2" r="0.4"/><circle cx="139.0" cy="340.7" r="0.4"/><circle cx="144.7" cy="334.9" r="0.4"/><circle cx="143.0" cy="346.8" r="0.4"/><circle cx="140.6" cy="337.9" r="0.4"/><circle cx="144.0" cy="331.7" r="0.4"/><circle cx="143.8" cy="332.1" r="0.4"/><circle cx="142.5" cy="337.5" r="0.4"/><circle cx="143.5" cy="330.4" r="0.4"/><circle cx="143.2" cy="335.8" r="0.4"/><circle cx="140.5" cy="337.4" r="0.4"/><circle cx="140.8" cy="344.7" r="0.4"/><circle cx="142.2" cy="340.1" r="0.4"/><circle cx="142.5" cy="334.1" r="0.4"/><circle cx="140.5" cy="326.0" r="0.4"/><circle cx="145.2" cy="335.4" r="0.4"/><circle cx="142.5" cy="335.4" r="0.4"/><circle cx="144.4" cy="328.3" r="0.4"/><circle cx="140.2" cy="342.6" r="0.4"/><circle cx="142.1" cy="338.1" r="0.4"/><circle cx="144.5" cy="344.3" r="0.4"/><circle cx="144.8" cy="323.6" r="0.4"/><circle cx="141.6" cy="342.8" r="0.4"/><circle cx="144.5" cy="325.5" r="0.4"/><circle cx="140.0" cy="328.6" r="0.4"/><circle cx="139.7" cy="331.2" r="0.4"/><circle cx="144.4" cy="335.2" r="0.4"/></g>
<g fill="#a8b0e0" opacity="0.45"><circle cx="160.6" cy="317.7" r="0.35"/><circle cx="159.0" cy="330.5" r="0.35"/><circle cx="167.2" cy="322.8" r="0.35"/><circle cx="161.3" cy="327.7" r="0.35"/><circle cx="168.9" cy="318.6" r="0.35"/><circle cx="166.8" cy="321.6" r="0.35"/><circle cx="162.4" cy="319.8" r="0.35"/><circle cx="158.3" cy="321.3" r="0.35"/><circle cx="158.6" cy="316.7" r="0.35"/><circle cx="153.7" cy="324.5" r="0.35"/><circle cx="149.8" cy="319.0" r="0.35"/><circle cx="167.8" cy="320.3" r="0.35"/><circle cx="157.0" cy="319.9" r="0.35"/><circle cx="171.0" cy="317.8" r="0.35"/><circle cx="165.6" cy="328.5" r="0.35"/><circle cx="153.7" cy="322.4" r="0.35"/><circle cx="169.8" cy="325.2" r="0.35"/><circle cx="158.3" cy="317.1" r="0.35"/><circle cx="160.3" cy="321.6" r="0.35"/><circle cx="167.7" cy="320.6" r="0.35"/><circle cx="159.3" cy="325.6" r="0.35"/><circle cx="170.3" cy="321.4" r="0.35"/><circle cx="158.7" cy="324.6" r="0.35"/><circle cx="173.4" cy="319.2" r="0.35"/><circle cx="174.7" cy="326.5" r="0.35"/><circle cx="158.4" cy="325.8" r="0.35"/><circle cx="157.2" cy="317.5" r="0.35"/><circle cx="168.8" cy="321.8" r="0.35"/><circle cx="162.6" cy="323.5" r="0.35"/><circle cx="172.8" cy="327.1" r="0.35"/></g>
<g fill="#8890b0" opacity="0.5"><circle cx="146.6" cy="328.0" r="0.35"/><circle cx="153.6" cy="325.9" r="0.35"/><circle cx="159.6" cy="325.1" r="0.35"/><circle cx="153.8" cy="332.7" r="0.35"/><circle cx="153.2" cy="326.4" r="0.35"/><circle cx="154.4" cy="331.7" r="0.35"/><circle cx="156.9" cy="330.3" r="0.35"/><circle cx="152.6" cy="319.1" r="0.35"/><circle cx="157.1" cy="327.4" r="0.35"/><circle cx="158.5" cy="330.8" r="0.35"/><circle cx="148.1" cy="322.0" r="0.35"/><circle cx="147.4" cy="331.6" r="0.35"/><circle cx="147.8" cy="319.9" r="0.35"/><circle cx="158.3" cy="327.5" r="0.35"/><circle cx="147.1" cy="329.4" r="0.35"/><circle cx="157.6" cy="326.2" r="0.35"/><circle cx="147.1" cy="329.6" r="0.35"/><circle cx="152.9" cy="327.8" r="0.35"/><circle cx="162.2" cy="331.6" r="0.35"/><circle cx="160.2" cy="320.8" r="0.35"/><circle cx="151.5" cy="326.8" r="0.35"/><circle cx="146.3" cy="334.3" r="0.35"/><circle cx="150.6" cy="322.7" r="0.35"/><circle cx="151.2" cy="322.6" r="0.35"/><circle cx="159.9" cy="327.4" r="0.35"/><circle cx="154.4" cy="325.2" r="0.35"/><circle cx="147.0" cy="323.4" r="0.35"/><circle cx="160.1" cy="331.3" r="0.35"/><circle cx="159.9" cy="322.6" r="0.35"/><circle cx="149.4" cy="319.3" r="0.35"/><circle cx="154.8" cy="324.5" r="0.35"/><circle cx="153.6" cy="326.3" r="0.35"/><circle cx="155.5" cy="324.4" r="0.35"/><circle cx="159.0" cy="321.7" r="0.35"/><circle cx="160.9" cy="327.4" r="0.35"/><circle cx="147.0" cy="323.5" r="0.35"/><circle cx="154.7" cy="325.0" r="0.35"/><circle cx="155.2" cy="323.7" r="0.35"/><circle cx="150.6" cy="331.2" r="0.35"/><circle cx="150.9" cy="329.9" r="0.35"/><circle cx="159.0" cy="328.0" r="0.35"/><circle cx="153.5" cy="333.5" r="0.35"/><circle cx="153.3" cy="332.5" r="0.35"/><circle cx="147.1" cy="325.4" r="0.35"/><circle cx="156.4" cy="319.3" r="0.35"/></g>
<path d="M138.2 308.5 H178.5 V347.7" fill="none" stroke="#d4d4d4" stroke-width="0.6"/>
<path d="M138.2 308.5 V347.7 H178.5" fill="none" stroke="#a6a6a6" stroke-width="0.7"/>
<text x="131.6" y="309.8" font-size="3.9" fill="#383838" text-anchor="middle" stroke="#383838" stroke-width="0.12">10</text>
<text x="133.7" y="308.3" font-size="2.6" fill="#383838">4</text>
<text x="131.6" y="319.6" font-size="3.9" fill="#383838" text-anchor="middle" stroke="#383838" stroke-width="0.12">10</text>
<text x="133.7" y="318.1" font-size="2.6" fill="#383838">3</text>
<text x="131.6" y="329.4" font-size="3.9" fill="#383838" text-anchor="middle" stroke="#383838" stroke-width="0.12">10</text>
<text x="133.7" y="327.9" font-size="2.6" fill="#383838">2</text>
<text x="131.6" y="339.2" font-size="3.9" fill="#383838" text-anchor="middle" stroke="#383838" stroke-width="0.12">10</text>
<text x="133.7" y="337.7" font-size="2.6" fill="#383838">1</text>
<text x="131.6" y="349" font-size="3.9" fill="#383838" text-anchor="middle" stroke="#383838" stroke-width="0.12">10</text>
<text x="133.7" y="347.5" font-size="2.6" fill="#383838">0</text>
<text x="138.6" y="353.5" font-size="3.9" fill="#383838" text-anchor="middle" stroke="#383838" stroke-width="0.12">10</text>
<text x="140.7" y="352" font-size="2.6" fill="#383838">0</text>
<text x="148.6" y="353.5" font-size="3.9" fill="#383838" text-anchor="middle" stroke="#383838" stroke-width="0.12">10</text>
<text x="150.7" y="352" font-size="2.6" fill="#383838">1</text>
<text x="158.6" y="353.5" font-size="3.9" fill="#383838" text-anchor="middle" stroke="#383838" stroke-width="0.12">10</text>
<text x="160.7" y="352" font-size="2.6" fill="#383838">2</text>
<text x="168.6" y="353.5" font-size="3.9" fill="#383838" text-anchor="middle" stroke="#383838" stroke-width="0.12">10</text>
<text x="170.7" y="352" font-size="2.6" fill="#383838">3</text>
<text x="178.6" y="353.5" font-size="3.9" fill="#383838" text-anchor="middle" stroke="#383838" stroke-width="0.12">10</text>
<text x="180.7" y="352" font-size="2.6" fill="#383838">4</text>
<rect x="161.4" y="310.5" width="17.1" height="21" fill="none" stroke="#858585" stroke-width="0.45"/>
<text x="167" y="314.1" font-size="2.9" text-anchor="middle" fill="#555"  stroke="#555" stroke-width="0.12">Ann Pos</text>
<text x="167" y="317.3" font-size="2.9" text-anchor="middle" fill="#555"  stroke="#555" stroke-width="0.12">9.89</text>
<ellipse cx="172" cy="323" rx="0.8" ry="6.5" fill="#4f6f98" opacity="0.85" transform="rotate(0 172 323)" filter="url(#b05)"/>
<g fill="#8090c8" opacity="0.5"><circle cx="174.7" cy="319.3" r="0.35"/><circle cx="171.2" cy="320.6" r="0.35"/><circle cx="175.5" cy="325.0" r="0.35"/><circle cx="173.9" cy="324.2" r="0.35"/><circle cx="172.2" cy="326.3" r="0.35"/><circle cx="167.3" cy="320.9" r="0.35"/><circle cx="174.4" cy="320.2" r="0.35"/><circle cx="175.4" cy="320.9" r="0.35"/><circle cx="164.7" cy="319.6" r="0.35"/><circle cx="173.7" cy="329.4" r="0.35"/><circle cx="168.8" cy="326.1" r="0.35"/><circle cx="166.8" cy="328.9" r="0.35"/><circle cx="172.4" cy="320.3" r="0.35"/><circle cx="164.1" cy="326.5" r="0.35"/><circle cx="163.9" cy="328.1" r="0.35"/><circle cx="167.2" cy="321.2" r="0.35"/><circle cx="171.0" cy="322.2" r="0.35"/><circle cx="170.7" cy="320.3" r="0.35"/></g>
<path d="M9.7 328.6 V276" stroke="#111" stroke-width="0.95"/>
<path d="M7.8 277.4 L9.7 272.9 L11.6 277.4 Z" fill="#111"/>
<text transform="translate(11.6,340.6) rotate(-90)" font-size="5" text-anchor="middle" fill="#222" textLength="17.4" lengthAdjust="spacingAndGlyphs" stroke="#222" stroke-width="0.32">Annexin V</text>
<text x="29.2" y="362.8" font-size="5" text-anchor="start" fill="#222"  stroke="#222" stroke-width="0.20">PI</text>
<path d="M36 361.1 H148" stroke="#111" stroke-width="0.95"/>
<path d="M146.5 359.2 L151.3 361.1 L146.5 363 Z" fill="#111"/>
<text transform="translate(182.5,275.3) rotate(90)" font-size="5.8" text-anchor="middle" fill="#222" stroke="#222" stroke-width="0.32">WT</text>
<text transform="translate(182.5,321.6) rotate(90)" font-size="5.8" fill="#222" stroke="#222" stroke-width="0.32">Fas<tspan font-size="4" dy="-2.2">lpr</tspan></text>
<rect x="226" y="32.89" width="11.1" height="53.51" fill="#82a4c2" />
<line x1="231.55" y1="30" x2="231.55" y2="35.78" stroke="#2c5c8c" stroke-width="0.8"/>
<line x1="229.75" y1="30" x2="233.35" y2="30" stroke="#2c5c8c" stroke-width="0.8"/>
<circle cx="229.35" cy="33.53" r="1" fill="#2c5c8c"/>
<circle cx="233.55" cy="33.85" r="1" fill="#2c5c8c"/>
<circle cx="231.55" cy="35.14" r="1" fill="#2c5c8c"/>
<circle cx="231.95" cy="31.44" r="1" fill="#2c5c8c"/>
<rect x="244.1" y="46.11" width="11.7" height="40.29" fill="#e4848f" />
<line x1="249.95" y1="43.39" x2="249.95" y2="48.84" stroke="#b42440" stroke-width="0.8"/>
<line x1="248.15" y1="43.39" x2="251.75" y2="43.39" stroke="#b42440" stroke-width="0.8"/>
<circle cx="247.75" cy="46.76" r="1" fill="#b42440"/>
<circle cx="251.95" cy="47.08" r="1" fill="#b42440"/>
<circle cx="249.95" cy="48.36" r="1" fill="#b42440"/>
<circle cx="250.35" cy="44.67" r="1" fill="#b42440"/>
<line x1="219.4" y1="19.3" x2="219.4" y2="87" stroke="#111" stroke-width="1.3"/>
<line x1="218.8" y1="86.4" x2="262.6" y2="86.4" stroke="#111" stroke-width="1.3"/>
<line x1="216.3" y1="86.4" x2="219.4" y2="86.4" stroke="#111" stroke-width="0.8"/>
<text x="213.4" y="88.5" font-size="5.9" text-anchor="end" fill="#2a2a2a"  stroke="#2a2a2a" stroke-width="0.20">0</text>
<line x1="216.3" y1="70.35" x2="219.4" y2="70.35" stroke="#111" stroke-width="0.8"/>
<text x="213.4" y="72.45" font-size="5.9" text-anchor="end" fill="#2a2a2a"  stroke="#2a2a2a" stroke-width="0.20">5</text>
<line x1="216.3" y1="54.3" x2="219.4" y2="54.3" stroke="#111" stroke-width="0.8"/>
<text x="213.4" y="56.4" font-size="5.9" text-anchor="end" fill="#2a2a2a"  stroke="#2a2a2a" stroke-width="0.20">10</text>
<line x1="216.3" y1="38.25" x2="219.4" y2="38.25" stroke="#111" stroke-width="0.8"/>
<text x="213.4" y="40.35" font-size="5.9" text-anchor="end" fill="#2a2a2a"  stroke="#2a2a2a" stroke-width="0.20">15</text>
<line x1="216.3" y1="22.2" x2="219.4" y2="22.2" stroke="#111" stroke-width="0.8"/>
<text x="213.4" y="24.3" font-size="5.9" text-anchor="end" fill="#2a2a2a"  stroke="#2a2a2a" stroke-width="0.20">20</text>
<text x="226.9" y="24" font-size="5.9" fill="#2a2a2a" font-style="italic" class="b" stroke="#2a2a2a" stroke-width="0.20">P</text>
<path d="M232.9 21.15 H236.5 M232.9 22.85 H236.5" stroke="#2a2a2a" stroke-width="0.6"/>
<text x="238.9" y="24" font-size="5.9" fill="#2a2a2a" letter-spacing="0.15" class="b" stroke="#2a2a2a" stroke-width="0.20">.0051</text>
<line x1="231.4" y1="26.8" x2="250.1" y2="26.8" stroke="#333" stroke-width="1.1"/>
<text transform="translate(201.8,52.1) rotate(-90)" font-size="5.9" text-anchor="middle" fill="#222" stroke="#222" stroke-width="0.32">% Cell death</text>
<circle cx="266.2" cy="22.8" r="0.9" fill="#222"/>
<text x="269.8" y="24.8" font-size="5.9" text-anchor="start" fill="#2a2a2a"  stroke="#2a2a2a" stroke-width="0.20">WT</text>
<circle cx="266.2" cy="32.2" r="0.9" fill="#a02038"/>
<text x="270.1" y="33.8" font-size="5.9" fill="#2a2a2a" font-style="italic" stroke="#2a2a2a" stroke-width="0.20">Fas<tspan font-size="3.66" dy="-2.4">lpr</tspan></text>
<rect x="334.1" y="40.3" width="11.1" height="46.2" fill="#82a4c2" />
<line x1="339.65" y1="37.73" x2="339.65" y2="42.87" stroke="#2c5c8c" stroke-width="0.8"/>
<line x1="337.85" y1="37.73" x2="341.45" y2="37.73" stroke="#2c5c8c" stroke-width="0.8"/>
<circle cx="337.45" cy="40.94" r="1" fill="#2c5c8c"/>
<circle cx="341.65" cy="41.26" r="1" fill="#2c5c8c"/>
<circle cx="339.65" cy="42.55" r="1" fill="#2c5c8c"/>
<circle cx="340.05" cy="38.85" r="1" fill="#2c5c8c"/>
<rect x="352.1" y="53.51" width="11.6" height="32.99" fill="#e4848f" />
<line x1="357.9" y1="51.26" x2="357.9" y2="55.76" stroke="#b42440" stroke-width="0.8"/>
<line x1="356.1" y1="51.26" x2="359.7" y2="51.26" stroke="#b42440" stroke-width="0.8"/>
<circle cx="355.7" cy="54.16" r="1" fill="#b42440"/>
<circle cx="359.9" cy="54.48" r="1" fill="#b42440"/>
<circle cx="357.9" cy="55.76" r="1" fill="#b42440"/>
<circle cx="358.3" cy="52.07" r="1" fill="#b42440"/>
<line x1="327.2" y1="19.3" x2="327.2" y2="87.1" stroke="#111" stroke-width="1.3"/>
<line x1="326.6" y1="86.5" x2="369.9" y2="86.5" stroke="#111" stroke-width="1.3"/>
<line x1="324.1" y1="86.5" x2="327.2" y2="86.5" stroke="#111" stroke-width="0.8"/>
<text x="321.2" y="88.6" font-size="5.9" text-anchor="end" fill="#2a2a2a"  stroke="#2a2a2a" stroke-width="0.20">0</text>
<line x1="324.1" y1="70.42" x2="327.2" y2="70.42" stroke="#111" stroke-width="0.8"/>
<text x="321.2" y="72.52" font-size="5.9" text-anchor="end" fill="#2a2a2a"  stroke="#2a2a2a" stroke-width="0.20">5</text>
<line x1="324.1" y1="54.35" x2="327.2" y2="54.35" stroke="#111" stroke-width="0.8"/>
<text x="321.2" y="56.45" font-size="5.9" text-anchor="end" fill="#2a2a2a"  stroke="#2a2a2a" stroke-width="0.20">10</text>
<line x1="324.1" y1="38.28" x2="327.2" y2="38.28" stroke="#111" stroke-width="0.8"/>
<text x="321.2" y="40.38" font-size="5.9" text-anchor="end" fill="#2a2a2a"  stroke="#2a2a2a" stroke-width="0.20">15</text>
<line x1="324.1" y1="22.2" x2="327.2" y2="22.2" stroke="#111" stroke-width="0.8"/>
<text x="321.2" y="24.3" font-size="5.9" text-anchor="end" fill="#2a2a2a"  stroke="#2a2a2a" stroke-width="0.20">20</text>
<text x="335.2" y="32" font-size="5.9" fill="#2a2a2a" font-style="italic" class="b" stroke="#2a2a2a" stroke-width="0.20">P</text>
<path d="M341.2 29.15 H344.8 M341.2 30.85 H344.8" stroke="#2a2a2a" stroke-width="0.6"/>
<text x="347.2" y="32" font-size="5.9" fill="#2a2a2a" letter-spacing="0.15" class="b" stroke="#2a2a2a" stroke-width="0.20">.0048</text>
<line x1="339.9" y1="35.2" x2="358.1" y2="35.2" stroke="#333" stroke-width="1.1"/>
<text transform="translate(309.7,51) rotate(-90)" font-size="6" text-anchor="middle" fill="#222" stroke="#222" stroke-width="0.32">% Apoptotic cell death</text>
<circle cx="374.2" cy="22.8" r="0.9" fill="#222"/>
<text x="377.8" y="24.8" font-size="5.9" text-anchor="start" fill="#2a2a2a"  stroke="#2a2a2a" stroke-width="0.20">WT</text>
<circle cx="374.2" cy="32.2" r="0.9" fill="#a02038"/>
<text x="378.1" y="33.8" font-size="5.9" fill="#2a2a2a" font-style="italic" stroke="#2a2a2a" stroke-width="0.20">Fas<tspan font-size="3.66" dy="-2.4">lpr</tspan></text>
<text x="361.6" y="123.8" font-size="7.4" text-anchor="middle" fill="#1a1a1a"  stroke="#1a1a1a" stroke-width="0.20">Thymus</text>
<line x1="209.2" y1="128.7" x2="513.2" y2="128.7" stroke="#333" stroke-width="1"/>
<text x="361.5" y="204.2" font-size="7.4" text-anchor="middle" fill="#1a1a1a"  stroke="#1a1a1a" stroke-width="0.20">Lymph node</text>
<line x1="209.2" y1="209.4" x2="513.2" y2="209.4" stroke="#333" stroke-width="1"/>
<text x="361.5" y="284.6" font-size="7.4" text-anchor="middle" fill="#1a1a1a"  stroke="#1a1a1a" stroke-width="0.20">Spleen</text>
<line x1="209.2" y1="289.6" x2="513.2" y2="289.6" stroke="#333" stroke-width="1"/>
<rect x="234.6" y="153.72" width="8.2" height="32.98" fill="#82a4c2" />
<line x1="238.7" y1="152.66" x2="238.7" y2="154.79" stroke="#2c5c8c" stroke-width="0.8"/>
<line x1="236.7" y1="152.66" x2="240.7" y2="152.66" stroke="#2c5c8c" stroke-width="1.0"/>
<line x1="237.1" y1="154.79" x2="240.3" y2="154.79" stroke="#2c5c8c" stroke-width="0.7"/>
<circle cx="237.5" cy="152.98" r="0.85" fill="#2c5c8c"/>
<circle cx="239.7" cy="153.67" r="0.85" fill="#2c5c8c"/>
<circle cx="238.7" cy="154.26" r="0.85" fill="#2c5c8c"/>
<rect x="247.8" y="159.53" width="8.3" height="27.17" fill="#e4848f" />
<line x1="251.95" y1="153.11" x2="251.95" y2="165.94" stroke="#b42440" stroke-width="0.8"/>
<line x1="249.95" y1="153.11" x2="253.95" y2="153.11" stroke="#b42440" stroke-width="1.0"/>
<line x1="250.35" y1="165.94" x2="253.55" y2="165.94" stroke="#b42440" stroke-width="0.7"/>
<circle cx="250.75" cy="155.04" r="0.85" fill="#b42440"/>
<circle cx="252.95" cy="159.2" r="0.85" fill="#b42440"/>
<circle cx="251.95" cy="162.73" r="0.85" fill="#b42440"/>
<line x1="229.9" y1="138.5" x2="229.9" y2="187.3" stroke="#222" stroke-width="1.3"/>
<line x1="229.3" y1="186.7" x2="260.9" y2="186.7" stroke="#222" stroke-width="1.3"/>
<line x1="227.1" y1="186.7" x2="229.9" y2="186.7" stroke="#222" stroke-width="0.8"/>
<text x="223.6" y="188.6" font-size="5.3" text-anchor="end" fill="#2a2a2a"  stroke="#2a2a2a" stroke-width="0.20">0</text>
<line x1="227.1" y1="171.43" x2="229.9" y2="171.43" stroke="#222" stroke-width="0.8"/>
<text x="223.6" y="173.33" font-size="5.3" text-anchor="end" fill="#2a2a2a"  stroke="#2a2a2a" stroke-width="0.20">5</text>
<line x1="227.1" y1="156.17" x2="229.9" y2="156.17" stroke="#222" stroke-width="0.8"/>
<text x="223.6" y="158.07" font-size="5.3" text-anchor="end" fill="#2a2a2a"  stroke="#2a2a2a" stroke-width="0.20">10</text>
<line x1="227.1" y1="140.9" x2="229.9" y2="140.9" stroke="#222" stroke-width="0.8"/>
<text x="223.6" y="142.8" font-size="5.3" text-anchor="end" fill="#2a2a2a"  stroke="#2a2a2a" stroke-width="0.20">15</text>
<text x="232" y="145.8" font-size="5.6" fill="#2a2a2a" font-style="italic" class="b" stroke="#2a2a2a" stroke-width="0.20">P</text>
<path d="M238 142.95 H241.6 M238 144.65 H241.6" stroke="#2a2a2a" stroke-width="0.6"/>
<text x="242.9" y="145.8" font-size="5.6" fill="#2a2a2a" letter-spacing="0.75" class="b" stroke="#2a2a2a" stroke-width="0.20">.1404</text>
<path d="M238.7 151.06 V148.1 H251.95 V151.51" fill="none" stroke="#444" stroke-width="0.7"/>
<text transform="translate(212,162.4) rotate(-90)" font-size="5.6" text-anchor="middle" fill="#222" stroke="#222" stroke-width="0.32">% CD11b<tspan font-size="3.8" dy="-1.9">+</tspan><tspan dy="1.9"> </tspan>cells</text>
<rect x="297.6" y="182.12" width="8.2" height="4.58" fill="#82a4c2" />
<line x1="301.7" y1="179.49" x2="301.7" y2="184.75" stroke="#2c5c8c" stroke-width="0.8"/>
<line x1="299.7" y1="179.49" x2="303.7" y2="179.49" stroke="#2c5c8c" stroke-width="1.0"/>
<line x1="300.1" y1="184.75" x2="303.3" y2="184.75" stroke="#2c5c8c" stroke-width="0.7"/>
<circle cx="300.5" cy="180.28" r="0.85" fill="#2c5c8c"/>
<circle cx="302.7" cy="181.99" r="0.85" fill="#2c5c8c"/>
<circle cx="301.7" cy="183.44" r="0.85" fill="#2c5c8c"/>
<rect x="310.8" y="162.08" width="8.3" height="24.62" fill="#e4848f" />
<line x1="314.95" y1="147.2" x2="314.95" y2="176.97" stroke="#b42440" stroke-width="0.8"/>
<line x1="312.95" y1="147.2" x2="316.95" y2="147.2" stroke="#b42440" stroke-width="1.0"/>
<line x1="313.35" y1="176.97" x2="316.55" y2="176.97" stroke="#b42440" stroke-width="0.7"/>
<circle cx="313.75" cy="151.66" r="0.85" fill="#b42440"/>
<circle cx="315.95" cy="161.34" r="0.85" fill="#b42440"/>
<circle cx="314.95" cy="169.53" r="0.85" fill="#b42440"/>
<line x1="292.9" y1="138.5" x2="292.9" y2="187.3" stroke="#222" stroke-width="1.3"/>
<line x1="292.3" y1="186.7" x2="323.9" y2="186.7" stroke="#222" stroke-width="1.3"/>
<line x1="290.1" y1="186.7" x2="292.9" y2="186.7" stroke="#222" stroke-width="0.8"/>
<text x="286.6" y="188.6" font-size="5.3" text-anchor="end" fill="#2a2a2a"  stroke="#2a2a2a" stroke-width="0.20">0</text>
<line x1="290.1" y1="175.25" x2="292.9" y2="175.25" stroke="#222" stroke-width="0.8"/>
<text x="286.6" y="177.15" font-size="5.3" text-anchor="end" fill="#2a2a2a"  stroke="#2a2a2a" stroke-width="0.20">1</text>
<line x1="290.1" y1="163.8" x2="292.9" y2="163.8" stroke="#222" stroke-width="0.8"/>
<text x="286.6" y="165.7" font-size="5.3" text-anchor="end" fill="#2a2a2a"  stroke="#2a2a2a" stroke-width="0.20">2</text>
<line x1="290.1" y1="152.35" x2="292.9" y2="152.35" stroke="#222" stroke-width="0.8"/>
<text x="286.6" y="154.25" font-size="5.3" text-anchor="end" fill="#2a2a2a"  stroke="#2a2a2a" stroke-width="0.20">3</text>
<line x1="290.1" y1="140.9" x2="292.9" y2="140.9" stroke="#222" stroke-width="0.8"/>
<text x="286.6" y="142.8" font-size="5.3" text-anchor="end" fill="#2a2a2a"  stroke="#2a2a2a" stroke-width="0.20">4</text>
<text x="295" y="140.7" font-size="5.6" fill="#2a2a2a" font-style="italic" class="b" stroke="#2a2a2a" stroke-width="0.20">P</text>
<path d="M301 137.85 H304.6 M301 139.55 H304.6" stroke="#2a2a2a" stroke-width="0.6"/>
<text x="305.9" y="140.7" font-size="5.6" fill="#2a2a2a" letter-spacing="0.75" class="b" stroke="#2a2a2a" stroke-width="0.20">.0547</text>
<path d="M301.7 177.89 V142.9 H314.95 V145.6" fill="none" stroke="#444" stroke-width="0.7"/>
<text transform="translate(277.8,159.2) rotate(-90)" font-size="5.6" text-anchor="middle" fill="#222" stroke="#222" stroke-width="0.32">% &#947;&#948;TCR<tspan font-size="3.8" dy="-1.9">+</tspan><tspan dy="1.9"> </tspan>cells</text>
<rect x="359.1" y="153.72" width="8.2" height="32.98" fill="#82a4c2" />
<line x1="363.2" y1="143.5" x2="363.2" y2="163.95" stroke="#2c5c8c" stroke-width="0.8"/>
<line x1="361.2" y1="143.5" x2="365.2" y2="143.5" stroke="#2c5c8c" stroke-width="1.0"/>
<line x1="361.6" y1="163.95" x2="364.8" y2="163.95" stroke="#2c5c8c" stroke-width="0.7"/>
<circle cx="362" cy="146.56" r="0.85" fill="#2c5c8c"/>
<circle cx="364.2" cy="153.21" r="0.85" fill="#2c5c8c"/>
<circle cx="363.2" cy="158.84" r="0.85" fill="#2c5c8c"/>
<rect x="372.3" y="166.55" width="8.3" height="20.15" fill="#e4848f" />
<line x1="376.45" y1="157.39" x2="376.45" y2="175.71" stroke="#b42440" stroke-width="0.8"/>
<line x1="374.45" y1="157.39" x2="378.45" y2="157.39" stroke="#b42440" stroke-width="1.0"/>
<line x1="374.85" y1="175.71" x2="378.05" y2="175.71" stroke="#b42440" stroke-width="0.7"/>
<circle cx="375.25" cy="160.14" r="0.85" fill="#b42440"/>
<circle cx="377.45" cy="166.09" r="0.85" fill="#b42440"/>
<circle cx="376.45" cy="171.13" r="0.85" fill="#b42440"/>
<line x1="354.4" y1="138.5" x2="354.4" y2="187.3" stroke="#222" stroke-width="1.3"/>
<line x1="353.8" y1="186.7" x2="385.4" y2="186.7" stroke="#222" stroke-width="1.3"/>
<line x1="351.6" y1="186.7" x2="354.4" y2="186.7" stroke="#222" stroke-width="0.8"/>
<text x="348.1" y="188.6" font-size="5.3" text-anchor="end" fill="#2a2a2a"  stroke="#2a2a2a" stroke-width="0.20">0</text>
<line x1="351.6" y1="171.43" x2="354.4" y2="171.43" stroke="#222" stroke-width="0.8"/>
<text x="348.1" y="173.33" font-size="5.3" text-anchor="end" fill="#2a2a2a"  stroke="#2a2a2a" stroke-width="0.20">10</text>
<line x1="351.6" y1="156.17" x2="354.4" y2="156.17" stroke="#222" stroke-width="0.8"/>
<text x="348.1" y="158.07" font-size="5.3" text-anchor="end" fill="#2a2a2a"  stroke="#2a2a2a" stroke-width="0.20">20</text>
<line x1="351.6" y1="140.9" x2="354.4" y2="140.9" stroke="#222" stroke-width="0.8"/>
<text x="348.1" y="142.8" font-size="5.3" text-anchor="end" fill="#2a2a2a"  stroke="#2a2a2a" stroke-width="0.20">30</text>
<text x="356.5" y="135.8" font-size="5.6" fill="#2a2a2a" font-style="italic" class="b" stroke="#2a2a2a" stroke-width="0.20">P</text>
<path d="M362.5 132.95 H366.1 M362.5 134.65 H366.1" stroke="#2a2a2a" stroke-width="0.6"/>
<text x="367.4" y="135.8" font-size="5.6" fill="#2a2a2a" letter-spacing="0.75" class="b" stroke="#2a2a2a" stroke-width="0.20">.1768</text>
<path d="M363.2 141.9 V138.4 H376.45 V155.79" fill="none" stroke="#444" stroke-width="0.7"/>
<text transform="translate(336.1,162.8) rotate(-90)" font-size="5.6" text-anchor="middle" fill="#222" stroke="#222" stroke-width="0.32">% CD4<tspan font-size="3.8" dy="-1.9">+</tspan><tspan dy="1.9"> </tspan>cells</text>
<rect x="421.6" y="172.47" width="8.2" height="14.23" fill="#82a4c2" />
<line x1="425.7" y1="166.06" x2="425.7" y2="178.88" stroke="#2c5c8c" stroke-width="0.8"/>
<line x1="423.7" y1="166.06" x2="427.7" y2="166.06" stroke="#2c5c8c" stroke-width="1.0"/>
<line x1="424.1" y1="178.88" x2="427.3" y2="178.88" stroke="#2c5c8c" stroke-width="0.7"/>
<circle cx="424.5" cy="167.98" r="0.85" fill="#2c5c8c"/>
<circle cx="426.7" cy="172.15" r="0.85" fill="#2c5c8c"/>
<circle cx="425.7" cy="175.68" r="0.85" fill="#2c5c8c"/>
<rect x="434.8" y="166.67" width="8.3" height="20.03" fill="#e4848f" />
<line x1="438.95" y1="155.98" x2="438.95" y2="177.36" stroke="#b42440" stroke-width="0.8"/>
<line x1="436.95" y1="155.98" x2="440.95" y2="155.98" stroke="#b42440" stroke-width="1.0"/>
<line x1="437.35" y1="177.36" x2="440.55" y2="177.36" stroke="#b42440" stroke-width="0.7"/>
<circle cx="437.75" cy="159.19" r="0.85" fill="#b42440"/>
<circle cx="439.95" cy="166.14" r="0.85" fill="#b42440"/>
<circle cx="438.95" cy="172.01" r="0.85" fill="#b42440"/>
<line x1="416.9" y1="138.5" x2="416.9" y2="187.3" stroke="#222" stroke-width="1.3"/>
<line x1="416.3" y1="186.7" x2="447.9" y2="186.7" stroke="#222" stroke-width="1.3"/>
<line x1="414.1" y1="186.7" x2="416.9" y2="186.7" stroke="#222" stroke-width="0.8"/>
<text x="410.6" y="188.6" font-size="5.3" text-anchor="end" fill="#2a2a2a"  stroke="#2a2a2a" stroke-width="0.20">0</text>
<line x1="414.1" y1="171.43" x2="416.9" y2="171.43" stroke="#222" stroke-width="0.8"/>
<text x="410.6" y="173.33" font-size="5.3" text-anchor="end" fill="#2a2a2a"  stroke="#2a2a2a" stroke-width="0.20">5</text>
<line x1="414.1" y1="156.17" x2="416.9" y2="156.17" stroke="#222" stroke-width="0.8"/>
<text x="410.6" y="158.07" font-size="5.3" text-anchor="end" fill="#2a2a2a"  stroke="#2a2a2a" stroke-width="0.20">10</text>
<line x1="414.1" y1="140.9" x2="416.9" y2="140.9" stroke="#222" stroke-width="0.8"/>
<text x="410.6" y="142.8" font-size="5.3" text-anchor="end" fill="#2a2a2a"  stroke="#2a2a2a" stroke-width="0.20">15</text>
<text x="419" y="148.4" font-size="5.6" fill="#2a2a2a" font-style="italic" class="b" stroke="#2a2a2a" stroke-width="0.20">P</text>
<path d="M425 145.55 H428.6 M425 147.25 H428.6" stroke="#2a2a2a" stroke-width="0.6"/>
<text x="429.9" y="148.4" font-size="5.6" fill="#2a2a2a" letter-spacing="0.75" class="b" stroke="#2a2a2a" stroke-width="0.20">.3920</text>
<path d="M425.7 164.46 V151.4 H438.95 V154.38" fill="none" stroke="#444" stroke-width="0.7"/>
<text transform="translate(398.1,162.2) rotate(-90)" font-size="5.6" text-anchor="middle" fill="#222" stroke="#222" stroke-width="0.32">% CD8<tspan font-size="3.8" dy="-1.9">+</tspan><tspan dy="1.9"> </tspan>cells</text>
<rect x="487.1" y="149.49" width="8.2" height="25.76" fill="#82a4c2" />
<line x1="491.2" y1="144.34" x2="491.2" y2="154.64" stroke="#2c5c8c" stroke-width="0.8"/>
<line x1="489.2" y1="144.34" x2="493.2" y2="144.34" stroke="#2c5c8c" stroke-width="1.0"/>
<line x1="489.6" y1="154.64" x2="492.8" y2="154.64" stroke="#2c5c8c" stroke-width="0.7"/>
<circle cx="490" cy="145.88" r="0.85" fill="#2c5c8c"/>
<circle cx="492.2" cy="149.23" r="0.85" fill="#2c5c8c"/>
<circle cx="491.2" cy="152.06" r="0.85" fill="#2c5c8c"/>
<rect x="500.3" y="171.24" width="8.3" height="4.01" fill="#e4848f" />
<line x1="504.45" y1="164.37" x2="504.45" y2="178.11" stroke="#b42440" stroke-width="0.8"/>
<line x1="502.45" y1="164.37" x2="506.45" y2="164.37" stroke="#b42440" stroke-width="1.0"/>
<line x1="502.85" y1="178.11" x2="506.05" y2="178.11" stroke="#b42440" stroke-width="0.7"/>
<circle cx="503.25" cy="166.43" r="0.85" fill="#b42440"/>
<circle cx="505.45" cy="170.9" r="0.85" fill="#b42440"/>
<circle cx="504.45" cy="174.68" r="0.85" fill="#b42440"/>
<line x1="482.4" y1="138.5" x2="482.4" y2="187.3" stroke="#222" stroke-width="1.3"/>
<line x1="481.8" y1="175.25" x2="513.4" y2="175.25" stroke="#222" stroke-width="1.3"/>
<line x1="481.8" y1="186.7" x2="513.4" y2="186.7" stroke="#222" stroke-width="1.3"/>
<line x1="479.6" y1="186.7" x2="482.4" y2="186.7" stroke="#222" stroke-width="0.8"/>
<text x="476.1" y="188.6" font-size="5.3" text-anchor="end" fill="#2a2a2a"  stroke="#2a2a2a" stroke-width="0.20">&#8722;20</text>
<line x1="479.6" y1="175.25" x2="482.4" y2="175.25" stroke="#222" stroke-width="0.8"/>
<text x="476.1" y="177.15" font-size="5.3" text-anchor="end" fill="#2a2a2a"  stroke="#2a2a2a" stroke-width="0.20">0</text>
<line x1="479.6" y1="163.8" x2="482.4" y2="163.8" stroke="#222" stroke-width="0.8"/>
<text x="476.1" y="165.7" font-size="5.3" text-anchor="end" fill="#2a2a2a"  stroke="#2a2a2a" stroke-width="0.20">20</text>
<line x1="479.6" y1="152.35" x2="482.4" y2="152.35" stroke="#222" stroke-width="0.8"/>
<text x="476.1" y="154.25" font-size="5.3" text-anchor="end" fill="#2a2a2a"  stroke="#2a2a2a" stroke-width="0.20">40</text>
<line x1="479.6" y1="140.9" x2="482.4" y2="140.9" stroke="#222" stroke-width="0.8"/>
<text x="476.1" y="142.8" font-size="5.3" text-anchor="end" fill="#2a2a2a"  stroke="#2a2a2a" stroke-width="0.20">60</text>
<text x="484.5" y="136" font-size="5.6" fill="#2a2a2a" font-style="italic" class="b" stroke="#2a2a2a" stroke-width="0.20">P</text>
<path d="M490.5 133.15 H494.1 M490.5 134.85 H494.1" stroke="#2a2a2a" stroke-width="0.6"/>
<text x="495.4" y="136" font-size="5.6" fill="#2a2a2a" letter-spacing="0.75" class="b" stroke="#2a2a2a" stroke-width="0.20">.0059</text>
<path d="M491.2 142.74 V137.8 H504.45 V162.77" fill="none" stroke="#444" stroke-width="0.7"/>
<text transform="translate(459.4,162) rotate(-90)" font-size="5.6" text-anchor="middle" fill="#222" stroke="#222" stroke-width="0.32">% CD4<tspan font-size="3.8" dy="-1.9">+</tspan><tspan dy="1.9"> </tspan>CD8<tspan font-size="3.8" dy="-1.9">+</tspan><tspan dy="1.9"> </tspan>cells</text>
<rect x="234.6" y="255" width="8.2" height="12.7" fill="#82a4c2" />
<line x1="238.7" y1="248.99" x2="238.7" y2="261" stroke="#2c5c8c" stroke-width="0.8"/>
<line x1="236.7" y1="248.99" x2="240.7" y2="248.99" stroke="#2c5c8c" stroke-width="1.0"/>
<line x1="237.1" y1="261" x2="240.3" y2="261" stroke="#2c5c8c" stroke-width="0.7"/>
<circle cx="237.5" cy="250.79" r="0.85" fill="#2c5c8c"/>
<circle cx="239.7" cy="254.69" r="0.85" fill="#2c5c8c"/>
<circle cx="238.7" cy="258" r="0.85" fill="#2c5c8c"/>
<rect x="247.8" y="238.94" width="8.3" height="28.76" fill="#e4848f" />
<line x1="251.95" y1="229.47" x2="251.95" y2="248.41" stroke="#b42440" stroke-width="0.8"/>
<line x1="249.95" y1="229.47" x2="253.95" y2="229.47" stroke="#b42440" stroke-width="1.0"/>
<line x1="250.35" y1="248.41" x2="253.55" y2="248.41" stroke="#b42440" stroke-width="0.7"/>
<circle cx="250.75" cy="232.31" r="0.85" fill="#b42440"/>
<circle cx="252.95" cy="238.47" r="0.85" fill="#b42440"/>
<circle cx="251.95" cy="243.68" r="0.85" fill="#b42440"/>
<line x1="229.9" y1="219.1" x2="229.9" y2="268.3" stroke="#222" stroke-width="1.3"/>
<line x1="229.3" y1="267.7" x2="260.9" y2="267.7" stroke="#222" stroke-width="1.3"/>
<line x1="227.1" y1="267.7" x2="229.9" y2="267.7" stroke="#222" stroke-width="0.8"/>
<text x="223.6" y="269.6" font-size="5.3" text-anchor="end" fill="#2a2a2a"  stroke="#2a2a2a" stroke-width="0.20">0</text>
<line x1="227.1" y1="256.15" x2="229.9" y2="256.15" stroke="#222" stroke-width="0.8"/>
<text x="223.6" y="258.05" font-size="5.3" text-anchor="end" fill="#2a2a2a"  stroke="#2a2a2a" stroke-width="0.20">10</text>
<line x1="227.1" y1="244.6" x2="229.9" y2="244.6" stroke="#222" stroke-width="0.8"/>
<text x="223.6" y="246.5" font-size="5.3" text-anchor="end" fill="#2a2a2a"  stroke="#2a2a2a" stroke-width="0.20">20</text>
<line x1="227.1" y1="233.05" x2="229.9" y2="233.05" stroke="#222" stroke-width="0.8"/>
<text x="223.6" y="234.95" font-size="5.3" text-anchor="end" fill="#2a2a2a"  stroke="#2a2a2a" stroke-width="0.20">30</text>
<line x1="227.1" y1="221.5" x2="229.9" y2="221.5" stroke="#222" stroke-width="0.8"/>
<text x="223.6" y="223.4" font-size="5.3" text-anchor="end" fill="#2a2a2a"  stroke="#2a2a2a" stroke-width="0.20">40</text>
<text x="232" y="221.1" font-size="5.6" fill="#2a2a2a" font-style="italic" class="b" stroke="#2a2a2a" stroke-width="0.20">P</text>
<path d="M238 218.25 H241.6 M238 219.95 H241.6" stroke="#2a2a2a" stroke-width="0.6"/>
<text x="242.9" y="221.1" font-size="5.6" fill="#2a2a2a" letter-spacing="0.75" class="b" stroke="#2a2a2a" stroke-width="0.20">.0491</text>
<path d="M238.7 247.39 V223.3 H251.95 V227.87" fill="none" stroke="#444" stroke-width="0.7"/>
<text transform="translate(211.8,241.5) rotate(-90)" font-size="5.6" text-anchor="middle" fill="#222" stroke="#222" stroke-width="0.32">% CD11b<tspan font-size="3.8" dy="-1.9">+</tspan><tspan dy="1.9"> </tspan>cells</text>
<rect x="297.6" y="260.31" width="8.2" height="7.39" fill="#82a4c2" />
<line x1="301.7" y1="256.06" x2="301.7" y2="264.56" stroke="#2c5c8c" stroke-width="0.8"/>
<line x1="299.7" y1="256.06" x2="303.7" y2="256.06" stroke="#2c5c8c" stroke-width="1.0"/>
<line x1="300.1" y1="264.56" x2="303.3" y2="264.56" stroke="#2c5c8c" stroke-width="0.7"/>
<circle cx="300.5" cy="257.33" r="0.85" fill="#2c5c8c"/>
<circle cx="302.7" cy="260.1" r="0.85" fill="#2c5c8c"/>
<circle cx="301.7" cy="262.43" r="0.85" fill="#2c5c8c"/>
<rect x="310.8" y="240.72" width="8.3" height="26.98" fill="#e4848f" />
<line x1="314.95" y1="231.29" x2="314.95" y2="250.14" stroke="#b42440" stroke-width="0.8"/>
<line x1="312.95" y1="231.29" x2="316.95" y2="231.29" stroke="#b42440" stroke-width="1.0"/>
<line x1="313.35" y1="250.14" x2="316.55" y2="250.14" stroke="#b42440" stroke-width="0.7"/>
<circle cx="313.75" cy="234.12" r="0.85" fill="#b42440"/>
<circle cx="315.95" cy="240.25" r="0.85" fill="#b42440"/>
<circle cx="314.95" cy="245.43" r="0.85" fill="#b42440"/>
<line x1="292.9" y1="219.1" x2="292.9" y2="268.3" stroke="#222" stroke-width="1.3"/>
<line x1="292.3" y1="267.7" x2="323.9" y2="267.7" stroke="#222" stroke-width="1.3"/>
<line x1="290.1" y1="267.7" x2="292.9" y2="267.7" stroke="#222" stroke-width="0.8"/>
<text x="286.6" y="269.6" font-size="5.3" text-anchor="end" fill="#2a2a2a"  stroke="#2a2a2a" stroke-width="0.20">0</text>
<line x1="290.1" y1="258.46" x2="292.9" y2="258.46" stroke="#222" stroke-width="0.8"/>
<text x="286.6" y="260.36" font-size="5.3" text-anchor="end" fill="#2a2a2a"  stroke="#2a2a2a" stroke-width="0.20">0.5</text>
<line x1="290.1" y1="249.22" x2="292.9" y2="249.22" stroke="#222" stroke-width="0.8"/>
<text x="286.6" y="251.12" font-size="5.3" text-anchor="end" fill="#2a2a2a"  stroke="#2a2a2a" stroke-width="0.20">1.0</text>
<line x1="290.1" y1="239.98" x2="292.9" y2="239.98" stroke="#222" stroke-width="0.8"/>
<text x="286.6" y="241.88" font-size="5.3" text-anchor="end" fill="#2a2a2a"  stroke="#2a2a2a" stroke-width="0.20">1.5</text>
<line x1="290.1" y1="230.74" x2="292.9" y2="230.74" stroke="#222" stroke-width="0.8"/>
<text x="286.6" y="232.64" font-size="5.3" text-anchor="end" fill="#2a2a2a"  stroke="#2a2a2a" stroke-width="0.20">2.0</text>
<line x1="290.1" y1="221.5" x2="292.9" y2="221.5" stroke="#222" stroke-width="0.8"/>
<text x="286.6" y="223.4" font-size="5.3" text-anchor="end" fill="#2a2a2a"  stroke="#2a2a2a" stroke-width="0.20">2.5</text>
<text x="295" y="223.3" font-size="5.6" fill="#2a2a2a" font-style="italic" class="b" stroke="#2a2a2a" stroke-width="0.20">P</text>
<path d="M301 220.45 H304.6 M301 222.15 H304.6" stroke="#2a2a2a" stroke-width="0.6"/>
<text x="305.9" y="223.3" font-size="5.6" fill="#2a2a2a" letter-spacing="0.75" class="b" stroke="#2a2a2a" stroke-width="0.20">.0262</text>
<path d="M301.7 254.46 V225.9 H314.95 V229.69" fill="none" stroke="#444" stroke-width="0.7"/>
<text transform="translate(272.5,243.5) rotate(-90)" font-size="5.6" text-anchor="middle" fill="#222" stroke="#222" stroke-width="0.32">% &#947;&#948;TCR<tspan font-size="3.8" dy="-1.9">+</tspan><tspan dy="1.9"> </tspan>cells</text>
<rect x="359.1" y="234.51" width="8.2" height="33.19" fill="#82a4c2" />
<line x1="363.2" y1="224.43" x2="363.2" y2="244.6" stroke="#2c5c8c" stroke-width="0.8"/>
<line x1="361.2" y1="224.43" x2="365.2" y2="224.43" stroke="#2c5c8c" stroke-width="1.0"/>
<line x1="361.6" y1="244.6" x2="364.8" y2="244.6" stroke="#2c5c8c" stroke-width="0.7"/>
<circle cx="362" cy="227.45" r="0.85" fill="#2c5c8c"/>
<circle cx="364.2" cy="234.01" r="0.85" fill="#2c5c8c"/>
<circle cx="363.2" cy="239.56" r="0.85" fill="#2c5c8c"/>
<rect x="372.3" y="249.91" width="8.3" height="17.79" fill="#e4848f" />
<line x1="376.45" y1="244.91" x2="376.45" y2="254.92" stroke="#b42440" stroke-width="0.8"/>
<line x1="374.45" y1="244.91" x2="378.45" y2="244.91" stroke="#b42440" stroke-width="1.0"/>
<line x1="374.85" y1="254.92" x2="378.05" y2="254.92" stroke="#b42440" stroke-width="0.7"/>
<circle cx="375.25" cy="246.41" r="0.85" fill="#b42440"/>
<circle cx="377.45" cy="249.66" r="0.85" fill="#b42440"/>
<circle cx="376.45" cy="252.42" r="0.85" fill="#b42440"/>
<line x1="354.4" y1="219.1" x2="354.4" y2="268.3" stroke="#222" stroke-width="1.3"/>
<line x1="353.8" y1="267.7" x2="385.4" y2="267.7" stroke="#222" stroke-width="1.3"/>
<line x1="351.6" y1="267.7" x2="354.4" y2="267.7" stroke="#222" stroke-width="0.8"/>
<text x="348.1" y="269.6" font-size="5.3" text-anchor="end" fill="#2a2a2a"  stroke="#2a2a2a" stroke-width="0.20">0</text>
<line x1="351.6" y1="252.3" x2="354.4" y2="252.3" stroke="#222" stroke-width="0.8"/>
<text x="348.1" y="254.2" font-size="5.3" text-anchor="end" fill="#2a2a2a"  stroke="#2a2a2a" stroke-width="0.20">20</text>
<line x1="351.6" y1="236.9" x2="354.4" y2="236.9" stroke="#222" stroke-width="0.8"/>
<text x="348.1" y="238.8" font-size="5.3" text-anchor="end" fill="#2a2a2a"  stroke="#2a2a2a" stroke-width="0.20">40</text>
<line x1="351.6" y1="221.5" x2="354.4" y2="221.5" stroke="#222" stroke-width="0.8"/>
<text x="348.1" y="223.4" font-size="5.3" text-anchor="end" fill="#2a2a2a"  stroke="#2a2a2a" stroke-width="0.20">60</text>
<text x="356.5" y="216.9" font-size="5.6" fill="#2a2a2a" font-style="italic" class="b" stroke="#2a2a2a" stroke-width="0.20">P</text>
<path d="M362.5 214.05 H366.1 M362.5 215.75 H366.1" stroke="#2a2a2a" stroke-width="0.6"/>
<text x="367.4" y="216.9" font-size="5.6" fill="#2a2a2a" letter-spacing="0.75" class="b" stroke="#2a2a2a" stroke-width="0.20">.0479</text>
<path d="M363.2 222.83 V218.6 H376.45 V243.31" fill="none" stroke="#444" stroke-width="0.7"/>
<text transform="translate(336.1,243.1) rotate(-90)" font-size="5.6" text-anchor="middle" fill="#222" stroke="#222" stroke-width="0.32">% CD4<tspan font-size="3.8" dy="-1.9">+</tspan><tspan dy="1.9"> </tspan>cells</text>
<rect x="421.6" y="249.22" width="8.2" height="18.48" fill="#82a4c2" />
<line x1="425.7" y1="232.82" x2="425.7" y2="265.62" stroke="#2c5c8c" stroke-width="0.8"/>
<line x1="423.7" y1="232.82" x2="427.7" y2="232.82" stroke="#2c5c8c" stroke-width="1.0"/>
<line x1="424.1" y1="265.62" x2="427.3" y2="265.62" stroke="#2c5c8c" stroke-width="0.7"/>
<circle cx="424.5" cy="237.74" r="0.85" fill="#2c5c8c"/>
<circle cx="426.7" cy="248.4" r="0.85" fill="#2c5c8c"/>
<circle cx="425.7" cy="257.42" r="0.85" fill="#2c5c8c"/>
<rect x="434.8" y="241.94" width="8.3" height="25.76" fill="#e4848f" />
<line x1="438.95" y1="229.47" x2="438.95" y2="254.42" stroke="#b42440" stroke-width="0.8"/>
<line x1="436.95" y1="229.47" x2="440.95" y2="229.47" stroke="#b42440" stroke-width="1.0"/>
<line x1="437.35" y1="254.42" x2="440.55" y2="254.42" stroke="#b42440" stroke-width="0.7"/>
<circle cx="437.75" cy="233.21" r="0.85" fill="#b42440"/>
<circle cx="439.95" cy="241.32" r="0.85" fill="#b42440"/>
<circle cx="438.95" cy="248.18" r="0.85" fill="#b42440"/>
<line x1="416.9" y1="219.1" x2="416.9" y2="268.3" stroke="#222" stroke-width="1.3"/>
<line x1="416.3" y1="267.7" x2="447.9" y2="267.7" stroke="#222" stroke-width="1.3"/>
<line x1="414.1" y1="267.7" x2="416.9" y2="267.7" stroke="#222" stroke-width="0.8"/>
<text x="410.6" y="269.6" font-size="5.3" text-anchor="end" fill="#2a2a2a"  stroke="#2a2a2a" stroke-width="0.20">0</text>
<line x1="414.1" y1="256.15" x2="416.9" y2="256.15" stroke="#222" stroke-width="0.8"/>
<text x="410.6" y="258.05" font-size="5.3" text-anchor="end" fill="#2a2a2a"  stroke="#2a2a2a" stroke-width="0.20">10</text>
<line x1="414.1" y1="244.6" x2="416.9" y2="244.6" stroke="#222" stroke-width="0.8"/>
<text x="410.6" y="246.5" font-size="5.3" text-anchor="end" fill="#2a2a2a"  stroke="#2a2a2a" stroke-width="0.20">20</text>
<line x1="414.1" y1="233.05" x2="416.9" y2="233.05" stroke="#222" stroke-width="0.8"/>
<text x="410.6" y="234.95" font-size="5.3" text-anchor="end" fill="#2a2a2a"  stroke="#2a2a2a" stroke-width="0.20">30</text>
<line x1="414.1" y1="221.5" x2="416.9" y2="221.5" stroke="#222" stroke-width="0.8"/>
<text x="410.6" y="223.4" font-size="5.3" text-anchor="end" fill="#2a2a2a"  stroke="#2a2a2a" stroke-width="0.20">40</text>
<text x="419" y="221.4" font-size="5.6" fill="#2a2a2a" font-style="italic" class="b" stroke="#2a2a2a" stroke-width="0.20">P</text>
<path d="M425 218.55 H428.6 M425 220.25 H428.6" stroke="#2a2a2a" stroke-width="0.6"/>
<text x="429.9" y="221.4" font-size="5.6" fill="#2a2a2a" letter-spacing="0.75" class="b" stroke="#2a2a2a" stroke-width="0.20">.5535</text>
<path d="M425.7 231.22 V223.6 H438.95 V227.87" fill="none" stroke="#444" stroke-width="0.7"/>
<text transform="translate(398.1,243) rotate(-90)" font-size="5.6" text-anchor="middle" fill="#222" stroke="#222" stroke-width="0.32">% CD8<tspan font-size="3.8" dy="-1.9">+</tspan><tspan dy="1.9"> </tspan>cells</text>
<rect x="487.1" y="258" width="8.2" height="0.46" fill="#82a4c2" />
<line x1="491.2" y1="257.72" x2="491.2" y2="258.28" stroke="#2c5c8c" stroke-width="0.8"/>
<line x1="489.2" y1="257.72" x2="493.2" y2="257.72" stroke="#2c5c8c" stroke-width="1.0"/>
<line x1="489.6" y1="258.28" x2="492.8" y2="258.28" stroke="#2c5c8c" stroke-width="0.7"/>
<circle cx="490" cy="257.8" r="0.85" fill="#2c5c8c"/>
<circle cx="492.2" cy="257.98" r="0.85" fill="#2c5c8c"/>
<circle cx="491.2" cy="258.14" r="0.85" fill="#2c5c8c"/>
<rect x="500.3" y="250.33" width="8.3" height="8.13" fill="#e4848f" />
<line x1="504.45" y1="233.88" x2="504.45" y2="266.78" stroke="#b42440" stroke-width="0.8"/>
<line x1="502.45" y1="233.88" x2="506.45" y2="233.88" stroke="#b42440" stroke-width="1.0"/>
<line x1="502.85" y1="266.78" x2="506.05" y2="266.78" stroke="#b42440" stroke-width="0.7"/>
<circle cx="503.25" cy="238.82" r="0.85" fill="#b42440"/>
<circle cx="505.45" cy="249.51" r="0.85" fill="#b42440"/>
<circle cx="504.45" cy="258.55" r="0.85" fill="#b42440"/>
<line x1="482.4" y1="219.1" x2="482.4" y2="268.3" stroke="#222" stroke-width="1.3"/>
<line x1="481.8" y1="258.46" x2="513.4" y2="258.46" stroke="#222" stroke-width="1.3"/>
<line x1="481.8" y1="267.7" x2="513.4" y2="267.7" stroke="#222" stroke-width="1.3"/>
<line x1="479.6" y1="267.7" x2="482.4" y2="267.7" stroke="#222" stroke-width="0.8"/>
<text x="476.1" y="269.6" font-size="5.3" text-anchor="end" fill="#2a2a2a"  stroke="#2a2a2a" stroke-width="0.20">&#8722;50</text>
<line x1="479.6" y1="258.46" x2="482.4" y2="258.46" stroke="#222" stroke-width="0.8"/>
<text x="476.1" y="260.36" font-size="5.3" text-anchor="end" fill="#2a2a2a"  stroke="#2a2a2a" stroke-width="0.20">0</text>
<line x1="479.6" y1="249.22" x2="482.4" y2="249.22" stroke="#222" stroke-width="0.8"/>
<text x="476.1" y="251.12" font-size="5.3" text-anchor="end" fill="#2a2a2a"  stroke="#2a2a2a" stroke-width="0.20">50</text>
<line x1="479.6" y1="239.98" x2="482.4" y2="239.98" stroke="#222" stroke-width="0.8"/>
<text x="476.1" y="241.88" font-size="5.3" text-anchor="end" fill="#2a2a2a"  stroke="#2a2a2a" stroke-width="0.20">100</text>
<line x1="479.6" y1="230.74" x2="482.4" y2="230.74" stroke="#222" stroke-width="0.8"/>
<text x="476.1" y="232.64" font-size="5.3" text-anchor="end" fill="#2a2a2a"  stroke="#2a2a2a" stroke-width="0.20">150</text>
<line x1="479.6" y1="221.5" x2="482.4" y2="221.5" stroke="#222" stroke-width="0.8"/>
<text x="476.1" y="223.4" font-size="5.3" text-anchor="end" fill="#2a2a2a"  stroke="#2a2a2a" stroke-width="0.20">200</text>
<text x="484.5" y="224.1" font-size="5.6" fill="#2a2a2a" font-style="italic" class="b" stroke="#2a2a2a" stroke-width="0.20">P</text>
<path d="M490.5 221.25 H494.1 M490.5 222.95 H494.1" stroke="#2a2a2a" stroke-width="0.6"/>
<text x="495.4" y="224.1" font-size="5.6" fill="#2a2a2a" letter-spacing="0.75" class="b" stroke="#2a2a2a" stroke-width="0.20">.3875</text>
<path d="M491.2 256.12 V226.7 H504.45 V232.28" fill="none" stroke="#444" stroke-width="0.7"/>
<text transform="translate(460.1,243.1) rotate(-90)" font-size="5.6" text-anchor="middle" fill="#222" stroke="#222" stroke-width="0.32">% CD4<tspan font-size="3.8" dy="-1.9">+</tspan><tspan dy="1.9"> </tspan>CD8<tspan font-size="3.8" dy="-1.9">+</tspan><tspan dy="1.9"> </tspan>cells</text>
<rect x="234.6" y="331.22" width="8.2" height="17.78" fill="#82a4c2" />
<line x1="238.7" y1="330.67" x2="238.7" y2="331.78" stroke="#2c5c8c" stroke-width="0.8"/>
<line x1="236.7" y1="330.67" x2="240.7" y2="330.67" stroke="#2c5c8c" stroke-width="1.0"/>
<line x1="237.1" y1="331.78" x2="240.3" y2="331.78" stroke="#2c5c8c" stroke-width="0.7"/>
<circle cx="237.5" cy="330.83" r="0.85" fill="#2c5c8c"/>
<circle cx="239.7" cy="331.19" r="0.85" fill="#2c5c8c"/>
<circle cx="238.7" cy="331.5" r="0.85" fill="#2c5c8c"/>
<rect x="247.8" y="314.51" width="8.3" height="34.49" fill="#e4848f" />
<line x1="251.95" y1="305.25" x2="251.95" y2="323.77" stroke="#b42440" stroke-width="0.8"/>
<line x1="249.95" y1="305.25" x2="253.95" y2="305.25" stroke="#b42440" stroke-width="1.0"/>
<line x1="250.35" y1="323.77" x2="253.55" y2="323.77" stroke="#b42440" stroke-width="0.7"/>
<circle cx="250.75" cy="308.02" r="0.85" fill="#b42440"/>
<circle cx="252.95" cy="314.04" r="0.85" fill="#b42440"/>
<circle cx="251.95" cy="319.14" r="0.85" fill="#b42440"/>
<line x1="229.9" y1="300.3" x2="229.9" y2="349.6" stroke="#222" stroke-width="1.3"/>
<line x1="229.3" y1="349" x2="260.9" y2="349" stroke="#222" stroke-width="1.3"/>
<line x1="227.1" y1="349" x2="229.9" y2="349" stroke="#222" stroke-width="0.8"/>
<text x="223.6" y="350.9" font-size="5.3" text-anchor="end" fill="#2a2a2a"  stroke="#2a2a2a" stroke-width="0.20">0</text>
<line x1="227.1" y1="339.74" x2="229.9" y2="339.74" stroke="#222" stroke-width="0.8"/>
<text x="223.6" y="341.64" font-size="5.3" text-anchor="end" fill="#2a2a2a"  stroke="#2a2a2a" stroke-width="0.20">2</text>
<line x1="227.1" y1="330.48" x2="229.9" y2="330.48" stroke="#222" stroke-width="0.8"/>
<text x="223.6" y="332.38" font-size="5.3" text-anchor="end" fill="#2a2a2a"  stroke="#2a2a2a" stroke-width="0.20">4</text>
<line x1="227.1" y1="321.22" x2="229.9" y2="321.22" stroke="#222" stroke-width="0.8"/>
<text x="223.6" y="323.12" font-size="5.3" text-anchor="end" fill="#2a2a2a"  stroke="#2a2a2a" stroke-width="0.20">6</text>
<line x1="227.1" y1="311.96" x2="229.9" y2="311.96" stroke="#222" stroke-width="0.8"/>
<text x="223.6" y="313.86" font-size="5.3" text-anchor="end" fill="#2a2a2a"  stroke="#2a2a2a" stroke-width="0.20">8</text>
<line x1="227.1" y1="302.7" x2="229.9" y2="302.7" stroke="#222" stroke-width="0.8"/>
<text x="223.6" y="304.6" font-size="5.3" text-anchor="end" fill="#2a2a2a"  stroke="#2a2a2a" stroke-width="0.20">10</text>
<text x="232" y="296.7" font-size="5.6" fill="#2a2a2a" font-style="italic" class="b" stroke="#2a2a2a" stroke-width="0.20">P</text>
<path d="M238 293.85 H241.6 M238 295.55 H241.6" stroke="#2a2a2a" stroke-width="0.6"/>
<text x="242.9" y="296.7" font-size="5.6" fill="#2a2a2a" letter-spacing="0.75" class="b" stroke="#2a2a2a" stroke-width="0.20">.0138</text>
<path d="M238.7 329.07 V299.7 H251.95 V303.65" fill="none" stroke="#444" stroke-width="0.7"/>
<text transform="translate(211.9,322.85) rotate(-90)" font-size="5.6" text-anchor="middle" fill="#222" stroke="#222" stroke-width="0.32">% CD11b<tspan font-size="3.8" dy="-1.9">+</tspan><tspan dy="1.9"> </tspan>cells</text>
<rect x="297.6" y="344.08" width="8.2" height="4.92" fill="#82a4c2" />
<line x1="301.7" y1="342.34" x2="301.7" y2="345.82" stroke="#2c5c8c" stroke-width="0.8"/>
<line x1="299.7" y1="342.34" x2="303.7" y2="342.34" stroke="#2c5c8c" stroke-width="1.0"/>
<line x1="300.1" y1="345.82" x2="303.3" y2="345.82" stroke="#2c5c8c" stroke-width="0.7"/>
<circle cx="300.5" cy="342.87" r="0.85" fill="#2c5c8c"/>
<circle cx="302.7" cy="343.99" r="0.85" fill="#2c5c8c"/>
<circle cx="301.7" cy="344.95" r="0.85" fill="#2c5c8c"/>
<rect x="310.8" y="319.02" width="8.3" height="29.98" fill="#e4848f" />
<line x1="314.95" y1="306.29" x2="314.95" y2="331.75" stroke="#b42440" stroke-width="0.8"/>
<line x1="312.95" y1="306.29" x2="316.95" y2="306.29" stroke="#b42440" stroke-width="1.0"/>
<line x1="313.35" y1="331.75" x2="316.55" y2="331.75" stroke="#b42440" stroke-width="0.7"/>
<circle cx="313.75" cy="310.11" r="0.85" fill="#b42440"/>
<circle cx="315.95" cy="318.38" r="0.85" fill="#b42440"/>
<circle cx="314.95" cy="325.39" r="0.85" fill="#b42440"/>
<line x1="292.9" y1="300.3" x2="292.9" y2="349.6" stroke="#222" stroke-width="1.3"/>
<line x1="292.3" y1="349" x2="323.9" y2="349" stroke="#222" stroke-width="1.3"/>
<line x1="290.1" y1="349" x2="292.9" y2="349" stroke="#222" stroke-width="0.8"/>
<text x="286.6" y="350.9" font-size="5.3" text-anchor="end" fill="#2a2a2a"  stroke="#2a2a2a" stroke-width="0.20">0</text>
<line x1="290.1" y1="337.43" x2="292.9" y2="337.43" stroke="#222" stroke-width="0.8"/>
<text x="286.6" y="339.32" font-size="5.3" text-anchor="end" fill="#2a2a2a"  stroke="#2a2a2a" stroke-width="0.20">2</text>
<line x1="290.1" y1="325.85" x2="292.9" y2="325.85" stroke="#222" stroke-width="0.8"/>
<text x="286.6" y="327.75" font-size="5.3" text-anchor="end" fill="#2a2a2a"  stroke="#2a2a2a" stroke-width="0.20">4</text>
<line x1="290.1" y1="314.27" x2="292.9" y2="314.27" stroke="#222" stroke-width="0.8"/>
<text x="286.6" y="316.17" font-size="5.3" text-anchor="end" fill="#2a2a2a"  stroke="#2a2a2a" stroke-width="0.20">6</text>
<line x1="290.1" y1="302.7" x2="292.9" y2="302.7" stroke="#222" stroke-width="0.8"/>
<text x="286.6" y="304.6" font-size="5.3" text-anchor="end" fill="#2a2a2a"  stroke="#2a2a2a" stroke-width="0.20">8</text>
<text x="295" y="299.4" font-size="5.6" fill="#2a2a2a" font-style="italic" class="b" stroke="#2a2a2a" stroke-width="0.20">P</text>
<path d="M301 296.55 H304.6 M301 298.25 H304.6" stroke="#2a2a2a" stroke-width="0.6"/>
<text x="305.9" y="299.4" font-size="5.6" fill="#2a2a2a" letter-spacing="0.75" class="b" stroke="#2a2a2a" stroke-width="0.20">.0216</text>
<path d="M301.7 340.74 V302.7 H314.95 V304.69" fill="none" stroke="#444" stroke-width="0.7"/>
<text transform="translate(277.8,322.85) rotate(-90)" font-size="5.6" text-anchor="middle" fill="#222" stroke="#222" stroke-width="0.32">% &#947;&#948;TCR<tspan font-size="3.8" dy="-1.9">+</tspan><tspan dy="1.9"> </tspan>cells</text>
<rect x="359.1" y="307.79" width="8.2" height="41.21" fill="#82a4c2" />
<line x1="363.2" y1="305.59" x2="363.2" y2="309.99" stroke="#2c5c8c" stroke-width="0.8"/>
<line x1="361.2" y1="305.59" x2="365.2" y2="305.59" stroke="#2c5c8c" stroke-width="1.0"/>
<line x1="361.6" y1="309.99" x2="364.8" y2="309.99" stroke="#2c5c8c" stroke-width="0.7"/>
<circle cx="362" cy="306.25" r="0.85" fill="#2c5c8c"/>
<circle cx="364.2" cy="307.68" r="0.85" fill="#2c5c8c"/>
<circle cx="363.2" cy="308.89" r="0.85" fill="#2c5c8c"/>
<rect x="372.3" y="319.48" width="8.3" height="29.52" fill="#e4848f" />
<line x1="376.45" y1="312.77" x2="376.45" y2="326.2" stroke="#b42440" stroke-width="0.8"/>
<line x1="374.45" y1="312.77" x2="378.45" y2="312.77" stroke="#b42440" stroke-width="1.0"/>
<line x1="374.85" y1="326.2" x2="378.05" y2="326.2" stroke="#b42440" stroke-width="0.7"/>
<circle cx="375.25" cy="314.78" r="0.85" fill="#b42440"/>
<circle cx="377.45" cy="319.15" r="0.85" fill="#b42440"/>
<circle cx="376.45" cy="322.84" r="0.85" fill="#b42440"/>
<line x1="354.4" y1="300.3" x2="354.4" y2="349.6" stroke="#222" stroke-width="1.3"/>
<line x1="353.8" y1="349" x2="385.4" y2="349" stroke="#222" stroke-width="1.3"/>
<line x1="351.6" y1="349" x2="354.4" y2="349" stroke="#222" stroke-width="0.8"/>
<text x="348.1" y="350.9" font-size="5.3" text-anchor="end" fill="#2a2a2a"  stroke="#2a2a2a" stroke-width="0.20">0</text>
<line x1="351.6" y1="337.43" x2="354.4" y2="337.43" stroke="#222" stroke-width="0.8"/>
<text x="348.1" y="339.32" font-size="5.3" text-anchor="end" fill="#2a2a2a"  stroke="#2a2a2a" stroke-width="0.20">10</text>
<line x1="351.6" y1="325.85" x2="354.4" y2="325.85" stroke="#222" stroke-width="0.8"/>
<text x="348.1" y="327.75" font-size="5.3" text-anchor="end" fill="#2a2a2a"  stroke="#2a2a2a" stroke-width="0.20">20</text>
<line x1="351.6" y1="314.27" x2="354.4" y2="314.27" stroke="#222" stroke-width="0.8"/>
<text x="348.1" y="316.17" font-size="5.3" text-anchor="end" fill="#2a2a2a"  stroke="#2a2a2a" stroke-width="0.20">30</text>
<line x1="351.6" y1="302.7" x2="354.4" y2="302.7" stroke="#222" stroke-width="0.8"/>
<text x="348.1" y="304.6" font-size="5.3" text-anchor="end" fill="#2a2a2a"  stroke="#2a2a2a" stroke-width="0.20">40</text>
<text x="356.5" y="298.4" font-size="5.6" fill="#2a2a2a" font-style="italic" class="b" stroke="#2a2a2a" stroke-width="0.20">P</text>
<path d="M362.5 295.55 H366.1 M362.5 297.25 H366.1" stroke="#2a2a2a" stroke-width="0.6"/>
<text x="367.4" y="298.4" font-size="5.6" fill="#2a2a2a" letter-spacing="0.75" class="b" stroke="#2a2a2a" stroke-width="0.20">.0262</text>
<path d="M363.2 303.99 V300.6 H376.45 V311.17" fill="none" stroke="#444" stroke-width="0.7"/>
<text transform="translate(336.1,324.35) rotate(-90)" font-size="5.6" text-anchor="middle" fill="#222" stroke="#222" stroke-width="0.32">% CD4<tspan font-size="3.8" dy="-1.9">+</tspan><tspan dy="1.9"> </tspan>cells</text>
<rect x="421.6" y="308.95" width="8.2" height="40.05" fill="#82a4c2" />
<line x1="425.7" y1="305.71" x2="425.7" y2="312.19" stroke="#2c5c8c" stroke-width="0.8"/>
<line x1="423.7" y1="305.71" x2="427.7" y2="305.71" stroke="#2c5c8c" stroke-width="1.0"/>
<line x1="424.1" y1="312.19" x2="427.3" y2="312.19" stroke="#2c5c8c" stroke-width="0.7"/>
<circle cx="424.5" cy="306.68" r="0.85" fill="#2c5c8c"/>
<circle cx="426.7" cy="308.79" r="0.85" fill="#2c5c8c"/>
<circle cx="425.7" cy="310.57" r="0.85" fill="#2c5c8c"/>
<rect x="434.8" y="319.83" width="8.3" height="29.17" fill="#e4848f" />
<line x1="438.95" y1="311.73" x2="438.95" y2="327.93" stroke="#b42440" stroke-width="0.8"/>
<line x1="436.95" y1="311.73" x2="440.95" y2="311.73" stroke="#b42440" stroke-width="1.0"/>
<line x1="437.35" y1="327.93" x2="440.55" y2="327.93" stroke="#b42440" stroke-width="0.7"/>
<circle cx="437.75" cy="314.16" r="0.85" fill="#b42440"/>
<circle cx="439.95" cy="319.43" r="0.85" fill="#b42440"/>
<circle cx="438.95" cy="323.88" r="0.85" fill="#b42440"/>
<line x1="416.9" y1="300.3" x2="416.9" y2="349.6" stroke="#222" stroke-width="1.3"/>
<line x1="416.3" y1="349" x2="447.9" y2="349" stroke="#222" stroke-width="1.3"/>
<line x1="414.1" y1="349" x2="416.9" y2="349" stroke="#222" stroke-width="0.8"/>
<text x="410.6" y="350.9" font-size="5.3" text-anchor="end" fill="#2a2a2a"  stroke="#2a2a2a" stroke-width="0.20">0</text>
<line x1="414.1" y1="337.43" x2="416.9" y2="337.43" stroke="#222" stroke-width="0.8"/>
<text x="410.6" y="339.32" font-size="5.3" text-anchor="end" fill="#2a2a2a"  stroke="#2a2a2a" stroke-width="0.20">5</text>
<line x1="414.1" y1="325.85" x2="416.9" y2="325.85" stroke="#222" stroke-width="0.8"/>
<text x="410.6" y="327.75" font-size="5.3" text-anchor="end" fill="#2a2a2a"  stroke="#2a2a2a" stroke-width="0.20">10</text>
<line x1="414.1" y1="314.27" x2="416.9" y2="314.27" stroke="#222" stroke-width="0.8"/>
<text x="410.6" y="316.17" font-size="5.3" text-anchor="end" fill="#2a2a2a"  stroke="#2a2a2a" stroke-width="0.20">15</text>
<line x1="414.1" y1="302.7" x2="416.9" y2="302.7" stroke="#222" stroke-width="0.8"/>
<text x="410.6" y="304.6" font-size="5.3" text-anchor="end" fill="#2a2a2a"  stroke="#2a2a2a" stroke-width="0.20">20</text>
<text x="419" y="298.4" font-size="5.6" fill="#2a2a2a" font-style="italic" class="b" stroke="#2a2a2a" stroke-width="0.20">P</text>
<path d="M425 295.55 H428.6 M425 297.25 H428.6" stroke="#2a2a2a" stroke-width="0.6"/>
<text x="429.9" y="298.4" font-size="5.6" fill="#2a2a2a" letter-spacing="0.75" class="b" stroke="#2a2a2a" stroke-width="0.20">.0585</text>
<path d="M425.7 304.11 V300.6 H438.95 V310.13" fill="none" stroke="#444" stroke-width="0.7"/>
<text transform="translate(398.1,324.25) rotate(-90)" font-size="5.6" text-anchor="middle" fill="#222" stroke="#222" stroke-width="0.32">% CD8<tspan font-size="3.8" dy="-1.9">+</tspan><tspan dy="1.9"> </tspan>cells</text>
<rect x="487.1" y="319" width="8.2" height="30" fill="#82a4c2" />
<line x1="491.2" y1="310.48" x2="491.2" y2="327.52" stroke="#2c5c8c" stroke-width="0.8"/>
<line x1="489.2" y1="310.48" x2="493.2" y2="310.48" stroke="#2c5c8c" stroke-width="1.0"/>
<line x1="489.6" y1="327.52" x2="492.8" y2="327.52" stroke="#2c5c8c" stroke-width="0.7"/>
<circle cx="490" cy="313.03" r="0.85" fill="#2c5c8c"/>
<circle cx="492.2" cy="318.57" r="0.85" fill="#2c5c8c"/>
<circle cx="491.2" cy="323.26" r="0.85" fill="#2c5c8c"/>
<rect x="500.3" y="325.11" width="8.3" height="23.89" fill="#e4848f" />
<line x1="504.45" y1="319" x2="504.45" y2="331.22" stroke="#b42440" stroke-width="0.8"/>
<line x1="502.45" y1="319" x2="506.45" y2="319" stroke="#b42440" stroke-width="1.0"/>
<line x1="502.85" y1="331.22" x2="506.05" y2="331.22" stroke="#b42440" stroke-width="0.7"/>
<circle cx="503.25" cy="320.83" r="0.85" fill="#b42440"/>
<circle cx="505.45" cy="324.8" r="0.85" fill="#b42440"/>
<circle cx="504.45" cy="328.17" r="0.85" fill="#b42440"/>
<line x1="482.4" y1="300.3" x2="482.4" y2="349.6" stroke="#222" stroke-width="1.3"/>
<line x1="481.8" y1="349" x2="513.4" y2="349" stroke="#222" stroke-width="1.3"/>
<line x1="479.6" y1="349" x2="482.4" y2="349" stroke="#222" stroke-width="0.8"/>
<text x="476.1" y="350.9" font-size="5.3" text-anchor="end" fill="#2a2a2a"  stroke="#2a2a2a" stroke-width="0.20">0</text>
<line x1="479.6" y1="339.74" x2="482.4" y2="339.74" stroke="#222" stroke-width="0.8"/>
<text x="476.1" y="341.64" font-size="5.3" text-anchor="end" fill="#2a2a2a"  stroke="#2a2a2a" stroke-width="0.20">0.5</text>
<line x1="479.6" y1="330.48" x2="482.4" y2="330.48" stroke="#222" stroke-width="0.8"/>
<text x="476.1" y="332.38" font-size="5.3" text-anchor="end" fill="#2a2a2a"  stroke="#2a2a2a" stroke-width="0.20">1.0</text>
<line x1="479.6" y1="321.22" x2="482.4" y2="321.22" stroke="#222" stroke-width="0.8"/>
<text x="476.1" y="323.12" font-size="5.3" text-anchor="end" fill="#2a2a2a"  stroke="#2a2a2a" stroke-width="0.20">1.5</text>
<line x1="479.6" y1="311.96" x2="482.4" y2="311.96" stroke="#222" stroke-width="0.8"/>
<text x="476.1" y="313.86" font-size="5.3" text-anchor="end" fill="#2a2a2a"  stroke="#2a2a2a" stroke-width="0.20">2.0</text>
<line x1="479.6" y1="302.7" x2="482.4" y2="302.7" stroke="#222" stroke-width="0.8"/>
<text x="476.1" y="304.6" font-size="5.3" text-anchor="end" fill="#2a2a2a"  stroke="#2a2a2a" stroke-width="0.20">2.5</text>
<text x="484.5" y="302.7" font-size="5.6" fill="#2a2a2a" font-style="italic" class="b" stroke="#2a2a2a" stroke-width="0.20">P</text>
<path d="M490.5 299.85 H494.1 M490.5 301.55 H494.1" stroke="#2a2a2a" stroke-width="0.6"/>
<text x="495.4" y="302.7" font-size="5.6" fill="#2a2a2a" letter-spacing="0.75" class="b" stroke="#2a2a2a" stroke-width="0.20">.3897</text>
<path d="M491.2 308.88 V305.2 H504.45 V317.4" fill="none" stroke="#444" stroke-width="0.7"/>
<text transform="translate(462.1,324.35) rotate(-90)" font-size="5.6" text-anchor="middle" fill="#222" stroke="#222" stroke-width="0.32">% CD4<tspan font-size="3.8" dy="-1.9">+</tspan><tspan dy="1.9"> </tspan>CD8<tspan font-size="3.8" dy="-1.9">+</tspan><tspan dy="1.9"> </tspan>cells</text>
</svg>
<div class="frame"></div>
</body></html>
